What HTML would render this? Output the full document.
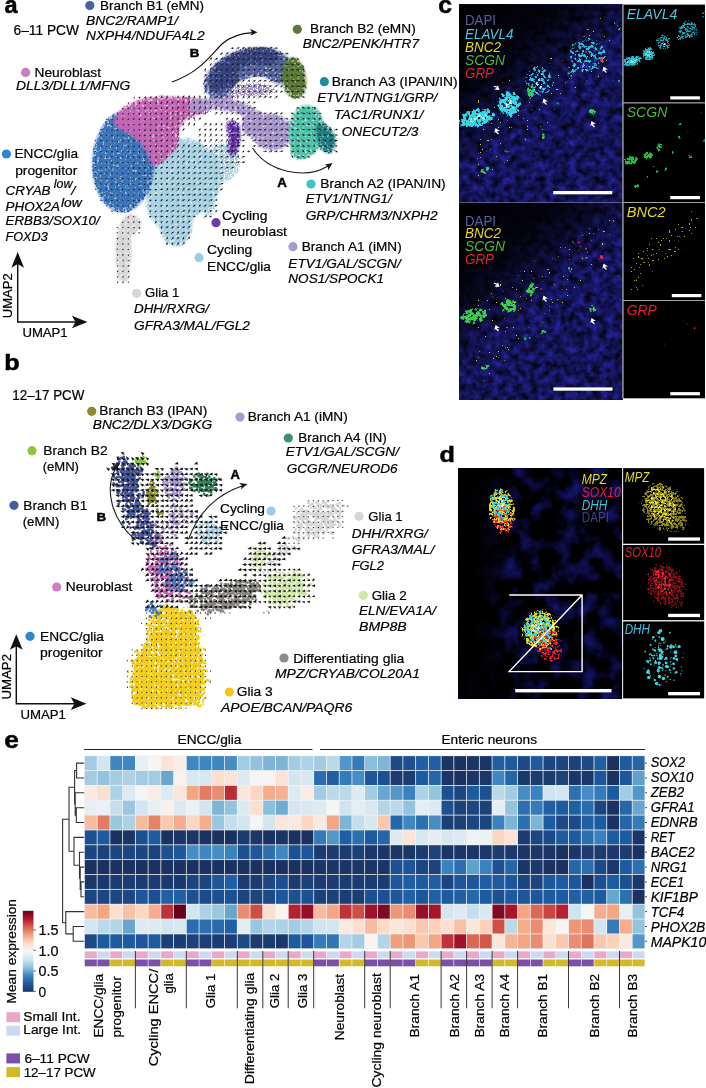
<!DOCTYPE html>
<html><head><meta charset="utf-8"><title>Figure</title>
<style>html,body{margin:0;padding:0;background:#fff}svg{display:block}text{font-family:"Liberation Sans",sans-serif;fill:#000;stroke:#000;stroke-width:.22px}text[style]{stroke:none}text.bd{stroke-width:.5px}text.bs{stroke-width:.45px}</style>
</head><body>
<svg width="706" height="1088" viewBox="0 0 706 1088">
<rect width="706" height="1088" fill="#fff"/>
<defs>
<filter id="pc" filterUnits="userSpaceOnUse" x="80" y="25" width="275" height="275" color-interpolation-filters="sRGB">
<feGaussianBlur stdDeviation="3.6" result="b"/>
<feTurbulence type="fractalNoise" baseFrequency="0.4" numOctaves="2" seed="4" result="n"/>
<feComposite in="b" in2="n" operator="in"/>
<feComponentTransfer result="t"><feFuncA type="linear" slope="12" intercept="-3.5"/></feComponentTransfer>
<feComponentTransfer in="b" result="h"><feFuncA type="table" tableValues="0 0 .05 .42 .5 .5"/></feComponentTransfer>
<feMerge><feMergeNode in="h"/><feMergeNode in="t"/></feMerge>
</filter>
<filter id="pc2" filterUnits="userSpaceOnUse" x="80" y="25" width="275" height="275" color-interpolation-filters="sRGB">
<feGaussianBlur stdDeviation="3.5" result="b"/>
<feTurbulence type="fractalNoise" baseFrequency="0.75" numOctaves="1" seed="9" result="n"/>
<feComposite in="b" in2="n" operator="in"/>
<feComponentTransfer><feFuncA type="linear" slope="14" intercept="-5.4"/></feComponentTransfer>
</filter>
</defs>
<g filter="url(#pc)" fill="#a9d3e4" stroke="#a9d3e4"><ellipse cx="182" cy="178" rx="40" ry="40"/><ellipse cx="176" cy="222" rx="17" ry="25"/><ellipse cx="164" cy="200" rx="18" ry="28"/></g>
<g filter="url(#pc2)" fill="#a9d3e4" stroke="#a9d3e4"><ellipse cx="223" cy="162" rx="19" ry="22"/><ellipse cx="208" cy="205" rx="10" ry="14"/></g>
<g filter="url(#pc)" fill="#d6d6d6" stroke="#d6d6d6"><ellipse cx="123.5" cy="250" rx="8" ry="28"/><ellipse cx="123.5" cy="276" rx="7" ry="7"/><ellipse cx="131" cy="224" rx="11" ry="10"/></g>
<g filter="url(#pc)" fill="#3b74b9" stroke="#3b74b9"><ellipse cx="123.7" cy="161.7" rx="31.5" ry="51" transform="rotate(3 123.7 161.7)"/></g>
<g filter="url(#pc)" fill="#c465b4" stroke="#c465b4"><path d="M111 124L121 108L140 99L165 96L200 98L210 104L200 114L186 119L179 129L178 147L166 160L153 169L146 152L135 137L120 130Z"/></g>
<g filter="url(#pc2)" fill="#c465b4" stroke="#c465b4"><ellipse cx="204" cy="110" rx="10" ry="7" transform="rotate(-5 204 110)"/></g>
<g filter="url(#pc)" fill="#a896cf" stroke="#a896cf"><ellipse cx="272" cy="132" rx="21" ry="18.5" transform="rotate(8 272 132)"/><ellipse cx="253" cy="126" rx="12" ry="11"/><path d="M194 106L215 103L240 107L262 120" fill="none" stroke-width="13" stroke-linecap="round"/></g>
<g filter="url(#pc2)" fill="#a896cf" stroke="#a896cf"><ellipse cx="252" cy="90" rx="26" ry="9"/><ellipse cx="222" cy="98" rx="14" ry="7"/></g>
<g filter="url(#pc)" fill="#5563a3" stroke="#5563a3"><path d="M218 84C223 72 238 63 255 62C267 61 276 64 280 70" fill="none" stroke-width="30" stroke-linecap="round"/></g>
<g filter="url(#pc)" fill="#36437f" stroke="#36437f"><path d="M216 84C220 68 236 58 252 56C260 55 266 55 272 57" fill="none" stroke-width="17" stroke-linecap="round"/><ellipse cx="228" cy="78" rx="11" ry="11"/></g>
<g filter="url(#pc)" fill="#5a7a35" stroke="#5a7a35"><ellipse cx="294" cy="78" rx="12.5" ry="21.5" transform="rotate(-8 294 78)"/></g>
<g filter="url(#pc)" fill="#6232a2" stroke="#6232a2"><ellipse cx="234.5" cy="140" rx="6" ry="18.5" transform="rotate(8 234.5 140)"/><ellipse cx="230" cy="126" rx="5" ry="7"/></g>
<g filter="url(#pc)" fill="#4cc3aa" stroke="#4cc3aa"><ellipse cx="306" cy="131" rx="18" ry="26.5" transform="rotate(5 306 131)"/><ellipse cx="300" cy="152" rx="10" ry="8"/></g>
<g filter="url(#pc)" fill="#1e7f82" stroke="#1e7f82"><ellipse cx="326.5" cy="139.5" rx="9.5" ry="14.5" transform="rotate(-10 326.5 139.5)"/><ellipse cx="321" cy="128" rx="6" ry="6"/></g>
<path d="M234.3 47.9l-2.2 1.3l-.3 -1.9zM239.8 47.2l-1.7 1.9l-.9 -1.7zM245 47.1l-1.4 2.1l-1.1 -1.6zM249.9 46.8l-.8 2.5l-1.5 -1.2zM255.7 47.2l-1.5 2.1l-1.1 -1.6zM261.7 47.6l-2 1.6l-.6 -1.8zM267.1 47.4l-1.9 1.8l-.7 -1.8zM272.7 47l-1.7 2l-.9 -1.7zM278.2 47.9l-2.3 1.2l-.2 -1.9zM223.1 52.6l-1.5 2.1l-1 -1.6zM228.8 52l-1.2 2.3l-1.3 -1.4zM234.1 52.6l-1.5 2.1l-1 -1.6zM239.6 52.3l-1.3 2.2l-1.2 -1.5zM245.6 53.3l-2.2 1.3l-.3 -1.9zM250.7 52.4l-1.5 2.1l-1 -1.6zM256 52.3l-1.3 2.2l-1.2 -1.5zM261.5 53.2l-2.1 1.4l-.4 -1.9zM266.9 53l-1.9 1.7l-.6 -1.8zM271.9 51.8l-.6 2.5l-1.5 -1.1zM278.1 52.5l-1.7 2l-.9 -1.7zM283.7 53.2l-2.2 1.4l-.4 -1.9zM288.9 54.1l-2.6 .3l.5 -1.8zM212.1 57.2l-.7 2.5l-1.5 -1.2zM218.1 57.8l-1.5 2.1l-1 -1.6zM223 57.6l-1 2.4l-1.3 -1.3zM228.5 57.4l-.9 2.4l-1.4 -1.3zM234.4 57.7l-1.5 2.1l-1.1 -1.6zM239.5 57.7l-1.2 2.3l-1.2 -1.4zM245.2 57.9l-1.5 2.1l-1 -1.6zM250.5 58.3l-1.8 1.8l-.8 -1.7zM255.7 57.3l-.8 2.4l-1.5 -1.2zM261.6 57.6l-1.3 2.2l-1.2 -1.5zM266.7 57.3l-.8 2.4l-1.4 -1.2zM273 58.5l-2.1 1.4l-.4 -1.9zM277.6 57.4l-1 2.4l-1.4 -1.3zM283.1 58.6l-2.1 1.5l-.5 -1.8zM288.3 60.1l-2.5 -.7l1.2 -1.5zM294.1 59.7l-2.6 -.1l.8 -1.7zM299.3 60l-2.5 -.7l1.1 -1.5zM211.7 62.7l-.4 2.6l-1.6 -.9zM218.2 63.2l-1.5 2.1l-1 -1.6zM222.9 63.3l-1.2 2.3l-1.2 -1.4zM228.6 63l-1.1 2.3l-1.3 -1.4zM233.7 62.7l-.6 2.5l-1.5 -1.1zM239.8 63.6l-1.8 1.8l-.8 -1.7zM244.9 62.9l-1 2.4l-1.4 -1.3zM250.6 63.4l-1.5 2.1l-1 -1.6zM255.6 63l-.9 2.4l-1.4 -1.3zM261.5 63.5l-1.6 2l-.9 -1.7zM267.3 63.8l-2 1.6l-.6 -1.8zM272.1 63.7l-1.7 2l-.9 -1.7zM277.7 63.7l-1.8 1.9l-.8 -1.7zM283.2 63.5l-1.6 2l-1 -1.6zM289.3 65l-2.6 .3l.5 -1.8zM294.2 65.1l-2.6 .1l.6 -1.8zM299.5 65.6l-2.5 -.6l1.1 -1.6zM205.4 67.8l.8 2.5l-1.9 -.1zM211.5 68l-.1 2.6l-1.7 -.8zM216.4 67.5l.7 2.5l-1.9 -.2zM223.3 68.5l-1.2 2.3l-1.2 -1.5zM228.1 67.9l-.3 2.6l-1.7 -.9zM233.9 68.4l-1 2.4l-1.4 -1.3zM239.7 69.3l-2 1.6l-.6 -1.8zM245 68.9l-1.6 2.1l-1 -1.6zM250.8 69.3l-2.1 1.6l-.5 -1.8zM256.2 69.3l-2 1.6l-.6 -1.8zM261.5 68.7l-1.4 2.1l-1.1 -1.6zM266.9 69.6l-2.2 1.4l-.3 -1.9zM272.3 68.9l-1.6 2l-1 -1.6zM277.9 69.3l-2 1.7l-.6 -1.8zM283.5 68.5l-1.4 2.2l-1.1 -1.6zM288.2 71.1l-2.4 -1l1.3 -1.4zM294.3 70.1l-2.5 .7l.2 -1.9zM299.9 69.8l-2.3 1.1l-.1 -1.9zM304.9 70.6l-2.6 -.1l.8 -1.7zM206.4 73.5l-.4 2.5l-1.6 -1zM211.9 73.3l-.4 2.5l-1.6 -1zM217.1 73.5l-.3 2.6l-1.7 -.9zM222.6 74l-.6 2.5l-1.5 -1.1zM228 73.8l-.5 2.5l-1.6 -1zM233.9 73.4l-.7 2.5l-1.5 -1.1zM239 74.1l-.8 2.5l-1.5 -1.2zM245 74.3l-1.5 2.1l-1 -1.6zM250.5 74.7l-2 1.7l-.6 -1.8zM256 74.5l-1.7 1.9l-.8 -1.7zM261.6 74.2l-1.5 2.1l-1 -1.6zM267 74.7l-2 1.6l-.6 -1.8zM272.4 74.4l-1.7 1.9l-.9 -1.7zM277.8 74.3l-1.6 2l-1 -1.6zM283.4 74.8l-2.1 1.6l-.5 -1.8zM288.6 76.6l-2.5 -.7l1.2 -1.5zM293.7 76.3l-2.5 -.8l1.2 -1.5zM300.1 75.6l-2.5 .7l.2 -1.9zM305.3 76l-2.6 .1l.7 -1.8zM206.4 78.8l-.4 2.6l-1.6 -1zM212.2 79.4l-1.2 2.3l-1.3 -1.4zM217.6 79.2l-1 2.4l-1.4 -1.3zM222.4 78.7l0 2.6l-1.8 -.7zM227.8 78.7l0 2.6l-1.8 -.7zM233.8 79.7l-1.3 2.2l-1.2 -1.5zM239.7 79.3l-1.2 2.3l-1.2 -1.5zM245 79.3l-1.2 2.3l-1.3 -1.4zM250.2 79.4l-1 2.4l-1.3 -1.3zM255.8 79.9l-1.6 2l-.9 -1.7zM261.8 79.7l-1.7 2l-.9 -1.7zM266.8 80.2l-2 1.7l-.6 -1.8zM272.4 79.2l-1.2 2.3l-1.3 -1.4zM277.6 79.7l-1.4 2.2l-1.1 -1.5zM283.4 79.8l-1.7 1.9l-.9 -1.7zM289 81l-2.5 .7l.2 -1.9zM294.6 81l-2.5 .7l.2 -1.9zM300.1 81l-2.5 .6l.2 -1.9zM305.1 81.5l-2.6 -.1l.8 -1.7zM205.2 84.3l1 2.4l-1.9 0zM211.4 84.6l-.1 2.6l-1.7 -.8zM217.2 84.8l-.6 2.5l-1.5 -1.1zM222 83.9l.6 2.5l-1.9 -.3zM228 84.7l-.5 2.5l-1.6 -1zM233.2 84.4l0 2.6l-1.8 -.7zM239.6 84.8l-1.2 2.3l-1.2 -1.5zM244.6 84.5l-.6 2.5l-1.5 -1.1zM250.1 84.7l-.8 2.5l-1.5 -1.2zM255.9 84.9l-1.3 2.2l-1.2 -1.5zM261.1 84.7l-.9 2.4l-1.4 -1.3zM267.1 86l-2.3 1.2l-.2 -1.9zM272.2 85.3l-1.6 2l-1 -1.6zM278.1 85l-1.6 2.1l-1 -1.6zM283 85.1l-1.4 2.2l-1.1 -1.5zM288.7 86.5l-2.5 .6l.3 -1.9zM294.4 85.9l-2.3 1.2l-.2 -1.9zM300.2 86.4l-2.5 .7l.2 -1.9zM305.6 86l-2.3 1.1l-.1 -1.9zM206.4 89.6l-.4 2.6l-1.6 -1zM211.9 89.9l-.6 2.5l-1.6 -1.1zM217.4 90l-.7 2.5l-1.5 -1.1zM223.1 89.9l-.9 2.4l-1.4 -1.3zM228.2 89.8l-.5 2.5l-1.6 -1zM233.9 90.6l-1.3 2.2l-1.1 -1.5zM239.2 89.8l-.6 2.5l-1.5 -1.1zM245.3 90.8l-1.8 1.8l-.7 -1.7zM250.3 90.2l-1 2.4l-1.3 -1.3zM256.3 90.7l-1.8 1.9l-.8 -1.7zM261.2 90.6l-1.5 2.1l-1 -1.6zM266.6 90.2l-1 2.4l-1.4 -1.3zM272.6 90.6l-1.7 1.9l-.8 -1.7zM278 90.5l-1.6 2l-.9 -1.7zM283 90.5l-1.3 2.2l-1.1 -1.5zM289.4 91.4l-2.3 1.2l-.2 -1.9zM294.6 91.8l-2.5 .7l.2 -1.9zM299.7 91.8l-2.5 .6l.3 -1.9zM305.3 91.6l-2.4 1l0 -1.9zM134.6 96.4l.2 2.1l-1.5 -.5zM140.4 96.2l-.5 2.5l-1.6 -1zM145.4 95.8l.7 2.5l-1.9 -.2zM151.5 95.9l-.6 2.5l-1.6 -1.1zM157 95.8l-.5 2.5l-1.6 -1.1zM162.2 95.6l0 2.6l-1.8 -.7zM167.2 95.2l.8 2.4l-1.9 -.1zM178.8 95.5l-.3 2.6l-1.7 -.9zM184.3 95.1l-.2 2.6l-1.7 -.8zM189.8 94.9l0 2.6l-1.8 -.7zM194.8 95.3l.3 2.6l-1.8 -.5zM199.9 94.9l.9 2.4l-1.9 0zM205.5 95.3l.6 2.5l-1.9 -.3zM211.7 95.5l-.5 2.5l-1.6 -1.1zM218 96.1l-1.8 1.9l-.8 -1.7zM222.4 95l0 2.6l-1.8 -.7zM228.2 95.6l-.7 2.5l-1.5 -1.2zM233.9 95.9l-1.2 2.3l-1.2 -1.5zM238 94.8l.9 2.4l-1.9 0zM244.5 95.5l-.6 2.5l-1.6 -1.1zM250.3 95.2l-.7 2.5l-1.5 -1.2zM255.8 96.4l-1.9 1.8l-.7 -1.8zM261.4 95.9l-1.4 2.2l-1.1 -1.5zM266.9 95.8l-1.4 2.1l-1.1 -1.6zM272 96.1l-1.5 2.1l-1 -1.6zM277.9 95.5l-1.2 2.3l-1.3 -1.4zM294.4 97.5l-2.6 .3l.5 -1.8zM300 97.1l-2.4 .8l.1 -1.9zM305.3 97.6l-2.6 .2l.5 -1.8zM129.3 102.1l-.6 1.9l-1.2 -.9zM134.8 102.1l-.9 1.9l-1 -1.1zM140.2 101.8l-.2 2.2l-1.4 -.8zM145.6 101.4l.3 2.6l-1.8 -.5zM151 101.5l.3 2.6l-1.8 -.5zM156.4 100.9l.7 2.5l-1.9 -.2zM162.1 101.3l-.1 2.6l-1.8 -.7zM168 100.7l-.3 2.6l-1.7 -.9zM173.3 101l-.3 2.6l-1.7 -.9zM179.4 100.8l-.8 2.4l-1.5 -1.2zM184 100.5l.2 2.6l-1.8 -.6zM189.6 100.2l.3 2.6l-1.8 -.5zM194.8 100.9l.2 2.6l-1.8 -.5zM200.8 100.6l-.3 2.6l-1.7 -.9zM206.4 100.7l-.5 2.5l-1.6 -1zM210.7 100.6l.9 2.4l-1.9 0zM217.3 101l-.7 2.5l-1.5 -1.2zM223 100.7l-.7 2.5l-1.5 -1.2zM227.9 100.9l-.3 2.6l-1.7 -.9zM234 101.3l-1.4 2.2l-1.1 -1.5zM239.3 100.5l-.5 2.5l-1.6 -1.1zM244.6 101.1l-.9 2.4l-1.4 -1.2zM250.4 101.2l-1.3 2.2l-1.2 -1.5zM256 101.7l-1.8 1.8l-.7 -1.7zM123.9 107.6l-1 1.8l-.9 -1.2zM129.3 107.6l-.9 1.7l-.9 -1.1zM134.7 107.5l-.4 2l-1.2 -.8zM140.3 107.4l-.7 2.1l-1.2 -1zM146.1 107.1l-1.1 2.3l-1.3 -1.4zM151.7 107.1l-1.2 2.3l-1.2 -1.5zM156.8 106.9l-.5 2.5l-1.6 -1zM162 106.6l.2 2.6l-1.8 -.6zM167.9 106.5l-.4 2.6l-1.7 -.9zM172.9 106.2l.4 2.5l-1.9 -.4zM179.1 106.1l-.5 2.5l-1.6 -1zM184.1 106l.1 2.6l-1.8 -.7zM189.7 106l0 2.6l-1.8 -.7zM194.6 105.8l.6 2.5l-1.9 -.2zM200.8 105.7l-.1 2.6l-1.7 -.8zM205.8 106.1l.2 2.6l-1.8 -.5zM211.7 106.3l-.5 2.5l-1.6 -1zM216.9 105.9l0 2.6l-1.8 -.7zM222.7 106.6l-.9 2.4l-1.4 -1.3zM228.4 106.3l-.9 2.4l-1.4 -1.3zM233.3 105.8l0 2.6l-1.8 -.7zM239 106.5l-.6 2.5l-1.5 -1.1zM244.4 106.6l-.7 2.5l-1.5 -1.2zM250.3 106.5l-1.1 2.3l-1.3 -1.4zM256.1 107l-1.7 1.9l-.9 -1.7zM299.7 108l-2.4 .9l.1 -1.9zM305.1 108.6l-2.6 0l.7 -1.8zM310.3 108.5l-2.6 -.1l.8 -1.7zM316.6 108.1l-2.5 .8l.1 -1.9zM118.4 112.9l-.6 1.9l-1.2 -.9zM123.9 113l-.9 1.8l-1 -1.1zM129.3 112.9l-.5 2l-1.2 -.9zM134.9 113l-1.2 1.8l-.9 -1.3zM140.3 112.5l-.4 2.5l-1.6 -.9zM145.3 112.2l1 2.4l-1.9 0zM151.3 112.1l-.2 2.6l-1.7 -.8zM156.9 112.2l-.6 2.5l-1.6 -1.1zM162.1 112.1l.1 2.6l-1.8 -.6zM167.3 111.4l.7 2.5l-1.9 -.2zM173.7 111.7l-.6 2.5l-1.6 -1.1zM178.1 111.2l.8 2.4l-1.9 -.1zM184.3 111.1l.1 2.6l-1.8 -.7zM189.5 111.5l.2 2.6l-1.8 -.6zM195.1 111.3l.1 2.6l-1.8 -.7zM200.6 111.8l-.3 2.6l-1.7 -.9zM206.4 112.1l-.9 2.4l-1.4 -1.3zM217.7 111.7l-1 2.4l-1.4 -1.3zM223.2 111.5l-.9 2.4l-1.4 -1.3zM228.4 112l-1.1 2.3l-1.3 -1.4zM234.2 112.3l-1.6 2l-1 -1.6zM239.6 111.8l-1.2 2.3l-1.3 -1.4zM245 112.6l-1.8 1.8l-.8 -1.7zM250.1 112.1l-1 2.4l-1.4 -1.3zM255.7 111.9l-1 2.4l-1.3 -1.4zM261.6 112l-1.4 2.2l-1.1 -1.5zM266.9 113l-2.2 1.3l-.3 -1.9zM272.2 112.4l-1.6 2l-1 -1.6zM278.3 112.5l-1.9 1.7l-.7 -1.8zM282.9 112.3l-1.4 2.2l-1.1 -1.5zM294 113.8l-2.6 .3l.5 -1.8zM299.6 113.4l-2.4 .8l.1 -1.9zM305.6 114l-2.6 .3l.5 -1.8zM311.1 113.8l-2.5 .4l.4 -1.9zM316.4 113.8l-2.6 .4l.4 -1.9zM321.8 113.4l-2.4 .9l.1 -1.9zM107.5 118.5l-1 1.6l-.8 -1.1zM112.8 118.4l-.4 1.9l-1.2 -.8zM118.5 118.5l-1.4 1.4l-.6 -1.3zM123.9 118.4l-.9 1.8l-1 -1.1zM129.3 118.4l-.9 1.8l-1 -1.1zM135 118.3l-1.3 1.9l-.9 -1.4zM140.5 118.2l-1.1 2.1l-1.2 -1.3zM145.8 117.8l-.2 2.6l-1.7 -.8zM151.5 117.8l-.8 2.5l-1.5 -1.2zM156.7 117.6l0 2.6l-1.8 -.7zM161.7 117.4l.8 2.4l-1.9 -.1zM168.1 117l-.4 2.6l-1.6 -1zM173.8 117.1l-.7 2.5l-1.5 -1.1zM178.2 117.1l.7 2.5l-1.9 -.2zM184.2 116.9l0 2.6l-1.8 -.7zM189.9 117.4l-.6 2.5l-1.6 -1.1zM193.6 116.5l1.6 2l-1.8 .6zM201.1 117.2l-.8 2.5l-1.5 -1.2zM228.1 117.3l-.6 2.5l-1.6 -1.1zM233.4 117.2l-.3 2.6l-1.7 -.9zM239.3 117.7l-1.4 2.2l-1.1 -1.5zM244.7 117.7l-1.3 2.2l-1.2 -1.5zM250.4 117.7l-1.5 2.1l-1.1 -1.6zM256.3 118l-1.9 1.7l-.7 -1.8zM261 117.5l-1.1 2.3l-1.3 -1.4zM266.9 117.5l-1.3 2.2l-1.1 -1.5zM272.5 118.2l-2 1.6l-.5 -1.8zM277.9 117.4l-1.3 2.2l-1.2 -1.5zM283.4 118.4l-2.2 1.4l-.3 -1.9zM288.6 119.4l-2.6 -.1l.8 -1.7zM294 119.3l-2.6 0l.7 -1.8zM299.5 119.4l-2.6 0l.7 -1.8zM305.1 118.7l-2.4 1l-.1 -1.9zM310.7 119.1l-2.5 .5l.3 -1.9zM316.1 119.6l-2.6 -.1l.8 -1.7zM321.4 118.7l-2.4 1l0 -1.9zM107.6 123.8l-.9 1.8l-1 -1.1zM112.9 123.8l-.6 1.9l-1.2 -1zM118.4 123.9l-.9 1.6l-.9 -1.1zM123.7 123.8l-.2 1.9l-1.3 -.7zM129.3 123.9l-.9 1.8l-1 -1.1zM134.8 123.9l-1.1 1.7l-.9 -1.2zM140.3 123.6l-.7 2.1l-1.3 -1zM146.3 123.7l-1.7 1.9l-.9 -1.7zM151.2 122.9l.1 2.6l-1.8 -.6zM156.7 123.2l-.2 2.6l-1.7 -.8zM161.6 122.5l1.1 2.3l-1.9 .1zM167.6 122.5l.2 2.6l-1.8 -.6zM173.3 122.3l-.1 2.6l-1.7 -.7zM178.8 122.1l0 2.6l-1.8 -.7zM184.3 122.7l-.4 2.5l-1.6 -1zM189.7 122.1l0 2.6l-1.8 -.7zM195.2 122.7l-.3 2.6l-1.7 -.9zM207 122.7l-1.2 2.3l-1.3 -1.4zM211.8 123l-1 2.4l-1.4 -1.3zM217.4 122.7l-.8 2.5l-1.5 -1.2zM222.4 122.6l-.2 2.6l-1.7 -.8zM234.1 122.6l-1 2.4l-1.3 -1.3zM239.5 122.4l-.8 2.4l-1.4 -1.2zM244.5 122.3l-.4 2.5l-1.6 -1zM250.7 122.7l-1.2 2.3l-1.2 -1.5zM255.6 122.9l-1.1 2.3l-1.3 -1.4zM261.4 123.1l-1.5 2.1l-1.1 -1.6zM267 123.9l-2.2 1.3l-.3 -1.9zM272.6 123.8l-2.2 1.4l-.4 -1.9zM278.1 123l-1.5 2.1l-1 -1.6zM283.7 123.1l-1.7 2l-.9 -1.7zM288.8 124.3l-2.5 .7l.2 -1.9zM294.3 125.4l-2.5 -.5l1 -1.6zM300 124.3l-2.4 .8l.1 -1.9zM305.3 124.3l-2.4 .8l.1 -1.9zM310.4 124.5l-2.5 .5l.4 -1.9zM315.9 125.8l-2.4 -1l1.3 -1.4zM321 125.3l-2.5 -.8l1.2 -1.5zM327.1 124.3l-2.5 .8l.1 -1.9zM102.2 129.5l-1.7 1l-.2 -1.5zM107.6 129.3l-1.2 1.7l-.8 -1.3zM113 129.3l-1 1.8l-.9 -1.1zM118.4 129.3l-.9 1.7l-.9 -1zM123.8 129.1l-.3 2l-1.3 -.7zM129.3 129.3l-1 1.7l-.9 -1.2zM134.9 129.1l-.8 2l-1.2 -1.1zM140.5 129.2l-1.4 1.8l-.8 -1.5zM145.9 128.7l-.5 2.5l-1.6 -1zM150.8 128.6l.7 2.5l-1.9 -.2zM156.8 128.6l-.3 2.6l-1.7 -.9zM162.7 128.6l-1.1 2.3l-1.3 -1.4zM167.2 128l.7 2.5l-1.9 -.2zM173.6 127.9l-.4 2.6l-1.6 -.9zM178.4 127.5l.5 2.5l-1.9 -.4zM184.6 127.9l-.6 2.5l-1.6 -1.1zM200.7 128l-.4 2.6l-1.6 -.9zM206.8 128.5l-1.4 2.2l-1.1 -1.5zM211.5 128.1l-.4 2.6l-1.7 -.9zM217.2 128l-.6 2.5l-1.6 -1.1zM222.3 128.1l-.1 2.6l-1.7 -.8zM233.6 127.7l-.3 2.6l-1.7 -.9zM239.5 128.3l-1.2 2.3l-1.2 -1.5zM244.9 128.8l-1.7 1.9l-.9 -1.7zM250.5 128l-1.1 2.3l-1.3 -1.4zM255.8 128.5l-1.3 2.2l-1.2 -1.5zM261.9 128.9l-2 1.6l-.6 -1.8zM266.6 128.7l-1.5 2.1l-1.1 -1.6zM272.7 128.5l-1.6 2l-.9 -1.7zM278.1 128.7l-1.8 1.9l-.8 -1.7zM283.7 128.7l-1.9 1.8l-.7 -1.8zM289.1 130.6l-2.6 -.2l.8 -1.7zM294.2 130.1l-2.6 .3l.5 -1.8zM299.5 129.7l-2.4 .9l.1 -1.9zM305.3 129.5l-2.3 1.1l-.1 -1.9zM311 129.5l-2.3 1.1l-.1 -1.9zM316.5 129.9l-2.5 .6l.2 -1.9zM321.2 130.5l-2.5 -.5l1 -1.6zM326.9 130.2l-2.6 .1l.6 -1.8zM332.3 129.8l-2.5 .7l.2 -1.9zM338.2 129l-2 1.6l-.5 -1.8zM102.2 135l-1.7 1l-.2 -1.4zM107.6 134.7l-1 1.7l-.9 -1.2zM113 134.7l-1 1.8l-1 -1.2zM118.3 134.7l-.5 1.9l-1.2 -.9zM123.9 134.7l-.9 1.9l-1 -1.1zM129.2 134.7l-.7 1.8l-1 -1zM134.7 134.6l-.5 2l-1.2 -.9zM140.1 134.3l.1 2.3l-1.6 -.6zM146 134.3l-1.1 2.3l-1.3 -1.4zM151.5 134.2l-.9 2.4l-1.4 -1.3zM156.4 133.9l.4 2.5l-1.9 -.4zM162.9 133.9l-1.1 2.4l-1.3 -1.4zM168.2 133.4l-.5 2.5l-1.6 -1zM173.7 133.5l-.7 2.5l-1.5 -1.1zM178.8 133.1l-.1 2.6l-1.7 -.8zM200.9 133.4l-.6 2.5l-1.6 -1.1zM205.6 133.2l.5 2.5l-1.9 -.4zM211.6 133.3l-.2 2.6l-1.7 -.9zM217.3 133.8l-.9 2.4l-1.4 -1.3zM222.8 133.9l-1 2.4l-1.3 -1.4zM228.5 133.7l-1.1 2.4l-1.3 -1.4zM233.8 133.4l-.8 2.5l-1.5 -1.2zM239.4 134.2l-1.6 2l-.9 -1.6zM245.5 134.4l-2 1.6l-.6 -1.8zM251 134.2l-1.9 1.7l-.7 -1.8zM255.9 133.7l-1.3 2.3l-1.2 -1.5zM262 134.2l-1.9 1.8l-.7 -1.8zM266.8 134.4l-1.8 1.8l-.8 -1.7zM272.4 134.8l-2.2 1.3l-.3 -1.9zM278.4 134.3l-2 1.6l-.6 -1.8zM283.5 134.7l-2.2 1.4l-.4 -1.9zM288.9 135.7l-2.6 .1l.6 -1.8zM293.9 136.1l-2.5 -.7l1.1 -1.5zM299.7 135.2l-2.5 .7l.2 -1.9zM305.3 135l-2.4 1l-.1 -1.9zM311.1 135.2l-2.5 .8l.1 -1.9zM316.1 135.9l-2.6 -.2l.8 -1.7zM322 134.9l-2.3 1.1l-.1 -1.9zM327 134.7l-2.2 1.4l-.4 -1.9zM332.9 135.5l-2.5 .5l.4 -1.9zM337.9 135.1l-2.4 .9l.1 -1.9zM96.7 140.4l-1.8 .9l-.1 -1.4zM102.2 140.2l-1.4 1.5l-.6 -1.4zM107.5 140.2l-1 1.6l-.8 -1.1zM113 140.1l-.9 1.9l-1 -1.1zM118.4 140l-.7 2l-1.2 -1zM123.9 140.1l-1 1.8l-.9 -1.2zM129.2 140.1l-.3 2l-1.2 -.8zM134.9 140l-1 2l-1.1 -1.2zM140.3 139.7l-.5 2.4l-1.5 -1zM145.8 139.8l-.7 2.4l-1.4 -1.1zM151.5 139.8l-1 2.3l-1.3 -1.4zM156.4 139.4l.6 2.5l-1.9 -.3zM162.7 139.6l-1.2 2.3l-1.2 -1.5zM168.2 139.3l-1 2.4l-1.3 -1.3zM173 138.7l.3 2.6l-1.8 -.5zM179 139l-.6 2.5l-1.6 -1.1zM200.4 138.7l.1 2.6l-1.8 -.6zM206.2 138.9l-.4 2.6l-1.6 -.9zM211.9 138.6l-.5 2.5l-1.6 -1zM217.4 138.7l-.6 2.5l-1.6 -1.1zM222.9 139.2l-1 2.4l-1.3 -1.4zM228.2 138.8l-.6 2.5l-1.6 -1.1zM234.6 139.7l-1.9 1.7l-.7 -1.8zM239.4 139l-1 2.4l-1.4 -1.3zM245 139.9l-2 1.6l-.6 -1.8zM256.5 139.8l-2 1.6l-.5 -1.8zM261.8 140.1l-2.2 1.4l-.4 -1.9zM267.3 140.5l-2.4 1l0 -1.9zM272.3 140.5l-2.4 .9l0 -1.9zM277.8 140.3l-2.3 1.1l-.2 -1.9zM283.4 139.2l-1.5 2.1l-1.1 -1.6zM289.3 140.9l-2.5 .5l.4 -1.9zM294.4 140.8l-2.5 .6l.3 -1.9zM300.1 141.4l-2.6 0l.7 -1.8zM305.5 141.5l-2.6 -.1l.8 -1.7zM310.4 140.8l-2.5 .4l.4 -1.9zM315.6 141.9l-2.3 -1.1l1.4 -1.3zM321.2 141l-2.6 .1l.6 -1.8zM327.1 141.3l-2.6 -.1l.8 -1.7zM332.6 139.6l-1.8 1.8l-.8 -1.7zM337.9 140.4l-2.4 1l0 -1.9zM96.7 145.8l-1.5 1.2l-.4 -1.4zM102.1 145.6l-1.1 1.7l-.9 -1.2zM107.5 145.6l-1.1 1.6l-.8 -1.2zM113.1 145.6l-1.3 1.6l-.7 -1.3zM118.5 145.6l-1.3 1.6l-.7 -1.3zM124 145.8l-1.5 1.2l-.4 -1.4zM129.2 145.5l-.4 2l-1.3 -.8zM134.9 145.5l-1.1 1.9l-1 -1.2zM140.3 145.3l-.7 2.2l-1.3 -1zM146 145.3l-1.1 2.3l-1.3 -1.4zM151.8 145.1l-1.4 2.2l-1.1 -1.5zM156.9 144.6l-.3 2.6l-1.7 -.9zM162.8 144.9l-1.2 2.3l-1.3 -1.4zM167.9 144.7l-.5 2.5l-1.6 -1.1zM173.6 144.5l-.6 2.5l-1.6 -1.1zM178.8 143.7l0 2.6l-1.8 -.7zM184.7 143.9l-.5 2.5l-1.6 -1zM189.7 144.3l-.3 2.6l-1.7 -.9zM196.3 144.8l-1.6 2l-.9 -1.7zM201.1 144.7l-1.1 2.3l-1.3 -1.4zM207.2 144.9l-1.7 1.9l-.8 -1.7zM211.8 144.2l-.5 2.5l-1.6 -1zM217.7 144.6l-1.3 2.2l-1.2 -1.5zM223.4 144.6l-1.4 2.2l-1.1 -1.5zM228.6 144.4l-1 2.4l-1.3 -1.4zM234 144.8l-1.4 2.2l-1.1 -1.5zM239.9 145.7l-2.3 1.2l-.2 -1.9zM245 144.8l-1.4 2.2l-1.1 -1.5zM256.2 145.4l-2.1 1.5l-.5 -1.8zM262 145.2l-2 1.6l-.5 -1.8zM267.1 144.5l-1.4 2.2l-1.1 -1.5zM272.2 145.3l-1.9 1.7l-.7 -1.8zM278.3 145.6l-2.3 1.2l-.2 -1.9zM283.3 146.8l-2.6 -.3l.9 -1.7zM289 147l-2.6 -.3l.9 -1.7zM294.3 147.2l-2.5 -.6l1.1 -1.5zM300 145.5l-2.2 1.4l-.4 -1.9zM304.9 147l-2.5 -.6l1.1 -1.6zM310.6 146.3l-2.5 .5l.4 -1.9zM315.6 147l-2.5 -.8l1.2 -1.5zM321.8 146.3l-2.5 .5l.4 -1.9zM327.4 146.7l-2.6 .1l.6 -1.8zM332.8 146.5l-2.6 .3l.5 -1.8zM337.8 146.6l-2.6 0l.7 -1.8zM96.6 151.2l-1.5 1.1l-.4 -1.3zM102.1 151.2l-1.5 1.1l-.3 -1.4zM107.6 151l-1.1 1.8l-.9 -1.2zM113 151.1l-1.2 1.5l-.7 -1.3zM118.6 151.1l-1.6 1.4l-.5 -1.4zM123.9 151.2l-1.4 1.4l-.6 -1.3zM129.4 151.2l-1.5 1.3l-.5 -1.4zM135 150.9l-1.3 1.8l-.9 -1.4zM140.1 150.7l0 2.2l-1.5 -.6zM145.8 150.7l-.6 2.3l-1.4 -1zM151.7 150.5l-1.2 2.3l-1.3 -1.4zM157.2 150.3l-1 2.4l-1.4 -1.3zM163.1 150.4l-1.5 2.1l-1.1 -1.6zM168.5 150l-1.1 2.4l-1.3 -1.4zM173.8 149.8l-.7 2.5l-1.5 -1.2zM179 150.1l-.7 2.5l-1.5 -1.2zM184.3 149.5l-.2 2.6l-1.7 -.8zM189.5 149.6l.1 2.6l-1.8 -.6zM196.2 150.2l-1.5 2.1l-1 -1.6zM200.8 149.5l-.4 2.6l-1.6 -.9zM206.7 150.3l-1.4 2.2l-1.1 -1.5zM211.7 149.6l-.3 2.6l-1.7 -.9zM218 149.8l-1.3 2.2l-1.2 -1.5zM223.2 150.3l-1.5 2.1l-1.1 -1.6zM229.1 150.1l-1.6 2.1l-1 -1.6zM234.4 150l-1.4 2.2l-1.1 -1.6zM239.8 150.7l-2 1.7l-.6 -1.8zM244.6 150.2l-1 2.4l-1.4 -1.3zM250.6 151.1l-2.2 1.3l-.3 -1.9zM267.3 151.3l-2.4 1l0 -1.9zM272.7 150.6l-1.9 1.8l-.7 -1.8zM278 151l-2.2 1.4l-.4 -1.9zM283.6 151l-2.2 1.3l-.3 -1.9zM294.5 151.9l-2.6 .3l.5 -1.8zM299.2 152.6l-2.4 -1l1.3 -1.4zM304.6 152.4l-2.4 -.9l1.3 -1.4zM310.8 152.6l-2.5 -.5l1 -1.6zM316.2 152.1l-2.6 0l.7 -1.8zM326.9 151.9l-2.6 .2l.6 -1.8zM332.3 152.3l-2.6 -.4l.9 -1.7zM338.2 152.3l-2.6 -.1l.8 -1.7zM96.7 156.7l-1.6 1.1l-.3 -1.4zM102.2 156.7l-1.8 .9l-.1 -1.5zM107.6 156.4l-1 1.7l-.9 -1.2zM113.1 156.7l-1.7 .9l-.1 -1.4zM118.4 156.3l-.6 2l-1.2 -1zM123.9 156.5l-1.3 1.5l-.7 -1.3zM129.4 156.5l-1.4 1.5l-.6 -1.3zM135 156.4l-1.4 1.7l-.8 -1.4zM140.7 156.3l-1.6 2l-.9 -1.6zM146 155.9l-.8 2.4l-1.4 -1.2zM151.6 156.3l-1.6 2l-.9 -1.6zM157.1 155.9l-1 2.4l-1.3 -1.4zM162.5 155.5l-.5 2.5l-1.6 -1.1zM168.4 155.9l-1.5 2.1l-1.1 -1.6zM173.9 155.8l-1.4 2.2l-1.1 -1.6zM179.2 155.1l-.7 2.5l-1.5 -1.1zM185.1 155.1l-1 2.4l-1.3 -1.3zM190.1 155.6l-1 2.4l-1.4 -1.3zM195.4 155.4l-.7 2.5l-1.5 -1.2zM201.1 155.6l-1.1 2.3l-1.3 -1.4zM206.7 155.3l-1 2.4l-1.3 -1.4zM212 155.7l-1.3 2.2l-1.2 -1.5zM217.4 155.2l-.7 2.5l-1.5 -1.2zM223.3 156l-1.8 1.8l-.8 -1.7zM229 156.3l-2.1 1.5l-.5 -1.8zM234.5 155.9l-1.9 1.8l-.7 -1.8zM239.4 155.4l-1.1 2.3l-1.3 -1.4zM245.3 156.2l-2 1.6l-.5 -1.8zM293.4 158.1l-2.1 -1.4l1.6 -1.1zM299.8 157.7l-2.6 -.2l.8 -1.7zM305.2 157.6l-2.6 -.1l.8 -1.7zM310.6 157.2l-2.6 .4l.4 -1.8zM96.7 162.3l-1.9 .4l.2 -1.4zM102.2 162.1l-1.7 .9l-.2 -1.4zM107.6 162.2l-1.7 .8l-.1 -1.4zM113.1 161.9l-1.3 1.6l-.8 -1.3zM118.5 162l-1.5 1.3l-.5 -1.4zM124 161.9l-1.4 1.5l-.7 -1.4zM129.4 162.2l-1.8 .8l-.1 -1.4zM134.9 161.7l-.8 2.1l-1.2 -1.1zM140.5 161.9l-1.4 1.7l-.8 -1.4zM146.2 161.6l-1.5 2.1l-1 -1.6zM151.8 161.5l-1.5 2.1l-1 -1.6zM157.2 161.6l-1.6 2l-1 -1.6zM162.5 161.1l-.7 2.5l-1.5 -1.2zM168.3 160.8l-.8 2.4l-1.4 -1.2zM174.1 160.7l-1 2.4l-1.3 -1.3zM179.2 161.1l-1.1 2.3l-1.3 -1.4zM184.5 160l-.2 2.6l-1.7 -.8zM189.9 160.8l-.6 2.5l-1.5 -1.1zM195.6 161.1l-1.2 2.3l-1.3 -1.4zM201.8 160.8l-1.4 2.1l-1.1 -1.6zM206.8 161.5l-1.8 1.8l-.8 -1.7zM212.6 161.6l-2 1.6l-.5 -1.8zM217.9 160.7l-1.2 2.3l-1.2 -1.4zM223.4 161.6l-2 1.7l-.6 -1.8zM228.8 161.7l-2 1.6l-.5 -1.8zM234.4 161.6l-2 1.6l-.6 -1.8zM240.1 161.5l-2 1.7l-.6 -1.8zM245.4 161.8l-2.2 1.4l-.4 -1.9zM96.7 167.6l-1.8 .8l-.1 -1.4zM102.1 167.6l-1.7 .8l-.1 -1.4zM107.7 167.6l-1.8 1l-.2 -1.5zM113 167.4l-1.3 1.4l-.6 -1.2zM118.6 167.4l-1.5 1.4l-.6 -1.4zM123.9 167.4l-1.1 1.6l-.8 -1.2zM129.4 167.2l-.8 1.9l-1.1 -1.1zM135 167.3l-1.4 1.7l-.8 -1.4zM140.6 167l-1.2 2.2l-1.2 -1.4zM146.3 167.1l-1.7 2l-.9 -1.7zM151.5 166.8l-.8 2.4l-1.4 -1.2zM157.2 166.6l-1 2.4l-1.4 -1.3zM163.2 166.7l-1.6 2.1l-1 -1.6zM168.5 167.3l-2.2 1.4l-.4 -1.9zM173.7 166.4l-1 2.4l-1.4 -1.3zM179.6 166.3l-1.2 2.3l-1.2 -1.4zM185.3 166.7l-1.7 2l-.9 -1.7zM190.2 166.3l-1 2.4l-1.4 -1.3zM195.9 166.1l-1 2.4l-1.3 -1.4zM200.9 166.4l-.9 2.4l-1.4 -1.3zM206.6 166.6l-1.3 2.2l-1.2 -1.5zM212.7 166.8l-1.8 1.8l-.7 -1.8zM217.5 166.3l-1.1 2.4l-1.3 -1.4zM223.2 166.7l-1.6 2l-.9 -1.7zM228.8 166.9l-1.9 1.8l-.7 -1.8zM234.4 166.7l-1.8 1.9l-.8 -1.7zM96.7 172.8l-1.3 1.6l-.7 -1.3zM102.3 172.9l-1.6 1.4l-.5 -1.5zM107.7 173.1l-2 .5l.2 -1.5zM113 172.9l-1.4 1.3l-.5 -1.3zM118.5 172.9l-1.5 1.2l-.4 -1.4zM124 172.9l-1.7 1.2l-.3 -1.5zM129.5 172.8l-1.5 1.4l-.6 -1.4zM135.1 172.8l-1.8 1.4l-.5 -1.6zM140.8 172.9l-2.2 1.3l-.3 -1.9zM146.2 172.7l-1.9 1.7l-.7 -1.8zM151.4 172.2l-.7 2.5l-1.5 -1.2zM157.1 172.2l-1 2.4l-1.3 -1.3zM162.9 172.5l-1.8 1.8l-.8 -1.7zM168.4 171.5l-.8 2.4l-1.5 -1.2zM174.1 172.4l-1.8 1.8l-.8 -1.7zM179.2 171l-.4 2.5l-1.6 -1zM184.7 171.9l-1.2 2.3l-1.3 -1.4zM190.4 172.3l-1.7 2l-.9 -1.7zM196.4 172.2l-1.8 1.8l-.7 -1.8zM201.7 171.9l-1.6 2l-1 -1.6zM206.5 171.7l-.9 2.4l-1.4 -1.3zM212.5 172.2l-1.8 1.9l-.8 -1.7zM218 172.4l-1.9 1.7l-.6 -1.8zM223.9 172.5l-2.1 1.5l-.5 -1.8zM96.7 178.5l-1.8 .8l-.1 -1.4zM102.3 178.5l-2 .6l.1 -1.5zM107.6 178.4l-1.8 .9l-.2 -1.4zM113.2 178.3l-1.7 1.2l-.3 -1.5zM118.5 178.6l-1.9 .1l.4 -1.3zM124.1 178.3l-1.6 1.4l-.5 -1.5zM129.4 178.2l-1.3 1.6l-.7 -1.3zM135 178.2l-1.4 1.6l-.7 -1.4zM140.4 178l-1.1 1.9l-1 -1.3zM146.3 178.1l-1.9 1.7l-.7 -1.8zM151.8 178l-1.8 1.8l-.7 -1.7zM157.2 177.9l-1.6 2l-.9 -1.7zM162.8 177.8l-1.7 2l-.9 -1.7zM168.6 177.3l-1.3 2.3l-1.2 -1.5zM173.9 176.7l-.6 2.5l-1.5 -1.1zM179.5 177.6l-1.5 2.1l-1 -1.6zM185.2 177.1l-1.3 2.2l-1.2 -1.5zM190.5 177.3l-1.4 2.2l-1.1 -1.5zM195.9 177.2l-1.3 2.3l-1.2 -1.5zM201.2 177.6l-1.5 2.1l-1 -1.6zM207.1 177l-1.3 2.2l-1.2 -1.5zM212.9 177.6l-1.9 1.8l-.7 -1.8zM218 177.6l-1.7 1.9l-.8 -1.7zM223.3 177.6l-1.7 1.9l-.9 -1.7zM96.8 184l-2 .4l.3 -1.5zM102.2 184l-1.9 .5l.1 -1.4zM107.6 183.8l-1.5 1.3l-.4 -1.4zM113.2 183.8l-1.7 1.2l-.4 -1.5zM118.6 183.7l-1.5 1.5l-.6 -1.4zM123.9 183.8l-1.5 1.2l-.4 -1.4zM129.4 183.6l-1.2 1.6l-.8 -1.2zM134.9 183.7l-1.6 1.3l-.5 -1.4zM140.5 183.6l-1.5 1.7l-.7 -1.5zM146 183.5l-1.5 1.9l-.9 -1.5zM151.8 183.4l-1.8 1.8l-.8 -1.7zM157.6 183.2l-1.7 2l-.9 -1.7zM162.8 183l-1.3 2.2l-1.2 -1.5zM168.5 183.8l-2.3 1.2l-.2 -1.9zM173.9 183l-1.5 2.1l-1.1 -1.6zM179.8 182.5l-1.3 2.2l-1.2 -1.5zM185.1 182.9l-1.5 2.1l-1 -1.6zM191.1 183.1l-2 1.7l-.6 -1.8zM195.6 182.4l-.9 2.4l-1.4 -1.2zM201.8 182.6l-1.5 2.1l-1.1 -1.6zM206.7 183.1l-1.6 2l-.9 -1.7zM212.1 182.8l-1.3 2.2l-1.2 -1.5zM217.6 182.8l-1.3 2.2l-1.2 -1.5zM223.7 183l-1.8 1.8l-.8 -1.7zM96.7 189.4l-1.9 .4l.2 -1.4zM102.1 189.2l-1.6 1.1l-.3 -1.4zM107.6 189.4l-1.9 .3l.3 -1.4zM113.2 189.3l-1.8 1l-.2 -1.5zM118.5 189.3l-1.6 1l-.3 -1.4zM124 189.2l-1.6 1.3l-.4 -1.4zM129.3 189.1l-1.2 1.5l-.7 -1.2zM135 189.2l-1.6 1.3l-.5 -1.5zM140.6 189.1l-1.9 1.4l-.4 -1.7zM146.2 188.6l-1.3 2.2l-1.2 -1.5zM151.7 188.9l-1.8 1.8l-.7 -1.7zM157.3 188.9l-1.9 1.8l-.7 -1.8zM163.4 188.9l-2.1 1.5l-.4 -1.8zM168.4 187.8l-.7 2.5l-1.5 -1.2zM173.5 187.7l-.4 2.5l-1.6 -1zM179.5 187.5l-.8 2.5l-1.5 -1.2zM184.6 187.4l-.4 2.6l-1.7 -.9zM190.4 188.7l-1.8 1.8l-.8 -1.7zM196.2 188.3l-1.6 2l-.9 -1.7zM201.4 188.9l-2.1 1.5l-.5 -1.8zM207.2 188.7l-2 1.7l-.6 -1.8zM212.6 188.5l-1.8 1.9l-.8 -1.7zM218.1 188.5l-1.9 1.8l-.7 -1.8zM222.9 188.3l-1.3 2.2l-1.2 -1.5zM102.3 194.9l-2 .4l.3 -1.5zM107.6 194.8l-1.8 .7l0 -1.5zM113.1 194.6l-1.6 1.3l-.5 -1.4zM118.5 194.7l-1.6 1.1l-.3 -1.4zM124 194.7l-1.7 1.1l-.3 -1.4zM129.4 194.5l-1.2 1.7l-.8 -1.3zM135 194.5l-1.5 1.6l-.7 -1.4zM140.4 194.2l-.8 2.1l-1.2 -1.1zM146 194.2l-1.2 2.2l-1.2 -1.4zM151.8 194.2l-1.6 2l-.9 -1.7zM157.2 194l-1.3 2.2l-1.2 -1.5zM162.8 193.6l-1 2.4l-1.4 -1.3zM168.9 193.7l-1.6 2l-.9 -1.7zM174.2 193.9l-1.6 2l-.9 -1.7zM179.5 193.9l-1.6 2l-.9 -1.7zM184.9 194.1l-1.8 1.8l-.8 -1.7zM191.2 194.3l-2.2 1.4l-.3 -1.9zM196.2 193.7l-1.7 2l-.9 -1.7zM201.7 193.6l-1.6 2.1l-1 -1.6zM207.1 193.8l-1.6 2l-.9 -1.7zM212.4 193.6l-1.4 2.2l-1.1 -1.5zM217.7 194.4l-2.1 1.4l-.4 -1.9zM102.2 200.1l-1.6 1.1l-.3 -1.4zM107.6 200.2l-1.9 .6l.1 -1.5zM113.1 200.1l-1.6 1.2l-.4 -1.4zM118.6 200.2l-1.8 .8l-.1 -1.5zM124 200.2l-1.9 .6l.1 -1.5zM129.3 200l-1.4 1.3l-.5 -1.3zM135.1 199.9l-1.6 1.6l-.6 -1.5zM140.7 200l-2 1.4l-.4 -1.8zM151.9 199.9l-2.1 1.5l-.4 -1.9zM157.2 199.5l-1.4 2.1l-1.1 -1.6zM163.1 199.2l-1.5 2.1l-1 -1.6zM168.2 199.3l-1.2 2.3l-1.2 -1.4zM174.2 198.9l-1.3 2.2l-1.1 -1.5zM179.4 199l-1.2 2.3l-1.2 -1.5zM185.2 199.3l-1.7 1.9l-.9 -1.7zM190.3 199.2l-1.5 2.1l-1.1 -1.6zM196.5 199.3l-1.8 1.8l-.7 -1.8zM201 198.6l-.7 2.5l-1.5 -1.2zM207 199.8l-2.1 1.5l-.5 -1.8zM212.8 199.3l-1.8 1.9l-.8 -1.7zM217.5 198.9l-1.1 2.3l-1.3 -1.4zM107.6 205.4l-1.3 1.4l-.6 -1.3zM113 205.5l-1.4 1.3l-.5 -1.3zM118.6 205.7l-2 .4l.3 -1.5zM124 205.4l-1.5 1.4l-.5 -1.4zM129.4 205.3l-1.2 1.7l-.8 -1.3zM135 205.4l-1.6 1.4l-.5 -1.5zM151.6 205l-1.3 2.2l-1.2 -1.5zM157.2 205l-1.5 2.1l-1 -1.6zM162.8 204.8l-1.4 2.2l-1.1 -1.5zM168.3 204.7l-1.4 2.2l-1.1 -1.5zM174.4 204.7l-1.7 1.9l-.8 -1.7zM180 204.8l-1.9 1.8l-.7 -1.8zM185.3 205.1l-2 1.6l-.5 -1.8zM190.1 204.6l-1.2 2.3l-1.3 -1.4zM195.7 204.3l-1 2.4l-1.3 -1.3zM200.8 204.2l-.6 2.5l-1.6 -1.1zM206.7 204.3l-1.2 2.3l-1.3 -1.4zM213 205.2l-2.2 1.4l-.4 -1.9zM217.8 205.1l-2 1.6l-.6 -1.8zM113.1 210.9l-1.6 1.2l-.4 -1.4zM118.5 210.7l-1.1 1.8l-.9 -1.2zM124 210.9l-1.6 1.3l-.5 -1.4zM129.4 210.8l-1.3 1.5l-.7 -1.3zM151.8 210.4l-1.5 2.1l-1.1 -1.6zM157.2 210.5l-1.6 2.1l-1 -1.6zM162.9 210.2l-1.5 2.1l-1 -1.6zM169 210.3l-1.9 1.8l-.7 -1.8zM174.4 209.7l-1.4 2.2l-1.1 -1.5zM178.8 209.7l-.3 2.6l-1.7 -.9zM185.5 210.3l-1.9 1.7l-.7 -1.8zM189.6 209l.1 2.6l-1.8 -.7zM195.6 210l-1.2 2.3l-1.2 -1.4zM201.2 210.1l-1.5 2.1l-1 -1.6zM206.6 210l-1.2 2.3l-1.2 -1.5zM211.7 209.8l-.8 2.5l-1.5 -1.2zM217.5 209.9l-1.2 2.3l-1.2 -1.5zM129.2 216.2l-.8 1.7l-1 -1zM134.9 216.3l-1.6 1.3l-.4 -1.4zM151.7 216.1l-1.8 1.8l-.8 -1.7zM157.2 215.9l-1.6 2l-1 -1.6zM163.4 216.2l-2.2 1.3l-.3 -1.9zM168.4 216l-1.9 1.7l-.7 -1.8zM174.1 215.2l-1.3 2.2l-1.2 -1.5zM179.4 215.6l-1.5 2.1l-1 -1.6zM185.1 215.5l-1.6 2.1l-1 -1.6zM190.9 216.2l-2.2 1.3l-.3 -1.9zM196 216l-2.1 1.5l-.5 -1.8zM207.3 215.4l-1.6 2l-.9 -1.7zM212.2 215.8l-1.8 1.8l-.8 -1.7zM123.9 221.7l-1.2 1.6l-.8 -1.3zM129.4 221.7l-1.4 1.3l-.5 -1.3zM135 221.7l-1.6 1.4l-.5 -1.5zM140.6 221.3l-1.2 2.2l-1.2 -1.4zM157.2 221.3l-1.5 2.1l-1 -1.6zM162.8 221.1l-1.4 2.2l-1.1 -1.5zM168.1 221l-1.1 2.3l-1.3 -1.4zM173.2 220l.1 2.6l-1.8 -.6zM179.2 220.8l-1.1 2.3l-1.3 -1.4zM184.8 220.9l-1.3 2.2l-1.1 -1.5zM190.4 220.2l-.9 2.4l-1.4 -1.3zM118.5 227.3l-1.6 1.1l-.3 -1.4zM123.9 227.2l-1.5 1.1l-.4 -1.3zM129.4 227.1l-1.4 1.5l-.6 -1.3zM134.9 227l-1.2 1.7l-.8 -1.3zM140.5 226.9l-1.2 2l-1 -1.4zM162.2 225.6l.2 2.6l-1.8 -.5zM168.9 226.5l-1.8 1.8l-.8 -1.7zM173.7 226l-.8 2.4l-1.5 -1.2zM179.3 226.4l-1.3 2.2l-1.1 -1.5zM185.4 226.5l-1.9 1.8l-.7 -1.8zM190.2 225.6l-.7 2.5l-1.5 -1.1zM118.5 232.7l-1.7 .9l-.1 -1.4zM124 232.7l-1.8 1l-.2 -1.5zM129.4 232.5l-1.4 1.5l-.7 -1.3zM134.9 232.5l-1.3 1.7l-.8 -1.3zM140.6 232.7l-2 1.1l-.2 -1.6zM162.5 231.7l-.8 2.5l-1.5 -1.2zM168.8 231.8l-1.6 2l-.9 -1.7zM174.1 231.5l-1.2 2.3l-1.2 -1.5zM179.1 230.9l-.4 2.5l-1.6 -1zM185.3 231.8l-1.7 1.9l-.9 -1.7zM190 231.6l-1 2.4l-1.4 -1.3zM118.4 237.8l-.8 1.9l-1.1 -1.1zM123.8 237.9l-.5 1.9l-1.1 -.9zM129.3 237.8l-.6 2l-1.2 -.9zM168.1 236.7l-.6 2.5l-1.6 -1.1zM173.8 236.5l-.7 2.5l-1.5 -1.1zM179.6 237.2l-1.6 2l-1 -1.6zM184.2 236.6l-.2 2.6l-1.7 -.8zM190.3 236.7l-1 2.4l-1.4 -1.3zM118.5 243.3l-1.1 1.7l-.9 -1.2zM124 243.4l-1.4 1.6l-.7 -1.4zM129.3 243.4l-1.1 1.5l-.7 -1.2zM168.1 242.2l-.6 2.5l-1.6 -1.1zM173.5 242.3l-.7 2.5l-1.5 -1.1zM179.3 242l-.8 2.5l-1.5 -1.2zM184.8 241.7l-.6 2.5l-1.5 -1.1zM118.5 249l-1.8 .9l-.1 -1.4zM123.9 248.8l-1.2 1.6l-.8 -1.2zM129.4 248.9l-1.4 1.4l-.6 -1.3zM118.4 254.1l-.7 1.9l-1.1 -1zM124 254.2l-1.2 1.7l-.9 -1.3zM129.1 254.1l-.2 1.9l-1.3 -.6zM118.4 259.7l-1.1 1.5l-.7 -1.2zM123.7 259.6l-.3 1.9l-1.2 -.7zM129.3 259.7l-1 1.6l-.8 -1.1zM118.4 265l-.7 1.8l-1.1 -.9zM123.7 264.9l-.2 2l-1.3 -.7zM129.3 265l-.8 1.9l-1.1 -1.1zM118.5 270.4l-.9 1.9l-1.1 -1.1zM123.8 270.5l-.7 1.8l-1 -1zM129.3 270.3l-.4 2.1l-1.3 -.8zM118.4 275.7l-.4 2.1l-1.3 -.8zM123.8 275.8l-.5 2l-1.3 -.9zM129.2 275.7l-.1 2.1l-1.4 -.7zM118.4 281.2l-.5 2l-1.2 -.9zM123.8 281.2l-.5 2l-1.3 -.9zM129.3 281.4l-.8 1.7l-1 -1z" fill="#141414"/><path d="M231.9 48.3l-1.2 .2M237.7 48.3l-1.5 .8M243 48.4l-1.2 .9M248.4 48.7l-.7 .8M253.7 48.6l-.8 .5M259.4 48.3l-1.6 .5M264.9 48.3l-1.6 .6M270.6 48.2l-2 1.1M275.8 48.2l-1.8 .2M221.1 53.9l-1.1 .7M227 53.6l-1.8 1.6M232 53.9l-1.1 .7M237.7 53.8l-1.4 1.1M243.2 53.6l-2 .3M248.7 53.7l-1.6 1M254.1 53.8l-1.5 1.1M259.1 53.7l-1.1 .2M264.7 53.8l-1.2 .4M270.5 53.8l-1.1 1.6M276 53.7l-1.9 1M281.3 53.6l-1.9 .4M286.6 53.5l-1.4 -.4M210.6 59.1l-1.3 1.7M216 59.1l-1.8 1.2M221.3 59.3l-1.1 1.1M226.9 59.2l-1.3 1.4M232.4 59.1l-1.8 1.2M237.7 59.3l-1.3 1.1M243.1 59.2l-1.5 1M248.2 59.3l-1 .4M254.2 59.2l-1.3 1.5M259.7 59.1l-1.8 1.4M265.1 59.1l-1.4 1.6M270.6 59l-2.3 .5M276 59.1l-1.4 1.5M280.8 59.2l-.9 .2M286.4 58.6l-.7 -.6M291.9 58.8l-1 -.5M297.3 58.6l-.8 -.6M210.5 64.8l-.8 1.4M216.1 64.5l-2 1.2M221.1 64.9l-.9 .7M226.9 64.6l-1.4 1.3M232.4 64.7l-1.1 1.5M237.7 64.6l-1.6 .7M243.2 64.6l-1.3 1.3M248.5 64.6l-1.4 .9M254 64.7l-1.1 1.2M259.4 64.7l-1.4 .8M265 64.5l-1.9 .6M270 64.8l-.7 .4M275.5 64.7l-1 .5M281.1 64.7l-1.2 .7M286.9 64.4l-2.2 -.5M292 64.3l-1.3 -.4M297.6 64.2l-1.3 -.9M205.2 70.2l-.1 1.7M210.6 70.2l-.7 1.6M216.1 69.9l-.2 2.3M221.4 70l-1.5 1.3M227 70l-1 1.9M232.2 70.2l-1.1 1.1M237.4 70.1l-1.2 .4M242.9 70.2l-1.1 .7M248.5 70l-1.7 .5M253.9 70l-1.4 .5M259.6 70l-1.6 1.1M264.5 70l-1.1 .2M270.2 70.1l-1.2 .7M275.6 70.1l-1.3 .4M281.5 69.9l-1.9 1.3M286.5 69.4l-.7 -.7M291.9 69.8l-1.3 -.1M297.5 69.9l-1.7 .1M302.7 69.6l-.9 -.4M205.1 75.5l-1 1.6M210.7 75.3l-1.2 2.1M216 75.6l-.8 1.5M221.2 75.9l-.5 .7M226.7 75.9l-.6 .9M232.5 75.4l-1.4 1.8M237.5 75.9l-.5 .6M243 75.6l-1.2 .8M248.3 75.5l-1.1 .4M253.9 75.5l-1.3 .6M259.5 75.4l-1.6 1M264.7 75.5l-1.3 .4M270.3 75.5l-1.4 .7M275.8 75.5l-1.4 .8M281.1 75.4l-1.5 .4M286.7 75.1l-1.3 -1M291.8 74.8l-.6 -.5M297.7 75.3l-2 -.2M303 75.2l-1.6 -.6M205.2 80.8l-1.1 1.9M210.4 81l-1.2 1.1M216 80.9l-1.3 1.4M221.5 81l-.7 1.7M227 80.9l-.7 1.9M231.9 81.2l-.7 .5M237.9 80.8l-1.7 1.4M243.2 80.9l-1.4 1.2M248.5 81.1l-1 1M253.7 81.1l-.8 .5M259.7 80.8l-1.9 1M264.5 81l-1 .3M270.6 80.8l-1.7 1.5M275.6 81.1l-1 .7M281.3 80.9l-1.7 .8M286.6 80.7l-1.6 -.2M292.2 80.7l-1.9 -.2M297.8 80.7l-2.1 -.3M302.9 80.6l-1.4 -.6M205.3 86.7l0 1.2M210.4 86.7l-.5 1M215.8 86.7l-.6 .9M221.6 86.2l-.4 2.2M226.7 86.8l-.5 .9M232.3 86.6l-.5 1.4M237.8 86.3l-1.5 1.3M243.2 86.4l-1.1 1.5M248.5 86.6l-.9 1M254 86.4l-1.4 1M259.5 86.5l-1.1 1.2M264.7 86.2l-1.5 .2M270.1 86.5l-.9 .6M276 86.2l-1.9 1.1M281.1 86.5l-1 .7M286.4 86.1l-1.1 -.2M292 86.2l-1.6 .2M297.8 86.2l-2.2 -.3M303.2 86.2l-2.1 .1M205.2 91.7l-1.1 1.9M210.5 91.9l-1 1.4M215.9 91.9l-1 1.3M221.6 91.7l-1.5 1.7M226.9 91.8l-1 1.6M231.9 92l-.8 .6M237.9 91.7l-1.2 1.7M243 91.8l-1.5 .6M248.6 91.9l-1.1 1.1M254.1 91.7l-1.8 .9M259.2 91.9l-1 .6M264.9 91.9l-1.1 1.1M270.5 91.7l-1.8 .9M275.9 91.7l-1.7 1M281.1 92l-.9 .7M287 91.6l-2.4 .2M292.2 91.6l-1.9 -.2M297.3 91.5l-1.2 -.2M302.9 91.6l-1.4 0M150.2 97.9l-.2 .3M155.7 97.8l-.3 .5M161.3 97.9l-.2 .6M167.1 97.6l-.1 1.3M177.7 97.6l-.5 .9M183.3 97.3l-.8 1.6M188.8 97.2l-.8 2M194.2 97.6l-.3 1.1M199.8 97.3l0 1.8M205.2 97.6l-.2 1.2M210.4 97.5l-.7 1M215.9 97.2l-1.6 .8M221.5 97.3l-.7 1.8M226.7 97.5l-.8 1M232 97.4l-.9 .8M237.9 97.2l0 2M243.1 97.5l-.8 1.1M248.8 97.1l-1.4 1.8M253.6 97.3l-.8 .3M259.4 97.3l-1.3 .9M265 97.2l-1.5 1M270 97.4l-.8 .5M276.1 97.1l-1.7 1.6M292 96.9l-1.5 -.4M297.6 97l-1.7 -.1M303 96.9l-1.6 -.5M156.1 103.3l-.1 .7M166.9 102.9l-.7 1.3M172.2 103.1l-.5 .9M177.9 102.6l-1.3 1.6M183.3 102.8l-.5 1.6M188.9 102.5l-.6 2.3M194.1 103.2l-.3 .9M199.6 102.7l-.8 1.5M205.1 102.7l-1 1.5M210.7 103l0 1.3M215.8 102.9l-.8 1M221.5 102.6l-1.3 1.7M226.7 103l-.5 1M232.1 102.7l-1.2 .8M237.9 102.5l-1.3 2M243 102.9l-.8 .9M248.5 102.7l-1.2 1M253.8 102.7l-1.2 .5M166.7 108.6l-.4 .7M172.4 108.5l-.2 1M177.9 108.1l-1 1.6M183.3 108.3l-.6 1.5M188.8 108.2l-.7 1.6M194.3 108.2l-.2 1.7M199.8 107.9l-.9 2.1M205.1 108.4l-.4 1.3M210.4 108.3l-.7 1.2M216.1 108.1l-.7 1.8M221.1 108.4l-.6 .7M226.8 108.1l-1.2 1.3M232.4 108l-.7 1.9M237.6 108.4l-.6 .9M242.9 108.5l-.5 .7M248.6 108.2l-1.2 1.1M254 108l-1.6 .8M297.3 107.9l-1.2 0M302.9 107.7l-1.3 -.5M308.1 107.6l-.7 -.3M314.2 107.9l-2.3 -.2M167 113.8l-.1 1.4M172.3 113.7l-.9 1.3M178 113.6l-.1 1.9M183.4 113.4l-.8 2.2M188.8 113.8l-.4 1.4M194.3 113.5l-.7 1.8M199.5 113.9l-.5 .9M204.7 113.9l-.6 .7M216 113.5l-1.4 1.4M221.6 113.3l-1.6 1.8M226.7 113.6l-1 1M232.2 113.5l-1.4 .8M237.8 113.4l-1.5 1.4M242.8 113.6l-.9 .4M248.4 113.8l-.7 .7M254 113.6l-1.2 1.2M259.6 113.4l-1.7 1.2M264.6 113.4l-1.1 .2M270.1 113.6l-1 .6M276.1 113.3l-2.2 .9M281 113.7l-.8 .6M291.7 113.1l-.8 -.2M297.2 113.3l-.9 0M303.3 113.3l-2.3 -.6M308.7 113.3l-2.2 -.5M314 113.3l-1.9 -.4M319.4 113.3l-1.8 -.1M166.9 119.1l-.8 1.4M172.4 119l-1.1 1.4M177.9 119.5l-.1 .9M183.3 119.1l-.6 1.5M188.5 119.3l-.6 .8M194.4 118.8l.7 2.2M199.6 119l-1 1.3M226.7 119.3l-.7 1M232.2 119.3l-.6 1.1M237.4 119.1l-.9 .6M242.8 119.2l-.7 .6M248.4 119l-1.1 .7M254.1 118.8l-1.8 .7M259.3 119.2l-.8 .8M265 118.9l-1.5 1.1M270.2 118.9l-1.5 .4M276 118.8l-1.7 1.3M281 118.8l-1.3 .2M286.4 118.5l-1 -.4M291.7 118.5l-.8 -.3M297.3 118.5l-1 -.4M302.7 118.8l-1.1 0M308.3 118.7l-1.5 -.3M313.9 118.6l-1.5 -.7M319 118.8l-.9 0M161.7 124.9l.1 .9M166.9 124.8l-.3 1M172.4 124.6l-.6 1.5M177.9 124.3l-.7 2M183.1 124.8l-.5 .8M188.9 124.3l-.8 2M194 124.7l-.5 1M205.2 124.3l-1.6 1.4M210.2 124.7l-.6 .6M215.9 124.5l-1 1.2M221.3 124.8l-.5 1M232.4 124.2l-1.6 1.6M237.9 124.2l-1.5 1.7M243.3 124.4l-1 1.7M248.8 124.2l-1.8 1.5M253.9 124.6l-.9 .8M259.4 124.4l-1.3 .9M264.7 124.3l-1.3 .2M270.3 124.3l-1.6 .3M276 124.2l-1.9 1.2M281.5 124.2l-2.1 1.1M286.5 124.1l-1.3 -.1M292.3 124.1l-1.8 -1.2M297.6 124.2l-1.8 -.1M302.9 124.2l-1.6 -.1M308.1 124l-.9 -.2M314.2 124.1l-1.6 -1.6M319.2 123.7l-.8 -.6M324.7 124.2l-1.6 -.1M160.9 130.3l-.3 .3M167 130.4l-.1 .7M172.4 129.9l-.8 1.4M178 129.8l-.4 1.9M183.3 129.9l-1 1.4M199.5 130.1l-.7 1.1M204.8 129.9l-1.1 .8M210.4 130.2l-.5 .9M215.9 130l-.8 1.2M221.3 130.3l-.4 .8M232.4 129.8l-1 1.8M237.6 129.9l-1.2 1M242.8 129.9l-.8 .4M248.8 129.7l-1.6 1.5M253.9 129.9l-1 .8M259.6 129.7l-2 .6M264.6 130l-.7 .5M270.6 129.6l-2 1.1M275.9 129.7l-1.8 .9M281.5 129.6l-2 .8M287 129.6l-2.1 -1M291.9 129.4l-1.1 -.3M297.1 129.6l-.8 0M302.9 129.6l-1.5 .1M308.6 129.6l-2.1 .1M314.2 129.6l-2.2 -.3M319.1 129.2l-.9 -.6M324.6 129.4l-1.1 -.4M330 129.5l-1.1 -.1M335.9 129.7l-1.9 .6M161.1 135.5l-.7 .7M166.8 135.4l-.8 1.2M172.3 135.4l-.9 1.2M177.9 135.3l-.7 1.7M199.6 135.4l-.9 1.3M205.1 135.6l-.3 1.3M210.5 135.4l-.7 1.4M215.6 135.6l-.6 .7M221.1 135.6l-.6 .6M226.7 135.4l-1.1 1M232.3 135.3l-1.1 1.3M237.3 135.4l-.7 .4M243.2 135.1l-1.9 .6M248.7 135.1l-2 .7M254 135.3l-1.3 1.1M259.7 135l-2.2 .9M264.6 135.3l-.9 .4M270 135.1l-1.1 .2M276.1 135l-2.3 .7M281.1 135.1l-1.5 .3M286.6 134.9l-1.5 -.5M292 134.7l-1 -.8M297.3 135l-1.3 -.1M302.9 135.1l-1.5 0M308.7 135l-2.2 -.2M313.9 134.9l-1.5 -.7M319.6 135l-2.2 .1M324.7 135.1l-1.4 .3M330.5 135l-2.2 -.4M335.5 135l-1.3 0M166.5 141l-.6 .6M172.4 141.1l-.3 1.1M177.6 141l-.6 .9M199.6 140.9l-.5 1.4M205 140.9l-.7 1.2M210.6 140.6l-1.2 1.8M216 140.6l-1.1 1.6M221.2 140.9l-.8 .8M226.8 140.8l-1 1.4M232.4 140.5l-2 .8M237.7 140.7l-1.2 1.2M242.8 140.7l-1 .3M254.2 140.5l-2.1 .6M259.5 140.5l-1.8 .4M264.9 140.5l-1.8 0M269.9 140.5l-.9 0M275.4 140.5l-1 .1M281.4 140.6l-1.6 1.1M286.9 140.5l-2.2 -.4M292 140.4l-1.5 -.2M297.9 140.5l-2.2 -.9M303.3 140.5l-2.2 -1M308.1 140.3l-.9 -.2M314 140.2l-1.1 -1.1M319 140.2l-.8 -.3M324.9 140.3l-1.6 -.7M330.4 140.6l-1.7 .8M335.5 140.5l-1.3 0M155.8 146.7l-.3 .6M161 146.5l-.5 .4M166.6 146.6l-.3 .5M172.2 146.4l-.7 .9M178 145.9l-.8 2.2M183.4 146l-1.2 1.9M188.6 146.5l-.5 1M194.2 146l-1.8 1M199.3 146.4l-.8 .7M205.1 146l-1.8 .9M210.5 146.2l-1 1.5M215.9 146.1l-1.3 1M221.5 146l-1.7 1.3M226.9 146.1l-1.4 1.3M232.1 146.2l-1.1 .8M237.5 146l-1.4 .2M243 146.2l-1.2 .9M253.9 146l-1.5 .4M259.7 145.9l-2.2 .7M265.1 146l-1.8 1.3M270 146.1l-.9 .4M275.9 145.9l-2 .2M281.1 145.7l-1.3 -.7M286.9 145.8l-1.9 -1M292.3 145.8l-1.7 -1.2M297.7 145.9l-1.9 .4M303 145.6l-1.2 -.9M308.2 145.8l-1.2 -.2M313.7 145.4l-.7 -.6M319.4 145.8l-1.8 -.3M325.1 145.9l-2.2 -.8M330.4 145.9l-2 -.5M335.5 145.7l-1.2 -.5M155.5 152l-.3 .3M161.1 151.7l-.9 .6M166.8 151.7l-1 1M172.3 151.7l-.9 1.2M177.5 152l-.5 .7M183.3 151.6l-.7 1.6M188.7 151.9l-.4 1.2M194.1 151.5l-1.6 1M199.6 151.6l-.9 1.6M204.7 151.7l-.9 .6M210.5 151.7l-.7 1.3M216.1 151.4l-1.8 1.5M221.2 151.6l-1.1 .8M227 151.4l-2 1.2M232.4 151.4l-1.8 1.3M237.6 151.5l-1.5 .5M242.9 151.9l-.6 .6M248.2 151.4l-1.1 .2M264.9 151.3l-1.8 0M270.4 151.4l-1.8 .7M275.6 151.4l-1.4 .3M281.2 151.4l-1.6 .3M292.2 151.2l-1.7 -.5M297.5 150.9l-.9 -.8M302.8 150.8l-.7 -.6M308.7 151.3l-1.9 -1.2M313.9 151.2l-1.6 -.6M324.6 151.2l-1.3 -.4M330.2 151.1l-1.3 -.8M336 151.3l-2.1 -.9M161.2 157.5l-.4 .5M166.4 157.3l-.5 .4M171.9 157.2l-.6 .5M177.8 157l-1.1 1.4M183.4 156.8l-1.6 1.6M188.4 157.3l-.7 .7M193.9 157.3l-.6 .8M199.3 157.2l-.8 .8M205 157l-1.2 1.2M210.1 157.2l-.7 .6M215.9 157.1l-1 1.2M221.1 157l-1.3 .5M226.7 156.9l-1.6 .4M232.3 156.8l-1.9 .8M237.7 157l-1.2 1.1M243 156.9l-1.6 .5M292 156.1l-.5 -.8M297.6 156.6l-1.5 -.8M303 156.6l-1.5 -.7M308.3 156.6l-1.3 -.3M166.8 162.6l-.9 1M172.4 162.4l-1.3 1.3M177.5 162.7l-.7 .6M183.4 162.2l-1 2.1M188.5 162.7l-.6 .9M193.8 162.7l-.7 .6M199.8 162.2l-2 1.4M204.6 162.5l-.9 .4M210.3 162.3l-1.5 .4M216 162.3l-1.6 1.4M221.2 162.3l-1.4 .5M226.5 162.3l-1.2 .4M232.1 162.3l-1.6 .5M237.8 162.2l-1.9 .6M243.1 162.3l-1.7 .3M155.5 168.3l-.3 .4M161.2 167.9l-1.1 .7M166.2 167.8l-.5 .1M172.1 168.1l-.7 .7M177.8 167.8l-1.4 1.2M183.2 167.8l-1.5 .8M188.5 168l-.9 1M194.2 167.8l-1.4 1.3M199.3 168.2l-.6 .7M204.7 168l-.8 .6M210.5 167.7l-1.8 .8M215.8 168l-1 .9M221.1 167.9l-1 .6M226.5 167.8l-1.2 .5M232.2 167.8l-1.5 .7M166.9 173.3l-1 1.2M171.9 173.3l-.9 .4M178 173.1l-1.2 1.9M182.9 173.5l-.7 .7M188.2 173.4l-.8 .4M194.2 173.1l-2 .8M199.7 173.1l-1.8 1.1M204.9 173.4l-1 1M210.3 173.2l-1.3 .6M215.7 173.2l-1.5 .5M221.6 173.1l-2.3 .6M166.7 178.8l-1.1 .9M172.4 178.6l-1.2 1.7M177.5 178.8l-1 .6M183.3 178.6l-1.6 1.3M188.5 178.7l-1.2 .9M194.1 178.7l-1.3 1M199.2 178.9l-.8 .5M205.2 178.5l-1.9 1.4M210.6 178.5l-2.1 .8M215.9 178.6l-1.6 .8M221.2 178.7l-1.3 .7M155.4 184.3l-.6 .3M160.9 184.5l-.4 .4M166.1 184l-.4 0M171.9 184.3l-.7 .5M177.9 184l-1.7 1.4M183.1 184.1l-1.3 .8M188.9 183.9l-2.2 .7M194.1 184.2l-1 1.2M199.8 183.9l-1.9 1.3M204.6 184.3l-.8 .5M210.2 184.3l-.9 .7M215.7 184.3l-1 .8M221.5 183.9l-2.1 .9M161 189.5l-1.1 .3M166.9 189.6l-1 1.3M172.3 189.8l-.7 1.1M178 189.4l-1.5 1.8M183.4 189.5l-1 1.8M188.2 189.6l-.8 .4M194.1 189.5l-1.7 .9M199.1 189.5l-.8 .2M204.9 189.5l-1.6 .5M210.4 189.5l-1.6 .7M215.9 189.4l-1.8 .7M221 189.8l-.6 .5M161.1 195.3l-.5 .6M166.8 194.9l-1.5 .9M172.1 195l-1.1 .6M177.4 195.1l-.9 .5M182.7 195.1l-.7 .3M188.8 194.8l-2.2 .4M194.1 194.9l-1.7 .9M199.6 194.9l-1.7 1M205 194.9l-1.5 .8M210.4 195l-1.4 1M215.4 194.9l-.8 .2M161.1 200.5l-1 .6M166.3 200.8l-.3 .3M172.3 200.4l-1.5 1.1M177.5 200.6l-.9 .8M183.1 200.4l-1.4 .7M188.4 200.6l-.9 .6M194.3 200.2l-2.1 .9M199.5 200.5l-.9 1.2M204.7 200.3l-1.2 .3M210.6 200.3l-2 .9M215.7 200.6l-.9 .9M160.9 206.2l-.4 .3M166.4 206.1l-.6 .4M172.3 205.8l-1.6 .8M177.8 205.7l-1.8 .7M183 205.8l-1.3 .4M188.3 206.2l-.6 .6M194 206l-1 1M199.4 206.2l-.6 .9M205 205.9l-1.2 1.1M210.7 205.6l-2.3 .5M215.5 205.8l-1 .3M160.9 211.5l-.5 .3M166.8 211.2l-1.6 .6M172.4 211.1l-1.7 1.2M177.6 211.8l-.4 .7M183.2 211.1l-1.8 .7M188.8 211.3l-.7 1.8M193.8 211.6l-.7 .6M199.2 211.4l-.8 .5M204.7 211.5l-.8 .6M210.2 211.6l-.6 .7M215.7 211.5l-.9 .7M161 216.6l-1.1 .2M172.2 216.7l-1.3 1M177.4 216.9l-.8 .5M183 216.8l-1.2 .7M188.5 216.6l-1.5 .3M193.7 216.7l-1 .3M205.2 216.5l-1.9 1.1M210 216.8l-.8 .4M166.4 222.6l-.3 .3M172.4 222.3l-.6 1.6M177.5 222.4l-.7 .6M182.9 222.4l-.7 .5M188.8 222l-1.4 1.6M161.5 227.9l-.4 1.3M166.7 227.5l-1.4 .6M172.1 227.9l-.7 .8M177.4 227.8l-.7 .5M183.2 227.4l-1.8 .7M188.8 227.5l-1.2 1.6M166.7 233l-1.3 .7M172.3 233l-1.3 1.1M177.9 232.9l-1 1.8M183.2 232.9l-1.7 .9M188.4 233.3l-.6 .6M166.7 238.7l-.6 .9M172.4 238.4l-1.1 1.5M177.6 238.5l-1.2 .7M183.2 238.7l-.5 1.1M188.7 238.4l-1.2 1.3M166.8 244.1l-.7 1M172.1 244.3l-.5 .7M177.8 243.9l-1.2 1.4M183.4 243.7l-1.4 1.9" fill="none" stroke="#141414" stroke-width="0.6"/>
<path d="M172 82C200 72 210 56 222 44C232 35 244 33 253 32.6" fill="none" stroke="#111" stroke-width="1.15"/>
<path d="M257.5 32.2L250.2 29L252 32.5L250.6 35.6Z" fill="#111"/>
<path d="M252.5 148C268 172 305 180 328 166" fill="none" stroke="#1a1a1a" stroke-width="1.1"/>
<path d="M332.5 163L324.8 164.6L327.6 166.3L328.2 170.2Z" fill="#1a1a1a"/>
<defs><filter id="bl2" filterUnits="userSpaceOnUse" x="120" y="595" width="100" height="120" color-interpolation-filters="sRGB"><feGaussianBlur stdDeviation="3" result="b"/><feTurbulence type="fractalNoise" baseFrequency="0.33" numOctaves="2" seed="14" result="n"/><feComposite in="b" in2="n" operator="in"/><feComponentTransfer><feFuncA type="linear" slope="10" intercept="-3.6"/></feComponentTransfer></filter></defs>
<path d="M150 610C160 604 190 604 198 612C204 622 200 640 204 652C208 672 208 700 204 709H132C128 690 130 664 140 650C148 640 144 622 150 610Z" fill="#f2cd1e" filter="url(#bl2)"/>
<path d="M161.5 645.5h0M179.2 708.2h0M164 640.6h0M164.8 688.7h0M146.9 675.9h0M192.1 644.3h0M165.4 672.8h0M159.7 704.5h0M156.9 700.9h0M190.3 683.1h0M172.1 691.9h0M165.3 691.3h0M177.4 689h0M191.9 681.5h0M140 677.8h0M174.8 700.5h0M165.3 635.7h0M194.7 658.6h0M164 698h0M137.9 658.1h0M149.3 671.3h0M181.2 678.4h0M190.7 693.4h0M174 667h0M160.7 673.1h0M177.7 646.3h0M191.6 681.9h0M138.3 653h0M188.1 650.5h0M186.5 652.7h0M194 672.9h0M149.3 669.6h0M165.2 674.9h0M169 657.2h0M196.8 685.5h0M166.5 687.5h0M176.9 651.6h0M165.7 672.4h0M135 681.5h0M183 669.2h0M160.2 687.7h0M205.3 681.5h0M147.6 687.6h0M188.9 700.5h0M194.8 686.3h0M143.5 661.5h0M178.8 668.9h0M143.1 659.2h0M150.2 649.7h0M151.8 702.7h0M147.1 662.5h0M168.4 646.6h0M159.9 667.2h0M176.4 648.9h0M147.5 665.6h0M172.7 685.1h0M141.7 657.7h0M143.6 673.3h0M145.7 652.3h0M181 644.4h0M188.8 694.3h0M139.9 664.3h0M166.4 657.5h0M148.7 684.8h0M165.7 689.3h0M151 688.7h0M156.3 669h0M153 638.3h0M151.3 665.8h0M191.1 689.5h0M176.1 655.1h0M199.7 656.4h0M191.7 688.6h0M168 684.6h0M182.6 698.6h0M188.7 644.7h0M194.2 656.3h0M193.3 678.9h0M161.2 683.3h0M173.9 686.9h0M130.9 678.8h0M195.9 657.8h0M181.9 678.2h0M184.1 700.3h0M135.9 674.5h0M140 668h0M167.4 650.3h0M143.5 681.6h0M179.6 685.5h0M163.6 677.5h0M199.9 668.6h0M168.1 646.9h0M189.3 690.1h0M175.2 654.1h0M156.5 699h0M169.2 666.4h0M191.8 673.8h0M172.5 667.5h0M175.1 682.9h0M130.4 682.2h0M153.7 650h0M143.6 670.9h0M182.3 695h0M189.8 696.7h0M163.7 690.6h0M195.1 680.8h0M174.9 702.6h0M184.7 688.8h0M144.7 677h0M143.6 701.2h0M139.7 655.7h0M165.1 686.1h0M207.3 680.1h0M166.7 674.3h0M169.1 640.5h0M166.9 701.7h0M156.2 679.7h0M168.7 649.6h0M144.6 686.7h0M171.5 669.1h0M195.4 657.3h0M153.8 705.6h0M165.7 647.7h0M167.3 705.7h0M180.3 686h0M151.5 678.4h0M149.7 659h0M182.2 666.2h0M181.5 688.7h0M160.8 643.8h0M142.5 675.8h0M183.1 687.5h0M186.7 668.9h0M155.8 639.3h0M185.4 689.3h0M204 649.1h0M191.4 688.8h0M190.9 686.3h0M148.7 704.4h0M196.7 660.8h0M195.8 677.5h0M190.6 659.9h0M143.3 652.3h0M189.9 681.3h0M138.2 659h0M158.3 674.4h0M143.1 662h0M165.9 647.3h0M151.6 639.8h0M186.4 671.7h0M185.3 696.7h0M179 646.9h0M138 689.7h0M175.2 639.9h0M198.2 648.8h0M189.2 671h0M165.5 695.4h0M151.8 676.7h0M176.1 669.1h0M184.7 666.4h0M142.1 697.2h0M201.8 659.4h0M157.6 678.6h0M147.7 691.3h0M169 649.5h0M140 676.9h0M141.5 680.5h0M152.2 685h0M136.6 685.4h0M184.6 691h0M196.7 683h0M168.7 645.9h0M153.4 666.1h0M163.6 664.3h0M176.2 649.3h0M172.6 706.9h0M171.7 706.3h0M162.5 701.6h0M163.6 683.9h0M170.2 641.6h0M141.5 697.4h0M153 700.7h0M152.9 655.5h0M174.6 677h0M165.9 666.2h0M168.2 666.9h0M162.6 689.2h0M155.5 658.4h0M183.3 675.1h0M145.4 686.7h0M161.3 668.6h0M167.4 700h0M158.7 684.4h0M143.7 653.1h0M163.2 669.1h0M179.6 688h0M157.9 637.7h0M189.7 683.3h0M198.6 666.4h0M177.9 702.3h0M167.4 698.5h0M173.2 687.3h0M196.7 670.5h0M166.3 678.9h0M141.8 652.7h0M203.7 670h0M200.2 662.1h0M176.4 674.2h0M145.4 669.1h0M151.2 660.2h0M164.3 660.7h0M152.3 696.9h0M152.2 700.2h0M190.3 672.6h0M209.2 680.8h0M133.8 661.5h0M180.1 677.9h0M177.7 701.8h0M151.3 699.4h0M182.8 678.6h0M194.5 676.9h0M194.5 659.6h0M141.5 682.8h0M171.4 682.9h0M160.2 644.5h0M197.8 673.7h0M169 701.8h0M204.9 663.2h0M185.8 659.4h0M144.2 646.1h0M199.2 691.6h0M151.4 706.4h0M182.9 674.5h0M169.2 677.8h0M203.5 677.4h0M179.8 683.3h0M147.5 650.5h0M201.8 695.4h0M181.3 690.8h0M184.1 661.3h0M154 694.3h0M153.3 696.2h0M178.4 678h0M174.4 651.6h0M161.9 660.5h0M139.6 663.8h0M142.7 650.1h0M187 685.1h0M166.5 694.4h0M145.9 659.9h0M186.1 666.7h0M176.1 654.9h0M153.7 655.5h0M143 669.2h0M178.8 673h0M194.5 651.4h0M195.1 683.5h0M181.2 685.2h0M164.2 662.5h0M183.3 636.8h0M171 660h0M154.4 676h0M174.1 683.8h0M178.5 674.3h0M191.8 641.5h0M186.5 669.5h0M168.8 692.1h0M193.6 644.8h0M143.8 688.1h0M161.9 686.2h0M142.8 671.2h0M202.5 673.7h0M144.5 680.4h0M177.4 699h0M165.2 660.9h0M138.4 671.5h0M191.8 647.6h0M195.3 652.4h0M157.5 694.3h0M163.6 693.5h0M176.7 668.7h0M141.4 671.4h0M198.2 691.8h0M183.3 676.3h0M186.7 670.9h0M141.4 658.3h0M199.2 682.5h0M154.4 671.7h0M153.5 677.9h0M200.2 662.3h0M199.3 662.1h0M192.3 695h0M190 701.3h0M137.1 691.2h0M185.4 643.7h0M145.1 650.7h0M164.7 647.3h0M141 658.7h0M171.9 686.4h0M181.2 644.4h0M202.7 674.9h0M157.3 641.7h0M176.6 694.4h0M145.8 675.9h0M192.4 668.4h0M161.4 670.4h0M197.5 682.4h0M141.5 684h0M155.7 653.5h0M195 681.5h0M167.4 705.2h0M192.1 674.6h0M134.4 663.8h0M136.7 699.3h0M143.5 671.5h0M164 684.7h0M148.7 644.5h0M186.2 704.8h0M179.8 664.5h0M199.2 664.4h0M133.9 673.4h0M137.9 678.3h0M176.4 662.3h0M165.2 682.5h0M179.9 639.4h0M165.1 683.4h0M165 657.3h0M153.5 695.5h0M147.6 657.5h0M195 659.1h0M184 677.4h0M179.6 642.9h0M151 667.7h0M141.6 695.8h0M162.3 679.5h0M191 682.2h0M167.6 678.6h0M153 658.2h0M185.1 683.4h0M152.1 644.9h0M194.4 666h0M176.6 671h0M195.1 650.5h0M179.5 642.7h0M182.6 700.3h0M185.9 668.8h0M174.7 692.7h0M180.5 659.3h0M177.4 663.4h0M163 667.5h0M140.7 668.5h0M172 683.8h0M152.1 670.1h0M158 708.3h0M186.9 690.1h0M179 682.9h0M177.8 644.2h0M184.6 663.6h0M185.6 692.7h0M188.9 673.7h0M165.8 696.5h0M187.7 693.1h0M179.2 698.1h0M147.8 661h0M137.7 687.2h0M138.4 685.3h0M172.3 686.2h0M160.9 660.8h0M164.7 684.4h0M138.7 692.4h0M133.6 679.6h0M182.7 662.4h0M168.8 707h0M164.5 655.5h0M158 696.1h0M191.6 654.6h0M138.9 693.6h0M160.2 671.8h0M183.5 657.7h0M153.8 646.4h0M175.9 677h0M180 685.2h0M193.8 670.6h0M202.4 678h0M159.1 697.3h0M203.6 663.1h0M200.1 674.9h0M184.4 697h0M175.8 703.7h0M194.5 687.1h0M135 677.6h0M151.5 661.8h0M161.7 685h0M194.2 692.2h0M173.8 658.3h0M179.9 640.4h0M141.8 661.8h0M181.6 687.1h0M132.7 663h0M157.3 661.3h0M145 682.6h0M175.8 663.5h0M137.3 696h0M140 670.2h0M195.1 694.4h0M150.6 665h0M171.1 643.9h0M164.6 644.6h0M166.7 700.1h0M204.1 670.3h0M163.4 649.4h0M146.2 682.7h0M144.7 685.1h0M174.6 638.5h0M177.3 689.4h0M149 650.3h0M164.7 656.1h0M141.9 669.4h0M189.1 651.6h0M158.7 673.8h0M136.4 678.7h0M167 676.4h0M202 654.1h0M158.1 693.3h0M160.1 651.2h0M142.5 687.4h0M193.9 661.5h0M194.5 663.5h0M179.2 674h0M195.7 671.1h0M146.6 656.3h0M201.7 688h0M160.3 672.1h0M192.8 679.5h0M137.3 662.8h0M179.2 696.7h0M160.8 679.4h0M157.4 700.1h0M153.7 661.9h0M175.8 657h0M201.2 658.7h0M159.9 686.1h0M146 662.2h0M200.2 673.1h0M144.6 694.9h0M193.3 666h0M194.2 695h0M186.1 653.7h0M150.5 648.4h0M160.1 698.3h0M173.5 643h0M160.3 701.1h0M186.4 658.5h0M192.8 685.4h0M183.4 685.6h0M168 639.5h0M146.5 678.7h0M184.3 692.6h0M139.3 669.7h0M159.8 697.4h0M147.2 665.7h0M166.6 637.4h0M181.9 655.4h0M199.1 683.4h0M135.4 651.7h0M192.2 669.6h0M138.4 679.2h0M168.9 665.4h0M186.4 684.2h0M194.9 646.1h0M140.2 657.1h0M188.8 655.4h0M174.4 646.7h0M190.9 648.6h0M197 682.3h0M162.5 648.2h0M173.5 687.2h0M166 690.7h0M158.8 689.2h0M148.6 660.1h0M144.6 649h0M189.5 662.7h0M192.4 673.9h0M177 694.9h0M149.2 693h0M182.6 641.7h0M131.9 660.9h0M142.7 670.2h0M169.3 653.1h0M149.8 646.6h0M161.2 697h0M197.3 688.9h0M158.1 674.3h0M192.3 650.4h0M149.9 659.8h0M193.4 680.4h0M152.9 677.7h0M149.9 687.2h0M139.6 656.7h0M137.8 654.6h0M193.1 664.5h0M149.1 701h0M145.6 685.8h0M151.8 658.7h0M189.7 654.2h0M163.2 656h0M146.5 675.8h0M181.5 642.3h0M136.1 674.8h0M176.7 670.1h0M161 704.1h0M190.1 693.6h0M178.9 653.4h0M165.2 680.8h0M185.2 648.8h0M153.6 660.8h0M140.3 670.5h0M186.6 682.7h0M174.4 646.1h0M185.4 679.3h0M194.1 666.5h0M185.1 656.2h0M157.7 700.3h0M179.4 683.2h0M193.7 650.7h0M147.1 674.5h0M182.8 686h0M150 672.2h0M168.2 681.7h0M148.2 684.2h0M146.4 647.2h0M196 656.4h0M173.6 656.1h0M175.4 683.1h0M145.7 675h0M136.5 673.5h0M196.2 670.2h0M197.4 688.9h0M138 670.1h0M196.8 655.7h0M140.6 691.1h0M165.6 703.3h0M144.9 664h0M159.7 688.8h0M189.6 661.9h0M191.8 685.3h0M171.7 684.6h0M191.1 684.7h0M160.2 641.9h0M164.3 684.6h0M179.2 664.3h0M180.5 662.6h0M186.6 664.5h0M166.7 704.6h0M174.1 672h0M156.5 681.3h0M182.8 668.6h0M170.2 647.8h0M172.3 673.6h0M160.3 648.3h0M180.8 665.1h0M187.8 668.1h0M160.9 641.1h0M178.4 660.5h0M182.9 650.3h0M153.7 688.8h0M188.3 685.8h0M163.5 642h0M178 683h0M138.5 696.9h0M206.7 671h0M136.2 660.1h0M159.7 670.9h0M195.2 663.2h0M161.4 701h0M202.1 671.9h0M183.6 662.9h0M143.6 698.5h0M149.8 704.7h0M177.2 680.9h0M187 661.5h0M170.7 678h0M203.6 673.9h0M196.5 649.7h0M136.6 650.9h0M153.1 645.6h0M164.8 643.8h0M201.6 680.8h0M191.9 686.7h0M128.1 672h0M196 680.7h0M146.2 671.4h0M165.4 643.3h0M165.2 667.9h0M146.1 653.3h0M196.9 680.2h0M170 694.9h0M200.5 648.9h0M192 694.2h0M145.5 667.5h0M177.8 675h0M181 667.1h0M175.9 685.9h0M148.9 683.5h0M144.6 665.3h0M160.5 636.4h0M186.8 664.6h0M165.2 640.6h0M150 696.3h0M198.6 686.9h0M162.4 652.6h0M170.1 671.6h0M202.8 675.5h0M170.9 654.7h0M174.2 683.7h0M131.6 680.9h0M136.3 667.7h0M154.3 660.7h0M188.8 670.7h0M154.5 641.1h0M152.1 684.1h0M161.2 643h0M154.6 674.7h0M138.9 688.8h0M159.3 681.2h0M139 673.1h0M166.6 678.6h0M169.4 698.4h0M188.4 698.1h0M157.6 675.9h0M162.9 689.5h0M184.7 646h0M185 649.1h0M156.5 688.3h0M146.1 652.7h0M188.3 658.5h0M142.3 701.7h0M147.5 665.1h0M136 683.2h0M150.3 648.8h0M204.4 663.1h0M183.3 689.2h0M199.4 665.4h0M151.6 645.5h0M174.8 650.2h0M163.8 667.5h0M193.5 646.3h0M159.3 623.7h0M169.3 644.2h0M172.5 640.5h0M184.7 639.1h0M166.6 640.6h0M173.5 620.3h0M185.2 631.8h0M166.1 630.6h0M159.3 620.4h0M189.8 635.7h0M167.2 646.9h0M193.2 615.9h0M194.1 629.2h0M183.6 614.1h0M182.5 649.1h0M173.5 613.7h0M152.9 636.1h0M178.1 641.2h0M154 632.2h0M193.1 618.9h0M184.8 617.5h0M159.8 639.9h0M191.9 638.4h0M183.1 622h0M193.3 628.2h0M168.8 629.8h0M173.9 641.9h0M161.3 627h0M168 618.7h0M148 632.7h0M169.8 633h0M172.2 641.3h0M166.7 647.6h0M190 635.8h0M171.2 653.7h0M186 625.8h0M182.8 630.6h0M168.9 608.5h0M174 621.8h0M167 633.4h0M162.5 623.5h0M174.8 645h0M160.8 610.2h0M166.3 608.9h0M170 609.4h0M153.8 630.9h0M192.1 626.2h0M185.9 614.5h0M158.8 623.5h0M168.8 623h0M170.3 641.1h0M191.7 622.7h0M160.1 614.6h0M189.2 616.6h0M170.8 634.9h0M195.1 627.4h0M183.1 638.7h0M153.9 626.5h0M185.5 641.2h0M177.6 644h0M173.9 608.2h0M189.4 637.7h0M159.4 641.4h0M175.5 639.1h0M183.7 613.9h0M184.5 637.1h0M168.4 635.9h0M177.8 622.7h0M166.1 615.9h0M168.3 617.6h0M193.8 628.8h0M180.4 631.2h0M170.5 627.5h0M171.3 607.8h0M171.9 617h0M168.4 614.3h0M181.5 634.7h0M181.4 635.5h0M174 616.3h0M157.2 617.5h0M171.6 634.8h0M193.8 631.3h0M147.8 624.8h0M185 638.3h0M171.9 616.3h0M165.9 639.5h0M175.6 620.4h0M182.9 637.5h0M148 630.9h0M173.1 630.8h0M176 609.1h0M153.7 622.8h0M172.3 633.3h0M178.1 628.6h0M162.7 609.5h0M161.5 647.5h0M180.3 619.3h0M155.7 645.3h0M182.5 626h0M167.1 646h0M180.4 629.2h0M190.4 637.6h0M171.3 622.8h0M169.4 639.9h0M151.3 640.7h0M160.9 617.2h0M187.6 634.6h0M175.8 652.6h0M187 641.5h0M171.3 619.9h0M175.5 649.4h0M164.1 630.1h0M165.5 642.2h0M173.4 646.5h0M179.1 627h0M164.1 629.6h0M161 614.8h0M165.2 606.9h0M177.9 617.7h0M170.9 642.8h0M181.7 635.2h0M155.5 633.5h0M180.5 645.5h0M190.2 632.4h0M176.3 627.6h0M153.4 611.1h0M155.4 639.9h0M181.9 641.4h0M173.4 610.6h0M146.1 624.6h0M181.2 647.8h0M184.7 628.6h0M191.6 623.7h0M193.2 619.6h0M175.6 623.2h0M154.9 626.6h0M170.9 633.4h0M161.3 615h0M186.5 650.3h0M168.2 626.6h0M190 637.9h0M192.4 631.7h0M170.3 622.1h0M163.4 643.1h0M165.8 611.9h0M174.5 616.8h0M180.7 615.3h0M152.3 612.5h0M182.5 614.9h0M162.5 615.2h0M177.6 627.2h0M178.4 625.1h0M193.8 636.1h0M169.9 648.9h0M153.6 645.5h0M171.7 648.9h0M180.1 646.3h0M183 618.7h0M192.5 633.3h0M177.5 642h0M173.1 612.3h0M174.7 646.1h0M171 648.2h0M183.4 627.6h0M172.3 626.2h0M165.3 632.2h0M179 638h0M169.4 651.5h0M191.6 627.7h0M177.4 609.7h0M185.8 636.5h0M170 622.7h0M160.5 641.4h0M167.2 605h0M166.7 648.2h0M184.8 643.6h0M188 632h0M169.4 638.9h0M184.5 614.9h0M185.8 618.8h0M166.1 616.9h0M171.8 616.3h0M179 649.2h0M164.3 640h0M188.1 618.2h0M183.9 629h0M153 637.1h0M174 618.2h0M188.2 622.8h0M196.9 629.5h0M165.8 650.8h0M159.3 611.6h0M160.2 639.8h0M150.6 634.8h0M156.7 633.7h0M168.1 651.7h0M193.8 632.6h0M174.2 609h0M164.5 608.6h0M180.6 616.6h0M184.1 647.4h0M172.7 638.4h0M154 617.6h0M192.6 621.4h0M163.2 631.6h0M175.3 640.4h0M158.2 620.7h0M195.3 623.6h0M177.9 623.6h0M191.4 615.7h0M159.6 637.8h0M170 655.4h0M184.8 616.5h0M175.9 614.1h0M180.7 618.3h0M166.1 634.8h0M170.4 636.8h0M173.1 647.3h0M187.8 613.3h0M194.1 617.7h0M162 641h0M187.4 614.5h0M162.2 639.1h0M149.7 637.6h0M149.3 619.9h0M173.6 638.8h0M169.5 652.4h0M169.9 649.8h0M170.8 648.2h0M149.7 627.8h0M186.2 640.4h0M175.1 613.7h0M178.8 643.3h0M153.8 636.7h0M157.8 612.4h0M178.3 637.5h0M153.8 641.7h0M159.7 624.9h0M162.7 627h0M179.8 623.8h0M155.9 678.9h0M154.8 687.6h0M156.6 688.8h0M151.3 683.9h0M160.8 690.2h0M156.7 698.4h0M135.3 681.9h0M155.2 688.7h0M156.1 693.1h0M133.5 688.6h0M136.9 698.9h0M134.2 699.4h0M147.9 706.5h0M147.9 704.4h0M151.1 703.9h0M162.5 698.5h0M144.7 688.3h0M142.2 692.5h0M145.6 673.3h0M144.9 684.4h0M164.6 686h0M144.8 697.4h0M159.1 682.6h0M136.6 700.7h0M141.2 677.3h0M154.7 678.2h0M140.9 696.2h0M132.5 695.5h0M138.2 678.5h0M159.8 697.4h0M130.5 686.5h0M163.9 698.5h0M153 706.8h0M138.4 679.8h0M168.6 687h0M165 689.9h0M148.8 705.6h0M160.6 702.5h0M144.2 689.4h0M136.5 694.7h0M140.2 698.4h0M150.5 685.8h0M144.9 672.4h0M137.9 685.6h0M137 678.8h0M138.9 684.4h0M144.6 680.2h0M171.4 680.6h0M160.1 686.8h0M170.5 687.6h0M159.1 680.1h0M159.7 696.7h0M140.1 692.8h0M151.9 681.7h0M146.6 700.7h0M143.5 685.4h0M165.4 695h0M155.5 706.6h0M144.8 693.4h0M154.1 691.8h0M148.9 690.5h0M152.4 707.5h0M153.4 686.4h0M142.4 704.8h0M141.8 696.9h0M152.7 682.9h0M140.8 686.7h0M164.8 694.3h0M150.5 692.3h0M135.6 679.2h0M154.5 702.2h0M150.1 699.1h0M143.7 684.5h0M132.5 690.5h0M148.1 704.1h0M139 686.1h0M142.5 682.5h0M162.7 692.9h0M147.5 705.1h0M144.6 702.9h0M164.4 677.6h0M167.8 695.3h0M140.6 702.1h0M154.9 702h0M144.5 676.3h0M155.4 678h0M165.9 695.4h0M155.9 683.8h0M146 679.8h0M153.5 705.2h0M160.4 684.5h0M144.5 707.9h0M154.8 672.6h0M163.3 696.1h0M143.6 691.6h0M133.2 689.5h0M162.7 681.3h0M155.4 681.9h0M135.4 686.1h0M164 694.2h0M145.8 691.8h0M146.4 693.3h0M159.2 689.8h0M143 676.5h0M135.2 699.1h0M145.8 694.3h0M150.3 687.4h0M162.9 698h0M154.7 680.5h0M143.5 679.3h0" stroke="#f2cd1e" stroke-width="2.8" stroke-linecap="round" fill="none"/>
<path d="M320.6 514.1h0M334.8 524.4h0M323.9 515.4h0M338.8 515h0M323 512.5h0M318 515.2h0M306.6 531.8h0M318 511.3h0M332.6 509.2h0M321.9 520.2h0M296 508.2h0M320.9 517h0M305.6 510.9h0M338.3 516.6h0M309.2 512.6h0M320.1 517.5h0M315 521.1h0M320.6 513.8h0M316 532.7h0M333.3 509.9h0M295.6 529.6h0M330.6 527.6h0M331.4 508h0M324.7 521.3h0M306 516.9h0M339.5 503h0M337.1 504.4h0M302.1 519.5h0M327.1 529.3h0M301.3 524h0M317.9 527h0M316.4 525.9h0M314.8 532.3h0M327.5 527.9h0M340 514.1h0M314.4 507.9h0M323.8 516.3h0M305.1 518.2h0M315.4 522.2h0M300.7 510.2h0M305.6 517.7h0M301.5 525.8h0M317.2 510.6h0M294.3 518.4h0M327.4 507.7h0M296.2 516.9h0M326.8 505.4h0M327.9 501.5h0M314.9 514.5h0M316.4 523h0M305 523.6h0M338.2 518.3h0M308.4 502.9h0M303.4 511.9h0M321 504.8h0M323.1 518.2h0M340.3 524.6h0M301.7 511.2h0M310.7 504.8h0M340.2 517.8h0M329.9 515.4h0M313.6 533.6h0M311.8 533.5h0M338.4 515.7h0M324.8 518.8h0M331.4 532.5h0M339.9 511.6h0M332 524.1h0M327.3 515.8h0M307.3 534.5h0M316.1 512.9h0M310.6 513.9h0M303.6 515.8h0M301.4 526.9h0M325 523.8h0M339.6 515.2h0M329.6 527.4h0M325.1 513.3h0M319.9 508.3h0M296.4 518.6h0M300.6 514.5h0M316.3 513.9h0M321 506.1h0M323.9 531.2h0M318.8 509.7h0M313.4 516h0M319.1 529.1h0M318.4 536.5h0M330.9 526.3h0M307.2 519.5h0M335.3 508.8h0M318 504.5h0M325.5 522.5h0M328.7 520.6h0M318.6 526h0M328.7 524.1h0M329.6 522.5h0M313.9 510.6h0M314 538.1h0M300 518.9h0M315.2 531.6h0M339.8 508.3h0M302 516.6h0M339.2 525.9h0M316.3 502.4h0M318.1 532.2h0M300.4 528.9h0M318.4 533.3h0M299.7 525.6h0M315.5 535.8h0M315.5 528.1h0M328.4 523.4h0M327.6 512.4h0M326.7 528h0M318.9 532.9h0M307.9 527.8h0M331 521h0M321.4 523.7h0M306.4 529.6h0M299.3 517.2h0M302.6 520.9h0M310.3 530h0M307.7 510.8h0M314.1 508.4h0M320.5 529.6h0M324.8 532.5h0M306.1 514.7h0M306.7 528.8h0M323 502.6h0M338 511.7h0M297.6 521.3h0M312.5 529.7h0M330.3 533.3h0M320.9 513.4h0M318.4 518.5h0M317.9 512.5h0M324.1 506.2h0M331.4 510.8h0M338.9 522.6h0M332.7 525.4h0M326.7 518.4h0M313.9 534.8h0M327.9 508h0M302.8 511.9h0M329.6 523.7h0M335.9 520.8h0M317.6 516.9h0M303.3 514.1h0M331.2 513.4h0M308.1 517.4h0M325.9 524.8h0M317.6 530.4h0M334.6 520.2h0M336.9 510.3h0M299.9 528.9h0M297.2 513.4h0M332.5 533.7h0M308.7 531.5h0M307.5 513.5h0M312.3 503.6h0M329.1 506.8h0M321.4 526.7h0M322.5 527.5h0M311.2 525.1h0M315.8 532.7h0M319.1 513.3h0M309.2 531.3h0M310.4 529.2h0M316.1 518.7h0M305.4 518.7h0M310 533.6h0M336.4 512.1h0M315.9 514h0M332.5 521.1h0M325.2 504h0M320.2 523.7h0M321 527.7h0M307 520.1h0M330.8 505.2h0M303.7 537.3h0M306.5 523.4h0M311.5 524h0M326.3 519.6h0M318.3 533.8h0M322.3 514.1h0M332.7 507.4h0M322.8 533.2h0M332.6 505.2h0M335.8 512.9h0M316.9 516.5h0M332.8 514.5h0M310.1 524.5h0M305.7 529.6h0M310.8 523.4h0M325 513h0M308.9 536.1h0M341.9 511.4h0M324.4 519.2h0M312.7 503.7h0M322.8 519.4h0M328.9 517.1h0M327.2 526.7h0M343.5 505.7h0M307.3 525.3h0M334.1 525h0M305.9 511.7h0M307.5 532.7h0M303.2 519.6h0M329.5 513.6h0M312.9 513h0M294.3 522.6h0M336 511.3h0M298.6 524.5h0M310.2 522.9h0M325.3 503h0M334 508.5h0M310.8 507.8h0M314 524.6h0M312.3 524h0M324.8 515.8h0M322 526.4h0M316.3 502.8h0M309.7 521.5h0M324.1 506.7h0M314.8 516h0M302.4 518.7h0M318.7 512.6h0M297.2 525.8h0M302.2 508.5h0M307.7 522.3h0M308.9 536.2h0M315.7 507.7h0M334.4 517.6h0M331.7 511.4h0M328.7 511.8h0M321 508.8h0M300.2 527.6h0M295.5 532.6h0M303.4 533.4h0M300.7 528.2h0M282.1 546h0M296.2 538.7h0M293 548.6h0M283.1 546.2h0M272.8 554.4h0M274.7 554.5h0M273.4 562h0M276.9 554.2h0M298.8 534.5h0M298.1 543.6h0M292.8 537h0M292.5 547h0M294.4 546.8h0M279.3 549.4h0M285.8 538.1h0M297.3 539.7h0M275.3 564.6h0M263.4 572.6h0M274 553.3h0M284.8 548.6h0M286.1 552.1h0M269.4 563h0M279.9 545.6h0M280 559.9h0M274.4 556.3h0M268 571.8h0M279.1 555.1h0M294.3 532.4h0M280 550.5h0M267.7 563.9h0M298.6 540.8h0M299.5 539.3h0M299.2 536.6h0M299.6 530.4h0M299.5 534.9h0M277 558.8h0M283.7 553.3h0M271.2 561.8h0M281.4 552.3h0M288.1 549.8h0M276.4 560.2h0M288 538.7h0M288 553.1h0M287.2 547.2h0M281.4 555.4h0M273.9 559.1h0M274.3 555.9h0M280.7 552.3h0M285.8 544.5h0M285.1 550.4h0" stroke="#d6d6d6" stroke-width="2.8" stroke-linecap="round" fill="none"/>
<path d="M279.7 598.2h0M278.8 596.6h0M287.5 592.1h0M284.7 590.4h0M279.9 600.6h0M293.5 580.6h0M268.7 592.1h0M291.6 578.1h0M305.7 592.7h0M289.2 595.3h0M300.1 584.7h0M299.3 591.3h0M300.8 593.2h0M280.9 587.7h0M280.9 599.3h0M291.2 599.9h0M271.9 580.4h0M277.7 583.7h0M290.8 598h0M263.3 584.1h0M266.4 591.9h0M291.8 581h0M300.3 593h0M286.4 597h0M270.9 583.7h0M297.7 589.9h0M298 574.6h0M287.8 587.6h0M267.4 611.2h0M285.7 584.9h0M285 592.8h0M294.6 585.7h0M288.3 597.6h0M301.9 588.4h0M302.7 593.7h0M261.6 592.4h0M297.8 590.2h0M288.1 587.7h0M270.5 576.9h0M266.1 581.8h0M279.6 584.1h0M269.5 594.2h0M285.8 587.5h0M280 573.1h0M268.8 593.4h0M279.9 604.5h0M299.3 600.9h0M283 591.3h0M274.4 597.9h0M294.2 591.6h0M299.1 582.9h0M284.7 592.6h0M269.4 585.2h0M298.3 592.2h0M283.6 587.7h0M273.6 577.4h0M309.8 597.6h0M290.5 587.4h0M296.3 601.1h0M283.6 600.1h0M284 579.6h0M274.4 600.4h0M297.5 579.3h0M286.1 598.8h0M278 599.7h0M276.6 572.3h0M290.5 583.3h0M293 582.9h0M281.7 597.5h0M279 587.2h0M269.2 595h0M277.3 577.2h0M287.2 598.9h0M295.6 576h0M281.7 578h0M290.1 595.1h0M278.7 598.5h0M277.2 597.2h0M297.3 583.9h0M273.3 590.4h0M274.6 581.4h0M300.9 582.8h0M276.9 592.4h0M300.6 584.1h0M282.4 594.8h0M298.2 588.7h0M291.9 591.7h0M279.2 577.2h0M274.5 594.9h0M293.3 577.8h0M264.5 585h0M280.1 579.9h0M273.5 598.9h0M274.3 583.4h0M280.8 579.2h0M279.3 592h0M259.8 589h0M293.4 579h0M300.4 582.8h0M282.8 590.2h0M301.9 593.4h0M291.5 581h0M271.6 591.3h0M303.8 585.4h0M285.7 582h0M274.9 595.8h0M298.6 574.8h0M275.3 585.9h0M281.7 578.1h0M292.3 583.4h0M276.7 584.8h0M300.2 584.3h0M272.8 594.4h0M270.3 598h0M270.6 575.6h0M266.1 597.1h0M281.1 577.9h0M269.7 585.8h0M284.1 574.3h0M294.9 574.4h0M270.1 583.2h0M298 582.5h0M286.8 581.6h0M295.7 578.4h0M298.6 589.2h0M300.6 589.1h0M270.4 576.3h0M279.4 594.9h0M302 575.6h0M275.3 593.5h0M284.7 583.1h0M285.4 599.8h0M270.9 577.4h0M299.5 580.6h0M301 574.6h0M275.8 595.2h0M264.6 589.7h0M277.4 586.8h0M277.9 595.5h0M276.6 588.6h0M311 583.8h0M294.7 581.6h0M276.4 602.2h0M280.1 580.2h0M302.6 583.8h0M270 600.5h0M288.8 584.2h0M289 578.8h0M304.2 576.2h0M300 594.2h0M308.4 579.3h0M296 587.1h0M286.1 602.8h0M280.2 584.2h0M299.9 594.7h0M269.5 579.8h0M281.6 579h0M284.6 576.9h0M293.3 580.6h0M283.1 592.9h0M289.8 591h0M296 570.5h0M286.3 588.1h0M287.4 604.2h0M287.1 606.4h0M288 574.5h0M265.8 593.2h0M285.6 587.3h0M280.7 582.6h0M291.9 580.6h0M287.5 580.3h0M289.5 585h0M280.8 605.8h0M270.2 601.4h0M270.1 577h0M275.2 584h0M288.6 573.7h0M293.6 572.3h0M280.3 597.2h0M291.8 592.6h0M284.5 581.9h0M280.5 580.3h0M281.5 602.5h0M291.3 589.7h0M301.1 589.7h0M285.2 598.2h0M282.1 602h0M287.7 595h0M301.9 591.9h0M291.9 597h0M274.1 598.6h0M300.2 595h0M292 605.7h0M271.7 591.9h0M292 581h0M294 581.3h0M278.2 591.3h0M294 594.4h0M284 593.8h0M275.9 575.4h0M280.3 590.2h0M275.7 584.9h0M283.3 573.3h0M275.3 577.3h0M298.3 576.5h0M298.5 593.7h0M283.5 591.5h0M306 591.2h0M273 586.9h0M267.8 577.3h0M284.9 590.3h0M289.2 589.1h0M267.5 590.9h0M293.8 598.9h0M291.2 600.2h0M273.1 595.8h0M300.8 584h0M278.9 593.2h0M283.4 583.7h0M274.1 596h0M270.2 595.1h0M293.2 595h0M289.3 594.9h0M287.3 575.4h0M268 593.7h0M282.3 596.4h0M308.9 586.6h0M301.6 576.7h0M284.6 591.2h0M272 592h0M274.3 584.6h0M292.4 597h0M281.4 589.2h0M283.5 592.9h0M286.7 585h0M291.9 591.3h0M307.6 587.1h0M285.7 593.1h0M273.3 602.9h0M301.6 594h0M296.8 582.9h0M294.2 575.8h0M305.1 594.5h0M276.9 587h0M272 595.6h0M270.7 580h0M277.7 596.7h0M298.6 585.3h0M286.4 593h0M292.5 576.8h0M283.8 595.4h0M275 578.3h0M265.4 594.8h0M267.4 586h0M271.9 586.7h0M270.1 577.3h0M303.9 594.1h0M303.3 593.1h0M296.1 586.5h0M284.6 601.2h0M275.5 596.5h0M286.2 601.7h0M275.1 578.9h0M291.7 587.5h0M265.5 597.7h0M275.4 602.1h0M269.7 603h0M294.7 589.2h0M295 592.5h0M293.1 589.8h0M256.5 558.3h0M264 561.6h0M257.2 557.2h0M269.4 552.4h0M260 568.7h0M260.4 554.1h0M257.3 564.9h0M261.1 555h0M263.8 560.3h0M258.7 559.3h0M259.6 554.5h0M255 557.2h0M251.8 547.6h0M266.5 555.2h0M257.8 556h0M258.2 557.2h0M258.4 551h0M264.1 551.8h0M251.1 564.4h0M257 552h0M260.4 549.2h0M255.1 552.1h0M261.5 563.6h0M252.4 569.1h0M257.4 552.1h0M253.1 548.8h0M266.8 556.4h0M269.6 555.5h0M255.6 555.2h0M268.2 555h0M265.6 557h0M253.1 560.8h0M254.1 566.2h0M264.2 557.5h0M262 561.2h0M256.2 563.7h0M256.5 561.6h0M251.8 557.8h0M260.7 551.1h0M255.3 553h0M262.7 551.6h0M260.9 568.5h0M260.3 544.9h0M258.9 564.8h0M256.2 565.4h0" stroke="#cde7a2" stroke-width="2.8" stroke-linecap="round" fill="none"/>
<path d="M237.8 590.5h0M245.9 582.4h0M214.2 600.5h0M209.7 586.4h0M233.4 603.1h0M244.6 599.4h0M216.4 587.4h0M243.1 587.8h0M222.2 588.9h0M205.1 599.5h0M201.1 591.2h0M220.7 590.3h0M211.8 596.8h0M210.8 606.7h0M228.8 592.9h0M209.3 607.1h0M241.9 588.2h0M231.2 583h0M226 592.3h0M233.4 587.2h0M249.8 591.5h0M244.3 592.8h0M189.7 602.9h0M203.6 610h0M222.8 594.3h0M244.6 591.5h0M210.5 593.5h0M249.7 594.3h0M249.5 595.2h0M192.6 605.7h0M228.2 585.3h0M238.5 588.7h0M205.9 608.8h0M201.3 599.9h0M220.6 597.5h0M238 598.5h0M246.5 593.1h0M185.6 601.3h0M201.3 600.7h0M236.1 588.2h0M239.8 607.2h0M234.2 588.6h0M223 604.4h0M195.6 598.9h0M218.4 591h0M231.8 599.7h0M248.3 588.9h0M254.3 588h0M253.3 589.4h0M235 595.1h0M201.4 589.6h0M206.3 587.6h0M236.8 589.1h0M233.9 606.3h0M245.3 601.8h0M229.3 588.8h0M224 601.5h0M251 597.3h0M235 598.1h0M209.2 592h0M208.1 598.2h0M221.2 583.6h0M230.8 585.9h0M250.5 592.5h0M255.5 585.1h0M236.5 589.3h0M250.2 587.1h0M224.6 590.7h0M205.9 607.8h0M225.8 606h0M252.8 583.8h0M203.8 605.6h0M210.1 599.9h0M214 588.1h0M208.3 585.5h0M216.1 590.7h0M220.4 596.2h0M210.8 599h0M224.9 584.4h0M222.1 598h0M224 600.4h0M231.8 593.3h0M237.1 585.4h0M217.9 588.5h0M237.3 603.8h0M254.4 595.5h0M242.6 589.2h0M252.2 587.3h0M222.3 608.6h0M204.9 592.2h0M243.2 594.6h0M222.9 597.6h0M215.8 588.8h0M213.7 604.7h0M229.4 588.2h0M253.7 583.5h0M240.7 601.9h0M219.3 593.6h0M206.6 608.2h0M237.9 604.9h0M219.9 600.5h0M205.2 601.3h0M240.7 588.1h0M224.4 588.9h0M251.2 592.6h0M253.9 596.4h0M243.5 593.2h0M189.3 597.6h0M219.2 596.2h0M215.2 604.3h0M234.2 586.1h0M202.7 597.4h0M211.4 595.8h0M225.7 606.4h0M226.6 584.5h0M231.1 605.9h0M228.6 598.3h0M218.6 596.4h0M233.3 587.2h0M223.2 598.8h0M221.6 601.4h0M239.3 602.6h0M207.7 594.8h0M224.5 592.8h0M244.8 601.9h0M200.3 598.9h0M200.5 598.6h0M246.9 600.5h0M195.5 599.7h0M222.9 604.6h0M232.1 604.3h0M240.5 593.4h0M238 598.3h0M208.3 611.4h0M211.6 594.5h0M208.7 604.5h0M248.2 593.9h0M232.7 590.8h0M226.9 605.2h0M202.2 607h0M236 591.3h0M239.7 592.9h0M244.2 587.9h0M208.4 604.3h0M221.7 588.5h0M241.7 581.7h0M230.6 602.7h0M253.5 589.3h0M247.1 600h0M206.8 589.7h0M226 602.8h0M228.5 602.9h0M244.5 603h0M252.2 587.2h0M235.1 599.7h0M237.1 591h0M233.3 601.5h0M219.8 601.7h0M230.2 604.3h0M246.7 592.2h0M249.1 599.5h0M228.4 593.7h0M220.6 603.4h0M234 593.8h0M222.7 589.5h0M223.8 603h0M195.2 601.3h0M235 601.9h0M214.1 601.8h0M248.8 594.4h0M212.3 589.5h0M196.6 594.2h0M222.5 607.6h0M244.7 594.1h0M243.2 590.1h0M238.9 600.4h0M210.6 612.2h0M250.9 594.1h0M208.5 606.3h0M204.9 606.6h0M192.6 599.6h0M213.2 610h0M225.4 604.9h0M226.3 589.9h0M222.6 602.9h0M207.8 614.3h0M194.7 602.9h0M221.6 611h0M217.4 585.3h0M252.6 598.9h0M215.5 607.4h0M205 605h0M224.3 603.1h0M235.6 585.9h0M220.4 599.9h0M190.2 611.3h0M190.7 605.8h0M229.4 591.1h0M229.8 605.2h0M236.3 583.2h0M230.3 595h0M223.4 607.7h0M234.2 602.3h0M227.9 586.5h0M216.1 608.6h0M230.1 608.2h0M238.5 597.7h0M202.3 593.1h0M244 589.7h0M226.4 595.5h0M213.2 596.1h0M207.3 603h0M237.3 593.8h0M213.1 592.2h0M249.8 589.2h0M207.9 585.3h0M215.6 589.8h0M214.2 587.8h0M240.7 600.9h0M225.5 608.4h0M252.5 597.3h0M225 596.6h0M259.3 590.2h0M212.6 595.4h0M232.6 600.5h0M240.6 600.8h0M201.6 604.5h0M201.8 609.4h0M230.7 602.6h0M255.8 599.7h0M209 591.7h0M228.3 586.7h0M243.1 597h0M221.6 600.7h0M223.2 598.6h0M194.9 598.7h0M206.6 594.5h0M206.2 605.3h0M236.4 588.1h0M213.2 603h0M218.5 606.7h0M224.6 589h0M239.7 582.4h0M233.1 591.2h0M242.8 606.7h0M233.6 605.3h0M206.2 602h0M251.2 589.7h0M203.4 592.7h0M207.6 593.4h0M212.6 610.2h0M257.3 590.2h0M231.7 602h0M191.1 597.3h0M220.9 595.2h0M224.7 595.9h0M231 586.9h0M211 604.5h0M222.8 606.1h0M244.9 592.1h0M198.8 597.7h0M220.2 610.6h0M242.8 602.6h0M229.1 587.9h0M234.4 588h0M199.1 596.5h0M213.1 603.5h0M212.2 591.8h0M249.4 591.1h0M221.8 596.9h0M228.4 584.3h0M247.6 582.7h0M223.4 589.2h0M206 600.8h0M234.7 603.5h0M217.1 591.1h0M237.9 582h0M249.6 589.8h0M235.7 601.5h0M242.3 600.3h0M205.2 591.6h0M228.5 591.9h0M248 598h0M206.1 593.8h0M223.1 611.3h0M240.6 594h0M211.8 606.1h0M247.6 598.4h0M227 586.5h0M217.1 610.1h0M215.3 600.7h0M238.1 600.6h0M218.3 603.2h0M250.2 604.1h0M224.6 606.3h0M211.8 596.4h0M221.7 601.6h0M213.5 591.7h0M231.6 593.1h0M201.2 596h0M248.8 594.6h0M242.5 591.6h0M229 601.4h0M212.8 607h0M209.7 598.5h0M202.1 592.6h0M219.2 601.5h0M201.4 605h0M209.6 593.6h0M194 606h0M220.9 607.4h0M213.9 601.7h0M207.6 606.7h0M218.8 609.6h0M207.4 594.9h0M191.2 601.7h0M209 603.9h0M219.5 592h0M232 585.2h0M202 589h0M217.9 602.7h0M233.8 593.4h0M243.4 599.7h0M230.7 585.7h0M207.4 604h0M197.6 610.9h0M236.6 585.4h0M204.6 589.1h0M251.3 590.2h0M243.4 584.8h0M250.6 602.1h0M217.9 598h0M224.9 585.7h0M236.8 597.8h0M189.9 599h0M240.4 593.8h0M227.9 608.1h0M235.7 599.3h0M219.1 610h0M209.5 610.2h0M242 590.7h0M242.5 585.2h0M251.5 591.9h0M249.9 586.6h0M246.2 593.5h0M257.5 586.6h0M240.2 583.8h0M254.1 584.1h0M256.2 588.4h0M252 589.6h0M253.5 583.6h0M241.5 585.1h0M257.5 586.4h0M244.3 581.7h0M253.8 591.1h0M259.8 587.2h0M257.3 582.9h0M251.2 584.3h0M251.2 590h0M257.5 583h0M258.9 585.1h0M242.8 586.3h0M239.8 587h0M252 586.2h0M253.8 585.7h0M250 581.2h0M250.3 583.6h0M246.9 586.6h0M251.3 580.4h0M239.1 585.8h0" stroke="#8a8782" stroke-width="2.8" stroke-linecap="round" fill="none"/>
<path d="M154.9 571.2h0M161.1 559h0M162.8 560.6h0M168.9 564.2h0M159.6 561.6h0M171.9 577.2h0M174.6 574.3h0M162.4 568.9h0M168.6 559.8h0M167.2 562.8h0M158 572.2h0M161.1 551.1h0M159.3 565.4h0M154.8 580.5h0M174.6 556.3h0M166.9 579.7h0M163.7 553.6h0M150.7 572.8h0M165.7 565.4h0M161.8 563.2h0M176 573.3h0M155.7 583.9h0M152.7 574h0M167.5 579.9h0M169.3 578.4h0M165.5 577.5h0M158.8 579.9h0M170.4 568.7h0M160.1 571.7h0M151 551.7h0M172.8 549.7h0M180.1 563.8h0M168.2 567.6h0M169.9 563.7h0M162.1 565.4h0M176.2 579.3h0M178.5 570.8h0M163.7 548.4h0M172.2 576.1h0M161.7 575.7h0M178.7 567.9h0M176.3 570.2h0M148.4 561.6h0M161.7 572.7h0M157.1 562h0M156.1 566.4h0M166.5 577.6h0M173.7 568.7h0M168.2 568h0M166.9 583.9h0M168.9 579.3h0M154.8 570.7h0M174.4 561.9h0M146.7 562.9h0M153.8 574h0M167.2 558h0M160.7 554.8h0M169.7 583.3h0M163.6 577h0M156.3 570.2h0M178.1 579.8h0M156 577.5h0M161.5 565h0M172.8 568.1h0M168 563.3h0M177 558.3h0M182.5 563.1h0M157.8 573.9h0M170.3 545h0M168 552h0M157.5 575.5h0M157.1 570.7h0M164.8 553.9h0M154.7 556.8h0M167 566.7h0M175.4 568.6h0M167 570.3h0M164.4 570h0M173.5 575.4h0M160.2 547.3h0M157.6 569.8h0M170.1 560.5h0M179.5 563.8h0M178.8 581h0M156.2 563.8h0M154.6 567.5h0M152.4 566.6h0M176.4 569h0M162.9 583.6h0M156.6 577.2h0M162.5 569h0M165.8 568h0M165 558h0M159.8 571.4h0M164.4 553.7h0M158.4 558.9h0M164.9 568.5h0M166.4 559.3h0M165.6 551.4h0M148.9 556h0M153.3 573.3h0M153.3 569.4h0M160.5 552.8h0M149.6 571.4h0M169.2 574.8h0M183.6 569.3h0M168.1 564.9h0M166.3 562.4h0M146.6 569h0M169.6 567.8h0M155.5 564.1h0M160.5 554.3h0M164.6 561.6h0M159.6 573.6h0M154.5 570.9h0M158.9 570.7h0M165.7 568.7h0M155.2 557.5h0M156.4 567.9h0M172.4 577.8h0M160 566.9h0M156.3 558.6h0M170.2 557.1h0M166.6 562.4h0M171.6 557.5h0M151.8 564.3h0M157.2 581.2h0M148.8 557.7h0M167.1 571.9h0M174.7 569.5h0M166.5 575.1h0M161.5 562.4h0M160 558.6h0M153.4 559.5h0M149.2 569.8h0M181.5 577.7h0M162.5 559.1h0M176.8 567.5h0M170.1 557.6h0M175.2 556.7h0M165.6 546.5h0M158 571h0M160 560.6h0M172.4 564.7h0M170.2 571h0M173.2 553.7h0M158.1 572h0M161.2 570.7h0M155.8 568.7h0M175.3 569h0M165.1 555.5h0M183.1 558.5h0M180.1 564.9h0M151.2 566.5h0M167.8 571.3h0M175 555.6h0M169.4 573.5h0M161.8 555.1h0M154.9 573.6h0M172.4 556.3h0M151.1 579h0M149 567.1h0M156.4 546.2h0M165.7 563.3h0M162.6 576.6h0M174.8 559.7h0M155.8 583h0M160.8 565.1h0M161.5 563.9h0M158.4 573.6h0M176.9 561.3h0M150.7 565.9h0M149.6 558.4h0M168.2 553.7h0M157.5 582.1h0M171.9 550.3h0M147.9 574.7h0M164 558.9h0M168.5 559.1h0M158 554.4h0M151.2 568.1h0M156.4 572.2h0M161.8 577.2h0M160.6 558.2h0M152 554h0M167.8 570.6h0M157.7 566.3h0M148.4 562.1h0M173.4 583.3h0M162.8 562.6h0M169 577.5h0M169.3 557.2h0M168 576h0M157.4 550.8h0M169.5 569.4h0M174.1 566.4h0M158.1 560.6h0M154.2 555.1h0M158.9 560.1h0M175.6 552h0M164 559h0M179.3 568.3h0M160.8 574.4h0M165.2 560.2h0M179.8 573.2h0M172.2 566.9h0M153.7 573.2h0M165.3 572.9h0M164.5 558h0M154.5 573.2h0M177.4 562.4h0M169.1 580.6h0M156.3 561.8h0M153.4 578.4h0M167.2 560.5h0M148.1 563.6h0M174.5 562.3h0M160.4 572.6h0M152.3 566.1h0M170.5 557h0M156.4 568.3h0M163.6 563h0M166.7 568h0M155.4 558.3h0M169.1 577.8h0M178.1 556.3h0M175.5 573.9h0M164.3 570.9h0M172.9 585.1h0M154.2 572.2h0M167.9 581.8h0M159.8 592.6h0M164.4 584.6h0M169.1 581.6h0M185.6 583.6h0M173.6 576.8h0M167 585h0M168.7 582.8h0M173.1 600.7h0M170.4 586.6h0M187.5 592.4h0M178.6 581.8h0M170.2 589.5h0M172.9 580.6h0M164 592h0M172.6 598.3h0M165.4 589.7h0M157.4 594.7h0M160.8 577.3h0M165.7 577.2h0M176.2 589.6h0M156.1 585.1h0M175.4 590.7h0M182.3 575.3h0M163.6 586.6h0M179.9 591.7h0M167.6 579.2h0M180.4 595.7h0M187.6 577.7h0M166.4 582.1h0M167.2 580.4h0M166.4 587.3h0M167.3 593.2h0M170.9 587.7h0M186.1 590.4h0M173.2 587.6h0M172.3 592.5h0M163.8 597.3h0M187.1 597.4h0M166.9 574.5h0M167.4 589h0M179.8 586.2h0M168.7 600.4h0M165.1 596.6h0M180.6 576.7h0M174.4 583.1h0M156.4 591.2h0M167.9 590h0M161.3 585.1h0M169 574.9h0M155.4 591.4h0M173.2 580h0M170.7 593.3h0M189.6 580.4h0M172.4 600h0M171.6 572.1h0M179.3 596.5h0M183.6 597.7h0M171.4 581.5h0M167.2 587.5h0M175.7 583.7h0M172.2 595.1h0M166.1 576.8h0M160.3 592.3h0M162 579h0M169.1 594.4h0M168.2 584.8h0M180.7 591.7h0M176.2 595.7h0M161.8 589.5h0M165.5 596.3h0M179.7 579h0M184.8 578h0M183.2 589.5h0M163.1 578.4h0M168.7 587.5h0M164.7 592.5h0M157.9 587.7h0M171.7 572.1h0M174.7 577.2h0M169.5 595.3h0M166.9 600.1h0M185.9 596.9h0M184.7 590.7h0M166.2 593.2h0M181.2 589.7h0M169.3 574.6h0M178.4 590.7h0M158.9 588.6h0M178.8 586.8h0M179.4 594.1h0M157.1 585.2h0M176.5 595.4h0M171 593.7h0M162.5 584.6h0M161.3 594.6h0M158.6 597.7h0M180.9 591.8h0M179.1 575.8h0M169.3 586.9h0M180.5 590.1h0M174.4 584h0M171.7 586.6h0M178.9 586.2h0M181.9 573.5h0M183.5 586.3h0M182.8 588.4h0M180.1 600.3h0M166.2 588.4h0M170 589.5h0M155.7 586.3h0M169.2 581.1h0M169.8 574.8h0M185.5 591.5h0M160.1 590.1h0M155.2 589.6h0M164.7 584.9h0M174.2 588.1h0M190.1 593h0M158.9 595.9h0M162 542.4h0M157.2 537.1h0M150.3 538.8h0M154.7 536.7h0M155.2 542.3h0M156.9 535.6h0M152.1 541.3h0M155.7 543.9h0M160.9 539.8h0M155.7 542.9h0M154.5 537.7h0M151.8 539.7h0M152.3 542.7h0M153.4 545.3h0M159.3 534.9h0M158.8 538.1h0M159.9 541.6h0M154.5 542.3h0M152.6 540.9h0M156.2 539.1h0" stroke="#c76bb9" stroke-width="2.8" stroke-linecap="round" fill="none"/>
<path d="M176 580.1h0M180.3 576.9h0M183.6 589.8h0M186.6 581.2h0M186.9 578.7h0M175.2 583.9h0M172.8 584.8h0M170.7 574.3h0M179 571h0M178.9 583.2h0M169 585.6h0M174.7 583.3h0M180.5 577.1h0M175 569.5h0M173.7 575.2h0M191.3 586.2h0M168.6 584.8h0M180.6 577.6h0M182.4 584.8h0M174.7 578.3h0M180.2 574h0M180.3 579.5h0M173.9 574.8h0M181.2 585.3h0M181.4 574.8h0M184.6 581h0M183.4 587.1h0M172.2 579.1h0M174.5 574.7h0M165.8 582.6h0M174.8 587h0M179.6 578.9h0M180 582.3h0M179.2 578.7h0M178 583.1h0M170.5 580h0M178.1 577h0M184.5 572.2h0M176.3 574.8h0M183.1 577.2h0M179.4 582.3h0M167.1 582.7h0M173.4 578.4h0M178.2 584.9h0M184.5 590.7h0M180.3 577.1h0M175.2 584h0M191 582.1h0M174.7 581.7h0M180.9 580.2h0M175 586.4h0M179 568.8h0M193.9 581.2h0M170 584.8h0M173.2 583.4h0M179.2 572.8h0M184 571.9h0M189 580.4h0M171.3 569h0M169.6 590h0M180.2 578.7h0M178.4 578.4h0M189.7 580.9h0M185.6 573.4h0M176.3 574.5h0M179.3 582.4h0M180.8 576.4h0M173 585.1h0M173 584.8h0M179.4 575.4h0M189.2 580.7h0M172.3 578.1h0M186.6 572.6h0M189.3 584.2h0M176.9 588.2h0M192.1 583.6h0M180.3 591.2h0M190.2 574.4h0M177.5 578.7h0M175.9 570.9h0M185.8 580.5h0M179.7 588.6h0M174.8 579.7h0M181.1 577.4h0M178.2 584.7h0M178.9 588.1h0M173.4 581.2h0M168.3 579.3h0M173.7 588.3h0M184.6 583.1h0M164.9 572.4h0M163.3 571.6h0M171.9 552.8h0M161.1 559.7h0M168.7 569.9h0M166.7 569.4h0M165.6 566.2h0M165.5 555.9h0M171 576.5h0M167.3 557.9h0M167.7 567.3h0M176.5 570.5h0M161.5 569.7h0M173.9 566.4h0M175.1 559.1h0M167.5 559.3h0M173.3 558.4h0M170.8 555.3h0M167.1 560.5h0M167.2 563.9h0M166.7 561.5h0M163.6 561.3h0M162.2 570h0M161.7 566.5h0M176.3 567.3h0M159.6 572h0M176.3 568.9h0M173.6 563.6h0M164.4 570.6h0M176.9 555.8h0M174.4 564.8h0M174.2 565h0M175.8 570.2h0M174.3 553.5h0M173.8 563.4h0M160.2 568h0M158.6 569.3h0M179.9 559.6h0M174.5 566.3h0M172.7 553.7h0M155.2 608.5h0M146.6 607.9h0M149.9 616.5h0M147.5 607.4h0M149 607h0M156.5 611h0M147.9 607.5h0M152.7 606.2h0M152 604.6h0M147.9 608.4h0M146.2 610.2h0M151.1 603.7h0M148.6 605.8h0M151.3 608.7h0M151 603.9h0M160.6 612.6h0M152.8 612.8h0M154.1 606.9h0M158 613.2h0M149.9 611.1h0M158.4 614.3h0M155.9 615.8h0M153.5 610.6h0M153.9 608.7h0M160.3 605.8h0" stroke="#4a7cc2" stroke-width="2.8" stroke-linecap="round" fill="none"/>
<path d="M139.8 503.9h0M115 485.1h0M130.2 527.6h0M122.8 466.1h0M142.1 522.6h0M149.8 513.6h0M137.8 486.8h0M126.1 490.4h0M138 494.8h0M132.9 499.6h0M130.8 515.3h0M118.1 457.6h0M124.2 489.8h0M149 518.9h0M125.9 476.3h0M152.6 531.6h0M126.7 492.4h0M131.3 481.3h0M137.7 512h0M132 484.7h0M150.6 548.3h0M147.5 527.1h0M133.6 532.3h0M138.5 534.3h0M116.9 469.4h0M115.1 465.7h0M127.7 500.8h0M139.3 497.4h0M125.3 509.8h0M138 515.6h0M145.9 534.4h0M148.5 529.9h0M152.1 530.5h0M134.5 517h0M146 532.2h0M126.9 473.2h0M121.5 457.8h0M137 504.6h0M140.2 535.5h0M132.5 496.4h0M113.9 467.1h0M121.8 485.8h0M121.5 481.7h0M138.1 528h0M130.8 480h0M132.6 534.9h0M148 533h0M147.8 530.7h0M134.9 534.3h0M134.1 481.8h0M124.5 487.1h0M125.4 477.5h0M119.8 459h0M150.8 525.2h0M132.8 471.9h0M136.9 505.3h0M125.6 494.6h0M141.2 515.7h0M130.8 500.4h0M141.3 524.7h0M124 488.5h0M129.6 495.7h0M128.6 481h0M123.9 488.8h0M135.9 527.1h0M147.4 543.4h0M116.2 479.6h0M143.5 537.6h0M146.8 509.6h0M123.3 481.2h0M113.7 483.3h0M139.3 528.3h0M127.8 469.6h0M147.8 530.3h0M129.6 511.9h0M161.8 541.8h0M136.7 504.6h0M121.1 477.8h0M145.4 513.7h0M137.2 499h0M137.3 461.2h0M147 531.2h0M147.9 526.7h0M141.5 536.8h0M137.7 507.8h0M128.7 514.3h0M132.8 477.7h0M144.2 533.7h0M152.9 524.9h0M137.5 523.3h0M151.5 526.2h0M135.3 528.9h0M126.3 490.6h0M117.7 472.2h0M142.7 542.2h0M124.5 459.5h0M116.7 484.2h0M136.9 507h0M123.9 456.8h0M124.8 485.6h0M143 523.9h0M133.8 509.8h0M148 515.2h0M122.8 466.9h0M130.3 500.2h0M122.8 475.3h0M136.4 501.2h0M132 504.4h0M132.4 492.7h0M117.2 486.3h0M141.5 527.6h0M138.8 498.1h0M141.5 539h0M136.2 489.8h0M127.7 485.6h0M131.1 493.2h0M133 539.8h0M133.2 494.6h0M140.4 520.2h0M138.2 518.1h0M134 478.6h0M135.2 481.1h0M132.6 468.6h0M133.8 508.3h0M139.5 509.8h0M125.6 492.3h0M139.4 528.5h0M125.4 461h0M146.3 518.1h0M114.6 474.3h0M159 535.2h0M125 475h0M141 541.9h0M131.5 499.8h0M117.1 477.5h0M112.1 467.8h0M125.2 487.6h0M139.1 494.1h0M145.8 539h0M158.1 533.3h0M128.7 470.5h0M132.7 514.2h0M119.3 461.7h0M129.3 473.8h0M134.6 512.4h0M136.9 504.2h0M151 536.2h0M155.5 541.7h0M131.2 477.1h0M137.4 510.9h0M155.5 525.6h0M145.1 532.9h0M126.5 504.5h0M131 499.3h0M127.1 506.7h0M138.8 502.5h0M135.1 509.6h0M135.6 537.4h0M131.6 486.4h0M132.8 498.9h0M128.2 493.7h0M140.8 525.4h0M129.9 487.4h0M133.5 498.8h0M138.4 535.6h0M118.6 503.9h0M146.8 530.9h0M131 506h0M117.8 465h0M128.8 484.2h0M130.9 484.3h0M119.3 490.4h0M131.1 495.6h0M129.5 495.1h0M148.3 534h0M157.3 533.6h0M146.4 513.3h0M140.7 516.5h0M154.6 545.7h0M150.2 526.9h0M125.4 479.8h0M147.4 540.3h0M131.9 466.3h0M135.9 484.2h0M138.9 534.7h0M124.1 468.6h0M140.4 538.7h0M153 545.3h0M122.8 463h0M146.9 512h0M156.2 537h0M135.7 506.2h0M136 504.5h0M131.3 510.3h0M130.6 510.5h0M135.9 509.1h0M137.2 516.6h0M159.1 537.7h0M121.3 470.5h0M131 483.1h0M123 464.7h0M125.8 473.5h0M129.3 471.6h0M139.7 521.6h0M133.1 497.5h0M144 513.1h0M135.2 490.3h0M148.7 530.4h0M121.5 477.4h0M136 506.9h0M126.7 497.1h0M128.4 477.9h0M114.2 467h0M121.3 494.4h0M125.6 480.6h0M123.1 470.7h0M140 538.2h0M118.5 493.2h0M126.4 461.8h0M126.4 517.3h0M128.4 507.8h0M143.5 518.6h0M129.3 500.1h0M128 471.1h0M138 518.5h0M131.6 498.1h0M144.5 531.3h0M122.7 482.7h0M133.7 479.4h0M127.6 471.2h0M128.2 480.9h0M139.5 478.4h0M127.8 512h0M136.7 482.7h0M150.3 544.1h0M119 486.1h0M144.4 530.4h0M126.5 489.4h0M124.1 515.9h0M145.6 533.3h0M147.2 524.7h0M156.1 535.4h0M136.3 508h0M129.2 489.6h0M137.6 527.9h0M134.4 514.9h0M122.3 472.6h0M127.7 480h0M139.7 538.6h0M138.8 519.1h0M144.5 516h0M128 481.5h0M140.1 538.4h0M137.3 487.2h0M129.3 475.5h0M124.3 488.3h0M126.7 501.4h0M129.6 466.1h0M150.5 529.1h0M140.9 534.2h0M120.8 471.8h0M142.5 497.2h0M148.5 522.2h0M129.6 494.2h0M130.7 493h0M126.4 484.8h0M126.8 501.7h0M134.1 486h0M145.1 521.2h0M128.3 482.3h0M136.8 474h0M148.9 542.4h0M120 486h0M131.1 504.5h0M146.1 521.5h0M136.6 482.7h0M149 532.6h0M127.1 480.7h0M132.2 482.7h0M118.7 462.8h0M141 542.2h0M126.1 480.9h0M149.2 533.6h0M133.4 505.9h0M149.5 541.5h0M117.8 473.1h0M142.6 531.2h0M148.9 535.6h0M137.5 526h0M122.3 468.9h0M153.5 546.7h0M141.2 527.5h0M121.6 481.3h0M155.6 543.7h0M126 471.1h0M115.8 478.1h0M127 473.6h0M148 513.9h0M136.5 490.7h0M132.4 478h0M141.4 508.3h0M148.5 541.5h0M121.2 477.2h0M143.7 510.4h0M119.2 482h0M134.4 509.3h0M133 488.3h0M129.7 494.6h0M122.1 465.3h0M128.7 515.6h0M143.6 492.3h0M143.6 524.5h0M123.1 478.4h0M143.2 535.2h0M125.3 471.6h0M127.4 486.7h0M138.5 508.4h0M134.6 483.8h0M123.2 497.4h0M136.3 505.8h0M153 511.2h0M135.6 535.7h0M127 485.3h0M147 519.6h0M116.7 464h0M151.3 544.1h0M126.3 519.2h0M144.4 523.6h0M125.9 473.1h0M130.1 514.4h0M144.1 527.6h0M128.1 470.3h0M150.4 522.8h0M137.6 525.4h0M138.2 523.4h0M133.6 488.3h0M138.6 520.3h0M138.9 511.6h0M122.1 481.7h0M129.3 477.1h0M157.3 539.3h0M135.7 503.5h0M140 494.3h0M125.6 497h0M139.4 515.3h0M127.6 478.5h0M126 476.1h0M142.7 506.5h0M151.5 533.8h0M140.2 505.1h0M158.5 526.8h0M122.7 492.5h0M125.9 491.5h0M117.5 492.8h0M131 498.5h0M126.1 488.8h0M145.5 522.4h0M123.4 500.5h0M126.1 506.2h0M133.3 511.9h0M146.3 544.1h0M131 490.8h0M141.1 514.5h0M128.4 489.6h0M147.8 526.5h0M122.1 494.3h0M124 462.5h0M142.3 509.2h0M134.3 488.1h0M125.3 493.3h0M119.4 491.6h0M124.8 463.4h0M141.2 515.5h0M136.2 501.2h0M129.5 523.8h0M131.2 497.6h0M136.3 491.4h0M119.8 501.6h0M138.6 505.4h0M157.8 534.6h0M133.1 487.5h0M127.3 487.6h0M128.5 473.9h0M117.1 490.5h0M127.7 515.2h0M131.3 513.4h0M134.4 533.3h0M131 517.8h0M137.5 474.2h0M125.3 500.5h0M136.1 500.6h0M113.8 476.5h0M123.3 523.3h0M142.7 522.4h0M129 472.7h0M127.2 517.2h0M124.4 465h0M150.9 534.7h0M142.9 512.8h0M119.7 477.2h0M145.4 511.2h0M137.3 480.6h0M133.3 488.4h0M129.3 507.5h0M126.6 498.4h0M150.5 534.8h0M146.9 534.7h0M145.6 534.4h0M134.2 498h0M148.5 531.7h0M130.2 468.9h0M152.4 525.1h0M131.5 489.8h0M143.4 532.7h0M124.8 464.8h0M128.5 511h0M126.2 475.2h0M135.9 487.6h0M123.1 509h0M114.8 469.4h0M145.7 523h0M130 502.1h0M126.7 473.2h0M137.6 505.8h0M143.5 494.5h0M131 464.8h0M146.2 514.5h0M144.7 518.2h0M142 534h0M151.2 539.7h0M139.9 474.5h0M120.4 469.7h0M134.7 465.9h0M124.8 471.8h0M129.7 477.5h0M133.1 473.3h0M140.9 469.2h0M131.3 467.3h0M132.7 475.4h0M138.8 471.1h0M127.4 468.2h0M123.7 471.7h0M122.5 472.6h0M124.4 474.4h0M135.6 471.9h0M135.9 471.4h0M134.4 478.5h0M137.4 468.6h0M126.9 470.3h0M130.1 471.5h0M128 473.9h0M131.6 472.7h0M131.4 473.7h0M124.8 477.6h0M133.3 473.1h0M134.7 475.6h0M135.4 472.2h0M130.4 464.7h0M132.6 470h0M121.2 471.5h0M138.1 475.1h0M138.2 466.2h0M126.1 473.8h0M129.8 478.2h0M132.7 472.1h0M133.9 470.2h0M132.1 468.6h0M131.2 469.4h0M132.9 465.7h0M123.2 473.2h0M132.7 467.5h0M130.2 467.1h0M140.9 468h0M133.8 470.3h0M129.4 475.1h0M136 470.2h0M139.2 471.9h0M129.8 472.5h0M131.9 476.1h0M126.2 471.4h0M127.2 476.6h0M141.4 471h0M134.5 477h0M129.8 467.6h0M137.2 473.4h0M130.4 477.2h0M132.8 464.2h0M133.4 471.1h0M141.8 471.3h0M130.4 473.1h0" stroke="#47589a" stroke-width="2.8" stroke-linecap="round" fill="none"/>
<path d="M138.6 464.1h0M143.2 456.9h0M140.4 459.9h0M140.1 463.1h0M138.8 460.4h0M139.5 462.4h0M136.4 459.6h0M136.2 461.6h0M138.6 463.2h0M144.4 461.3h0M139.5 461.9h0M141 458.2h0M144.6 461.8h0M143.6 457.8h0M143 457.6h0M140.9 461.1h0M141.6 460.6h0M142.6 460.1h0M141.6 459.5h0M141.2 463.7h0M139.1 462.9h0M137.7 460.3h0M140 464.4h0M138.1 464.3h0M135.6 460.8h0M144 463h0M137.2 458.1h0M143.9 458h0M142.8 459.9h0M146.3 463.3h0M135.9 462h0M141 461h0M141.9 461.5h0M138.1 465.6h0M159.3 475.7h0M158.6 477.6h0M156.2 475.7h0M158.4 472.1h0M158 478.2h0M156.7 475.6h0M155 474h0" stroke="#8cc63f" stroke-width="2.8" stroke-linecap="round" fill="none"/>
<path d="M148 494.4h0M149.8 500.8h0M157.3 492.3h0M153.6 483.1h0M150.9 493.9h0M153 496h0M148.4 489.6h0M149.7 497.6h0M148.6 504.2h0M156.9 495.4h0M149.9 495h0M146 495.6h0M155.9 502.8h0M150.6 487.8h0M154.6 494h0M152.3 498.5h0M148.3 499.7h0M146.7 490.1h0M149.6 499.2h0M154 496.7h0M153.3 497.5h0M151.4 481.4h0M151.5 492.7h0M151.2 495.8h0M150.9 487.5h0M155.4 500.4h0M147.4 492.4h0M153 505.1h0M149.7 495.4h0M149.3 494h0M154.3 495.6h0M148.6 500.1h0M153.6 490.7h0M150.2 484.3h0M151.4 500.1h0M154.7 498.1h0M154.2 490.2h0M150.1 502.4h0M153 488.8h0M153.2 499.8h0M153.8 494.9h0M150 496.9h0M156.9 495.2h0M149.5 496.5h0M147.7 495.7h0M150.6 500.7h0M151.9 501.3h0M149 497.3h0M151.3 495.1h0M149.7 497.9h0M150.8 496.4h0M155.3 490.2h0M149.1 501.9h0M149.7 494.9h0M153 499.1h0M151.6 486.6h0M154.7 491.2h0M154.3 487h0M150.1 492.5h0M154.1 499.4h0M157.4 509.5h0M158.4 514.8h0M157.6 512.2h0M157.7 513.1h0M162.6 513.5h0M161.8 511.6h0M159.8 513.5h0M162.6 511.1h0" stroke="#8a8a30" stroke-width="2.8" stroke-linecap="round" fill="none"/>
<path d="M167.9 488.8h0M170.9 487.9h0M168.7 494.1h0M172.2 488.8h0M174.1 489.9h0M175 495.1h0M179.1 489.9h0M185.3 477.9h0M183 484.6h0M165.9 488.2h0M173.7 498.7h0M172 484.4h0M176.4 467.4h0M178.1 475.3h0M174.9 470.2h0M176.1 485.5h0M179.4 481.4h0M167.7 482.8h0M170.6 478.3h0M174.7 473.2h0M172.3 482.8h0M172 481.8h0M182.6 487.8h0M166.8 480.3h0M179.6 478.3h0M175.5 483.7h0M178.3 482.4h0M174.1 476.5h0M177.2 475.9h0M185.7 483.8h0M173.6 490.9h0M174.5 484.8h0M174.7 477.7h0M169.3 477.9h0M182 478.5h0M172.5 480.1h0M169.3 488.8h0M175.7 481.4h0M178.1 472.9h0M180.1 485.9h0M168.9 497.9h0M180.2 494.1h0M166.1 481.6h0M171.8 489.5h0M175.1 482.9h0M181.1 483.6h0M167.2 482.3h0M168.6 477.2h0M175.3 479.8h0M176.7 470.8h0M179.4 472.8h0M183 479.4h0M182.4 494.6h0M175.1 494.6h0M177 478.3h0M167.8 482.9h0M181.1 472.2h0M165.1 488.8h0M172.3 490.4h0M173.3 482.9h0M176.4 493.2h0M183.1 485h0M172.9 483.7h0M176.9 495.4h0M175.8 499.8h0M169.7 488.6h0M177 476.3h0M170.6 482.6h0M176.9 481.8h0M166.1 477.6h0M178.2 491.3h0M166.4 480.8h0M164.7 479.1h0M172.9 478.9h0M174.7 481.6h0M177.7 495.7h0M165.1 488.5h0M184.1 484h0M176.8 478h0M176.8 493.8h0M173.9 482.8h0M177.4 491.2h0M165 484.5h0M170.8 488.3h0M181.4 486.7h0M182.9 475.4h0M172.5 475.4h0M175.4 484.8h0M173.8 473.5h0M174.5 480.2h0M178.7 481.7h0M182.1 486h0M163.6 482.5h0M166.2 492.4h0M183.8 483.8h0M177.7 471.4h0M173.4 470.8h0M175.6 486.7h0M179 497.5h0M180 480.8h0M175.7 489.2h0M168.6 495.6h0M180.5 482.1h0M180.2 492.2h0M176.3 490.2h0M169.4 490.3h0M165.6 487.7h0M178.5 470.5h0M181.5 479.5h0M177 478.3h0M179.4 485.4h0M173.6 489.4h0M176.1 482.8h0M166.6 481.5h0M178.8 480.1h0M177.3 482.9h0M168.8 476.3h0M170.6 481.7h0M173.5 493.9h0M179.4 480.2h0M184.2 489.3h0M181 485.3h0M181.1 478.9h0M170.8 480.2h0M171.4 494.4h0M174.2 493.6h0M173.2 492.6h0M174.5 481.8h0M175.1 485.7h0M171.6 472.3h0M177.2 527.6h0M169.9 520.7h0M171.4 507.8h0M177.5 528.4h0M173.8 519.2h0M174.1 518.2h0M175.8 523.1h0M173.1 513.9h0M172.8 526.8h0M173.3 532h0M174.1 531.3h0M169.7 514.7h0M177.3 524.2h0M175.5 522.6h0M172.6 533.6h0M179 523.6h0M167.7 523.2h0M173 523.4h0M179.3 514.2h0M176.1 527.3h0M175.9 517.6h0M170.4 514.9h0M169.4 528.2h0M175.6 510.5h0M175.1 509.9h0M180.4 508.4h0M171.9 521.9h0M173.4 513.4h0M172.8 518.3h0M172.6 521.9h0M174.1 514.1h0M175.2 506.9h0M174.8 523h0M177 522.3h0M180.8 511.2h0M174.8 521.4h0M172.9 515.5h0M180.9 514.5h0M173 518h0M174.2 521.5h0M174.2 523.2h0M175.7 524.1h0M181.3 513.5h0M182.5 516.6h0M178.1 521.5h0M173.8 504.5h0M182.4 514.2h0M171.6 528.7h0M175.4 535.4h0M182.7 525.8h0M162.3 528.7h0M156.4 531.1h0M154.2 532.7h0M158.6 534.6h0M158.1 526.8h0M161.8 536.1h0M162.8 523.1h0M156.1 533.2h0M156.4 526.9h0M167.7 525.4h0M155.2 524h0M163.5 529.2h0M163.6 531.9h0M156.7 521.4h0M196.8 517.9h0M187.3 517.9h0M184.1 520.2h0M191.1 514.1h0M192.3 522.2h0M188.2 510.1h0M195.9 511.7h0M191.5 511.9h0M192.5 513.7h0M187.4 522.7h0" stroke="#a896cf" stroke-width="2.8" stroke-linecap="round" fill="none"/>
<path d="M207.4 473.9h0M202.2 489.4h0M197.1 487.4h0M200 484.6h0M210.4 479.8h0M206.9 479.6h0M204.5 482.4h0M206.4 483.5h0M201.4 483.6h0M209.2 476.6h0M209 482.2h0M199.7 483.2h0M212.4 487.3h0M211.6 479.9h0M201.6 477h0M199.3 481.6h0M200 488.3h0M207.6 488.6h0M205.1 490.4h0M205 489.8h0M208.3 488.4h0M203.4 476.6h0M207.3 486.7h0M202.6 481.2h0M203.5 483.7h0M194.4 476.4h0M198 481.9h0M199.9 488.9h0M194 486.4h0M216.5 489.4h0M211.2 487h0M199 491.7h0M200.6 484.6h0M195.2 485.9h0M200.3 481h0M213.2 485.3h0M191.3 488.1h0M211.1 479h0M200.7 484.3h0M201.9 484.7h0M209.5 481h0M202.4 477.6h0M213.7 485h0M196.8 486.4h0M215.6 488.1h0M207.7 483.8h0M208.7 491.3h0M211.3 490.3h0M205.9 488.6h0M214.3 483h0M209 481.4h0M206 482.5h0M189.5 482.9h0M191.9 485.2h0M203.1 490.8h0M203 486.2h0M201.5 481.7h0M192.1 489.9h0M205.5 480.5h0M205.8 481.5h0M197.8 485.5h0M214.3 482.4h0M191.9 480.3h0M219.3 479.1h0M214.1 482.6h0M210.3 483.4h0M190.6 481.5h0M208.8 482h0M202.9 485.9h0M203.9 482.9h0M198.4 476.1h0M190.3 488h0M211.3 482.2h0M194.2 484.2h0M204.2 490.8h0M197.7 481.7h0M203.6 482.4h0M198.7 473.7h0M190.1 480h0M202.1 490h0M207.4 495.3h0M203 480.9h0M200.5 482.4h0M216.4 480.5h0M210.7 481.6h0M193.6 485.4h0M205.5 477.1h0M196.7 479.3h0M212.2 486.8h0M206.1 487h0M200 486.9h0M198.9 476h0M198.1 485.3h0M204.8 490.4h0M189.7 482.7h0M207.4 478.3h0M206.2 481.6h0M194.5 490.8h0M192.3 490h0M200.5 478.4h0M196.5 479.6h0M196.9 485.7h0M211.2 492.4h0M198.8 483h0M206.6 480.9h0M203.4 484.9h0M194.5 485.6h0M213.2 479.4h0M204.1 493.9h0M201.7 490.3h0M206.6 485.4h0M210.2 482.7h0M202.3 489.8h0M206.3 487.1h0M193.9 484.2h0M214.4 489.5h0M207 481h0M198.9 486.7h0M216.2 484.3h0M215.2 482.3h0M214.3 478.1h0M205.7 477.7h0M209.7 487.5h0M196.1 479.6h0M200.4 475.2h0M196.3 478.9h0M210.8 492.4h0M200.4 482.4h0M205.9 481h0M201.8 489.1h0" stroke="#2f8558" stroke-width="2.8" stroke-linecap="round" fill="none"/>
<path d="M213.5 525.3h0M208.8 533.7h0M209.7 530.5h0M216.3 533.6h0M200.4 529.9h0M212.6 524.9h0M215.5 526.1h0M208.4 531h0M206.8 536.8h0M207.4 533.1h0M210.6 522.7h0M220.2 530.1h0M209.4 522.5h0M199.4 527.8h0M200.1 535.2h0M216.8 527.3h0M199.5 529h0M203.3 532.9h0M212 528.7h0M211.2 539h0M222.7 528.1h0M215.8 530.1h0M203.3 540.7h0M213.5 532.7h0M213.2 530.6h0M217 533.6h0M217.5 540.7h0M209.3 535.8h0M208.4 536.2h0M208.2 535.3h0M214 529.4h0M217.3 531.1h0M207.8 531.7h0M205.5 540.1h0M215.1 538.6h0M201.3 533.6h0M205.3 532.3h0M219.6 533.5h0M209.5 539.5h0M197.7 534h0M207.8 525.6h0M211.5 523.6h0M208.9 544.8h0M205.7 523.5h0M209 532.7h0M200.6 526.4h0M218.8 535.2h0M213.2 534.2h0M203.5 539.2h0M212.3 518.8h0M208.9 539.2h0M209.2 527.3h0M207.6 534.4h0M202.8 525.4h0M218.5 529h0M207.9 522.9h0M212.2 537.2h0M207.5 530.4h0M202.2 541.6h0M206.4 530.6h0M222.5 530.1h0M199.9 525.2h0M208.2 544.2h0M212.3 530.2h0M216.6 540.9h0M205.4 541.8h0M216.8 534.9h0M220.6 529.9h0M203.6 536h0M212.9 537.7h0" stroke="#a9d3e4" stroke-width="2.8" stroke-linecap="round" fill="none"/>
<path d="M120.6 451.7l4 1l-1.6 2.4zM140.6 451.7l3.9 1.5l-1.9 2.2zM116.6 456.6l3.3 2.5l-2.4 1.6zM121.1 457.3l4 1.1l-1.7 2.3zM125.9 456.3l3.5 2.2l-2.3 1.8zM131 457l3.7 1.8l-2.1 2zM135 457l4.1 .8l-1.5 2.5zM140.4 456.6l3.8 1.8l-2.1 2zM145.4 456.9l3.9 1.5l-1.9 2.2zM111.3 462.7l4.1 .8l-1.5 2.5zM116 462.6l4.1 .8l-1.5 2.5zM121.2 462.5l3.9 1.3l-1.8 2.3zM125.7 461.9l3.8 1.7l-2.1 2.1zM130 462.8l4.2 -.1l-1 2.7zM135.7 462.8l4.1 .5l-1.3 2.6zM140.5 462.9l4.2 .2l-1.2 2.7zM145.4 462.3l3.9 1.4l-1.8 2.2zM174.4 464.2l3.3 -2.5l.9 2.8zM193.9 464.2l3.2 -2.6l.9 2.8zM106.1 467.5l4 1.3l-1.8 2.3zM111.3 467.1l3.6 2.1l-2.2 1.8zM115.7 468.6l4.1 -.7l-.5 2.9zM120.6 468.1l4.2 .1l-1.1 2.7zM125.9 467.8l4 1.1l-1.7 2.3zM130.2 467.6l4.1 .9l-1.6 2.4zM135.6 467.2l3.7 1.9l-2.1 1.9zM140.3 467.2l3.8 1.7l-2 2.1zM154.3 468.6l4.1 -.9l-.4 2.9zM159.9 468.1l4.1 .4l-1.3 2.6zM169.4 467.8l4.1 .8l-1.5 2.5zM174.2 468.6l4.1 -.9l-.4 2.9zM178.9 469.4l3.5 -2.2l.6 2.8zM183.8 468.5l4.1 -.6l-.6 2.8zM188.9 469l3.8 -1.6l.1 2.9zM193.9 468.8l4 -1.1l-.2 2.9zM110.7 473.1l4.1 .6l-1.4 2.5zM115.7 473l4.1 .8l-1.5 2.5zM120.7 472.6l3.9 1.5l-1.9 2.2zM125.2 473.6l4.1 -.4l-.8 2.8zM131 473l3.8 1.6l-2 2.1zM134.9 473.5l4.2 -.2l-.9 2.8zM140.3 473l4 1.1l-1.7 2.4zM144.5 473.6l4.1 -.4l-.7 2.8zM149.8 474.2l3.9 -1.4l-.1 2.9zM154.7 473.8l4.1 -.6l-.6 2.8zM159.1 473.9l4.1 -.9l-.4 2.9zM164.5 474.3l3.9 -1.6l.1 2.9zM169.6 474.9l3.1 -2.8l1.1 2.7zM174.4 474.4l3.7 -1.8l.3 2.9zM179.4 474.5l3.6 -2.1l.5 2.9zM183.7 474.8l3.5 -2.3l.7 2.8zM188.7 474.3l3.9 -1.6l.1 2.9zM193.6 474.3l3.9 -1.5l.1 2.9zM198.9 474l4 -1l-.3 2.9zM203.8 473.4l4.1 .4l-1.2 2.6zM208.7 474.4l3.8 -1.8l.2 2.9zM213.5 473.9l4.1 -.6l-.6 2.8zM110.4 478.8l4.2 -.3l-.8 2.8zM115.8 478.7l4.1 .4l-1.2 2.6zM120.4 478.8l4.2 0l-1 2.7zM126.1 478.1l3.7 2l-2.2 1.9zM130.5 478.6l4.1 .6l-1.4 2.6zM134.9 479.1l4.1 -.6l-.6 2.8zM140 478.6l4.1 .3l-1.2 2.6zM145.3 479l4.2 -.2l-.9 2.8zM150.2 478.8l4.1 .4l-1.3 2.6zM155 478.8l4.2 .2l-1.2 2.7zM159.8 479.1l4.1 -.4l-.7 2.8zM164.1 479l4.1 -.6l-.6 2.8zM169.4 479.2l4.1 -.7l-.5 2.9zM174 479.8l3.7 -1.8l.3 2.9zM178.6 479.3l4 -1.1l-.2 2.9zM183.7 479.7l3.8 -1.7l.2 2.9zM188.6 478.7l4.2 0l-1 2.7zM193.4 480.2l3.4 -2.4l.8 2.8zM198.3 479.5l3.9 -1.4l0 2.9zM203.6 479.6l3.9 -1.6l.1 2.9zM208.8 478.8l4.1 .5l-1.3 2.6zM213.2 479.3l4.1 -.9l-.4 2.9zM217.8 479.1l4.1 -.7l-.5 2.9zM110.8 484.1l4.2 .1l-1.1 2.7zM115.7 483.9l4.1 .5l-1.3 2.6zM120.4 484.7l4 -1.2l-.2 2.9zM125.4 484.5l4.1 -.8l-.5 2.9zM130.4 484.9l3.8 -1.6l.1 2.9zM135.2 483.7l4.1 .7l-1.5 2.5zM139.9 483.6l4.1 .7l-1.5 2.5zM144.5 485.3l3.5 -2.2l.6 2.8zM149.8 484.5l4.1 -.7l-.6 2.8zM155 484.5l4.1 -.7l-.5 2.9zM159.7 484.6l4.1 -.9l-.4 2.9zM164.9 483.9l4.1 .8l-1.5 2.5zM169.5 485.2l3.6 -2.2l.5 2.8zM174.4 484.8l4 -1.2l-.2 2.9zM179 485.3l3.5 -2.2l.6 2.8zM183.9 484.8l3.9 -1.4l-.1 2.9zM188.8 484.8l3.9 -1.4l0 2.9zM193.9 484.7l4 -1.2l-.2 2.9zM198.9 484.1l4.2 .2l-1.1 2.7zM203.6 485.3l3.4 -2.4l.7 2.8zM208.1 483.8l4.1 .3l-1.2 2.6zM213.5 485.4l3.4 -2.5l.8 2.8zM218.5 484.4l4.1 -.4l-.7 2.8zM110.7 490.2l3.9 -1.4l0 2.9zM115.4 489.2l4.2 .2l-1.1 2.7zM120.7 489.8l4.1 -.7l-.5 2.9zM125.4 488.8l4 1l-1.6 2.4zM130 489.5l4.2 -.2l-.9 2.8zM134.9 489.7l4.1 -.7l-.6 2.8zM139.9 490.1l3.9 -1.3l-.1 2.9zM145.2 489.8l4.1 -.6l-.6 2.8zM149.5 489.7l4.1 -.6l-.6 2.8zM154.9 489.2l4.1 .5l-1.3 2.6zM159.7 489.4l4.2 .1l-1.1 2.7zM164.4 490l4 -1.2l-.2 2.9zM169.6 491.2l2.6 -3.2l1.5 2.5zM174.3 489.8l4.1 -.8l-.5 2.9zM179.5 490.7l3.2 -2.6l1 2.7zM184 490.6l3.5 -2.3l.7 2.8zM189 490.2l3.9 -1.5l0 2.9zM194 490.6l3.5 -2.3l.6 2.8zM198.7 489.7l4.1 -.4l-.7 2.8zM203.8 489.9l4.1 -.8l-.5 2.9zM208 490.6l3.5 -2.2l.6 2.8zM213.4 489.6l4.2 -.2l-.9 2.8zM218.3 490.1l3.9 -1.3l-.1 2.9zM115.2 495.1l4.1 -.8l-.4 2.9zM120.4 495.4l4 -1.2l-.1 2.9zM125.4 495.1l4.1 -.7l-.5 2.8zM130.2 494.7l4.2 -.1l-1 2.7zM135.4 494.7l4.2 .3l-1.2 2.6zM140.1 495.4l4 -1.2l-.2 2.9zM144.7 494.9l4.1 -.5l-.7 2.8zM149.9 494.8l4.2 -.1l-1 2.7zM154.7 495.5l3.9 -1.5l.1 2.9zM159.6 494.8l4.2 0l-1 2.7zM164.3 495.1l4.1 -.8l-.5 2.9zM169.1 494.7l4.2 -.1l-1 2.7zM174.3 495.7l3.7 -1.9l.4 2.9zM179 495.7l3.7 -1.8l.3 2.9zM184.2 495.4l4 -1.3l-.1 2.9zM188.8 495.9l3.5 -2.2l.6 2.8zM198.3 495l4.1 -.6l-.6 2.8zM203.4 495.5l3.9 -1.4l0 2.9zM208.3 496.5l2.8 -3l1.3 2.6zM115.3 500.9l3.9 -1.6l.1 2.9zM120 500.6l4 -1.2l-.2 2.9zM125.2 501.2l3.6 -2.2l.6 2.8zM130.1 500.3l4.1 -.5l-.7 2.8zM135.2 501.1l3.6 -2l.4 2.9zM140.3 500.7l4 -1.1l-.2 2.9zM145.1 500.9l3.8 -1.8l.2 2.9zM150.1 500l4.2 .2l-1.2 2.7zM155.1 500.2l4.2 .1l-1.1 2.7zM159.9 501l3.7 -1.9l.3 2.9zM164.1 500.6l4 -1.2l-.2 2.9zM168.9 501.1l3.7 -2l.4 2.9zM174.4 500.2l4.2 -.1l-.9 2.8zM179.4 501.6l3 -2.9l1.2 2.6zM184.2 501.7l2.8 -3.1l1.4 2.6zM188.8 501.5l3.2 -2.7l1 2.7zM307.4 500.6l2 -.1l-.4 1.3zM312.2 500.9l1.7 -.9l.2 1.3zM317.1 500.6l2.1 0l-.5 1.3zM322 500.7l1.8 -.4l-.2 1.3zM327 500.7l1.7 -.4l-.1 1.2zM331.8 501l1.5 -1.2l.4 1.2zM336.7 501l1.5 -1.2l.4 1.3zM341.6 501l1.3 -1.1l.4 1.1zM115.5 506.3l3.7 -1.8l.3 2.9zM120.4 506.8l3.3 -2.6l.9 2.8zM125.2 505.2l4.2 .1l-1.1 2.7zM130.4 505.9l4 -1l-.4 2.9zM135.1 505.6l4.1 -.5l-.7 2.8zM139.8 505.8l4.1 -.9l-.4 2.9zM144.8 506.3l3.8 -1.8l.2 2.9zM150.1 506.5l3.5 -2.2l.6 2.8zM154.2 506.6l3.5 -2.2l.6 2.8zM159.7 506l4 -1.3l-.1 2.9zM164.6 506.5l3.5 -2.3l.7 2.8zM169.7 506.5l3.4 -2.4l.7 2.8zM174.4 506.6l3.4 -2.5l.8 2.8zM178.9 506.8l3.3 -2.6l.9 2.8zM183.5 506.4l3.7 -1.9l.3 2.9zM189.2 506.7l3.1 -2.8l1.1 2.7zM292.7 506l1.9 -.3l-.3 1.3zM297.6 506l2 -.4l-.2 1.4zM302.5 506.4l1.5 -1.5l.6 1.3zM307.5 506l1.7 -.2l-.3 1.2zM312.2 505.9l2.1 -.1l-.5 1.4zM317.2 506l1.7 -.4l-.1 1.2zM322 505.9l2.1 -.2l-.4 1.4zM327 506l1.6 -.4l-.1 1.1zM331.8 506.1l1.7 -.7l0 1.3zM336.6 506.3l1.7 -1.1l.3 1.4zM341.6 506.3l1.4 -1.3l.5 1.2zM346.4 506l1.9 -.4l-.2 1.4zM120.1 510.9l4.1 -.7l-.6 2.8zM125.6 511.2l4 -1.1l-.3 2.9zM130.4 512l3.3 -2.5l.9 2.8zM135.4 511.9l3.3 -2.5l.8 2.8zM139.8 510.7l4.1 -.3l-.8 2.8zM144.5 511.6l3.8 -1.7l.2 2.9zM149.9 511.1l4.1 -.9l-.4 2.9zM154.8 510.7l4.2 0l-1 2.7zM159.5 512.3l3 -2.8l1.1 2.7zM164.6 511.2l4 -1.1l-.3 2.9zM169.2 511.6l3.8 -1.7l.2 2.9zM173.8 512.1l3.3 -2.5l.8 2.8zM178.7 511.6l3.8 -1.7l.2 2.9zM183.7 512l3.5 -2.3l.7 2.8zM188.9 512.1l3.3 -2.6l.9 2.8zM194 511.3l4 -1.2l-.2 2.9zM292.8 511.4l1.6 -.6l0 1.2zM297.6 511.2l1.9 -.1l-.4 1.3zM302.4 511.5l1.9 -1l.2 1.5zM307.5 511.4l1.5 -.5l-.1 1.1zM312.3 511.5l1.6 -1l.3 1.3zM317.2 511.3l1.7 -.3l-.2 1.2zM322.1 511.5l1.5 -1l.2 1.2zM327 511.3l1.7 -.1l-.3 1.2zM331.7 511.4l2 -.8l0 1.5zM336.6 511.6l1.7 -1.2l.4 1.4zM341.5 511.6l1.6 -1.1l.3 1.3zM120.4 516.7l3.9 -1.3l-.1 2.9zM125.4 516l4.2 0l-1 2.7zM130.1 516.3l4.1 -.6l-.6 2.8zM135.2 517.2l3.5 -2.3l.7 2.8zM140.4 516.5l4 -1l-.3 2.9zM144.5 516.5l4 -1.1l-.2 2.9zM149.5 516.5l4 -1.1l-.2 2.9zM155 516.6l4 -1.3l-.1 2.9zM159.4 517.3l3.4 -2.3l.7 2.8zM164.4 516.2l4.1 -.5l-.7 2.8zM169.7 517.3l3.1 -2.7l1 2.7zM174.6 517.4l3.1 -2.8l1.1 2.7zM178.8 517.4l3.4 -2.4l.8 2.8zM183.7 517.3l3.4 -2.4l.7 2.8zM188.8 517.1l3.6 -2.1l.5 2.9zM194 517.1l3.4 -2.3l.7 2.8zM198.4 517.8l2.9 -3l1.3 2.6zM208 516.6l4 -1.2l-.2 2.9zM212.8 516.5l4 -1.1l-.2 2.9zM292.7 516.6l2 -.4l-.3 1.4zM297.7 516.6l1.8 -.2l-.3 1.2zM302.5 516.6l1.8 -.4l-.2 1.3zM307.4 516.7l1.7 -.4l-.1 1.2zM312.2 516.6l2 -.2l-.3 1.3zM317.2 516.5l1.7 .1l-.5 1.1zM322 516.9l1.6 -1.2l.4 1.3zM326.9 516.6l1.8 -.3l-.3 1.3zM331.7 516.7l2 -.5l-.1 1.4zM336.7 516.9l1.4 -1.1l.4 1.2zM341.6 516.7l1.6 -.7l0 1.2zM120.6 522.6l3.4 -2.5l.8 2.8zM125.2 522.1l3.9 -1.5l.1 2.9zM130.1 522.2l3.8 -1.7l.2 2.9zM134.7 522.3l3.7 -1.9l.3 2.9zM140 522l3.9 -1.4l-.1 2.9zM145 522l3.9 -1.4l0 2.9zM149.8 522.5l3.5 -2.2l.6 2.8zM154.8 521.5l4.1 -.4l-.7 2.8zM159.8 523l2.7 -3.2l1.4 2.5zM164.1 521.5l4.1 -.5l-.6 2.8zM169.1 522.7l3.3 -2.5l.8 2.8zM174.4 523.1l2.6 -3.2l1.5 2.5zM179.5 522.6l3.3 -2.6l.9 2.8zM184.5 523.5l1.7 -3.8l2.1 2zM189.4 522.9l2.7 -3.2l1.4 2.5zM193.7 522.6l3.3 -2.5l.8 2.8zM198.7 522l3.9 -1.4l0 2.9zM203.5 521.9l4 -1.2l-.2 2.9zM208.1 522.7l3.3 -2.5l.8 2.8zM213.6 522.1l3.8 -1.6l.1 2.9zM292.8 522.2l1.4 -1.2l.4 1.2zM297.6 521.8l1.9 -.1l-.4 1.3zM302.5 522l1.9 -.5l-.1 1.4zM307.3 522.2l1.8 -1.1l.3 1.5zM312.3 521.8l1.9 .1l-.5 1.3zM317 521.9l2.1 -.5l-.2 1.5zM322.1 522.1l1.5 -.9l.2 1.2zM327 521.8l1.6 0l-.4 1.1zM331.7 522l1.8 -.7l0 1.4zM336.6 522.2l1.7 -1.2l.4 1.4zM341.5 522.2l1.7 -1.2l.4 1.4zM120.9 528l3.1 -2.8l1 2.7zM125.7 529l1.8 -3.8l2 2.1zM130.5 527.2l4 -1.2l-.2 2.9zM134.8 527.6l3.7 -1.9l.3 2.9zM140.1 527.5l3.8 -1.7l.2 2.9zM145.2 527.5l3.7 -1.9l.3 2.9zM149.6 527.4l3.9 -1.5l0 2.9zM155.1 528.1l3 -2.9l1.2 2.6zM159.6 528l3.3 -2.6l.9 2.8zM164.8 528.9l1.8 -3.7l2 2.1zM169.3 528.5l2.7 -3.2l1.4 2.5zM174.2 527.9l3.4 -2.4l.7 2.8zM179.3 528l3.1 -2.8l1.1 2.7zM183.7 527.8l3.5 -2.3l.6 2.8zM193.9 528.5l2.5 -3.3l1.5 2.5zM198.7 528l3.2 -2.7l1 2.7zM203.5 528l3.3 -2.6l.9 2.8zM208.9 528.1l2.8 -3l1.3 2.6zM213 527.1l4.1 -.9l-.4 2.9zM218.5 526.7l4.2 .1l-1.1 2.7zM223.3 527.3l4 -1.3l-.1 2.9zM292.8 527.4l1.7 -.7l0 1.3zM297.6 527.3l1.8 -.6l0 1.3zM302.6 527.3l1.6 -.6l0 1.2zM307.5 527.1l1.8 .3l-.6 1.1zM312.3 527.1l1.9 0l-.4 1.2zM317.1 527.2l2.1 -.4l-.2 1.4zM322.1 527.2l1.7 -.1l-.4 1.1zM327 527.3l1.6 -.5l0 1.2zM331.9 527.3l1.6 -.4l-.1 1.1zM336.8 527.4l1.5 -.7l.1 1.2zM341.6 527.3l1.7 -.6l0 1.2zM130.5 532.2l4.1 -.6l-.6 2.8zM134.7 532.8l3.8 -1.6l.1 2.9zM140 532.3l4.1 -.8l-.5 2.9zM144.7 531.6l4.1 .4l-1.3 2.6zM150.1 533.2l3.2 -2.7l1 2.7zM155 532l4.2 0l-1 2.7zM159.4 533.4l3.2 -2.6l.9 2.7zM164.7 533.1l3.5 -2.3l.7 2.8zM169.6 533.5l2.9 -3l1.3 2.6zM174.2 533.1l3.5 -2.3l.6 2.8zM179.2 532.9l3.7 -1.9l.4 2.9zM184 533.7l2.8 -3.1l1.4 2.6zM193.6 533.3l3.3 -2.5l.8 2.8zM198.8 533.3l3.2 -2.7l1 2.7zM203.7 532.9l3.6 -2.1l.5 2.9zM208.7 533l3.5 -2.2l.6 2.8zM213.5 532.6l4 -1.2l-.2 2.9zM217.8 532.7l3.8 -1.6l.1 2.9zM222.7 532.3l4.1 -.9l-.4 2.9zM292.8 532.7l1.7 -.7l.1 1.3zM297.5 532.7l1.9 -.8l0 1.5zM302.6 532.6l1.6 -.3l-.2 1.1zM307.3 532.6l1.9 -.6l-.1 1.4zM312.3 532.6l1.6 -.4l-.2 1.2zM317.3 532.7l1.5 -.6l.1 1.1zM322 532.4l2 .1l-.5 1.3zM326.9 532.7l1.7 -.9l.2 1.3zM331.7 532.9l1.6 -1.4l.6 1.4zM130.4 538l3.9 -1.5l0 2.9zM135 537.9l3.9 -1.4l0 2.9zM139.9 537.7l4.1 -.9l-.4 2.9zM145.3 538.5l3.3 -2.6l.9 2.8zM149.6 537.7l4 -1l-.3 2.9zM154.5 538l3.9 -1.6l.1 2.9zM159.8 538l3.9 -1.5l0 2.9zM164.9 538.6l3.1 -2.8l1.1 2.7zM169.6 538.8l2.9 -3l1.3 2.6zM173.8 538.2l3.7 -1.8l.3 2.9zM184 538l3.9 -1.5l.1 2.9zM189.2 538.9l2.7 -3.2l1.4 2.5zM193.7 538.2l3.7 -1.9l.3 2.9zM199.1 538.9l2.6 -3.3l1.5 2.5zM203.2 538.5l3.4 -2.4l.7 2.8zM208.2 538.4l3.5 -2.2l.6 2.8zM213.2 538.5l3.4 -2.4l.8 2.8zM218.2 537.6l4.1 -.8l-.5 2.9zM281.4 538.6l3.3 -2.6l.9 2.8zM287.9 537.9l1.8 -.5l-.1 1.3zM292.8 537.7l1.8 .2l-.6 1.1zM297.5 538l1.9 -.9l.1 1.4zM302.5 537.7l2 .2l-.6 1.3zM307.3 537.7l2.1 0l-.5 1.4zM312.3 537.9l1.8 -.3l-.2 1.2zM317.2 537.8l1.8 -.3l-.2 1.3zM322.1 537.9l1.7 -.4l-.2 1.2zM331.8 538l1.6 -.8l.2 1.3zM130.3 542.8l4.1 -.6l-.6 2.8zM135.8 542.3l4 1.1l-1.7 2.4zM139.7 543.1l4 -1.1l-.3 2.9zM145 542.9l4.1 -.7l-.5 2.8zM150 543.3l3.9 -1.5l.1 2.9zM154.4 544.1l3.2 -2.7l1 2.7zM159.4 543.8l3.4 -2.3l.7 2.8zM164 543.6l3.7 -1.9l.4 2.9zM169.4 543.1l4 -1.1l-.3 2.9zM184.3 543.9l3.1 -2.8l1.1 2.7zM189.3 544.1l2.8 -3.1l1.3 2.6zM193.9 544.3l2.7 -3.2l1.4 2.5zM199.2 544.7l1.8 -3.8l2 2.1zM203.3 543.5l3.8 -1.8l.2 2.9zM208 543.7l3.5 -2.2l.6 2.8zM213.1 544l3.3 -2.6l.9 2.8zM217.9 543.3l3.8 -1.6l.1 2.9zM257.4 543.5l3.7 -2l.4 2.9zM261.7 543.6l3.6 -2l.4 2.9zM276.6 544l3.2 -2.7l1 2.7zM281.6 543.7l3.5 -2.3l.7 2.8zM287.8 543.3l1.8 -.8l.1 1.3zM292.7 543.3l1.9 -.9l.1 1.4zM297.7 543.2l1.7 -.3l-.2 1.2zM145.5 547.5l4 1.2l-1.7 2.3zM149.3 548.8l3.7 -1.8l.3 2.9zM155 549.1l3.2 -2.6l.9 2.8zM159.5 548.3l4.1 -.9l-.4 2.9zM163.9 548.8l3.8 -1.8l.2 2.9zM169.6 548.4l4 -1l-.3 2.9zM174.7 549.3l3 -2.9l1.2 2.6zM188.9 550l2.4 -3.4l1.6 2.4zM193.8 549.1l3.3 -2.5l.8 2.8zM198.5 548.9l3.7 -2l.4 2.9zM203.5 549.6l2.8 -3.1l1.4 2.6zM208.3 548.5l4 -1.3l-.1 2.9zM213.2 549.2l3.4 -2.4l.8 2.8zM217.8 548.3l4 -1l-.3 2.9zM247.3 549.1l3.4 -2.4l.7 2.8zM252.6 548.6l3.9 -1.4l0 2.9zM257.6 548.1l4.2 -.3l-.8 2.8zM262.1 548.7l3.8 -1.7l.2 2.9zM266.7 548.6l3.9 -1.4l0 2.9zM276.9 548.9l3.6 -2.2l.5 2.8zM281.5 548.9l3.6 -2l.5 2.9zM286.3 547.7l4.2 .2l-1.1 2.7zM291.6 548.8l3.7 -1.9l.4 2.9zM295.9 548.2l4.1 -.7l-.5 2.9zM145.4 553.2l4.2 .2l-1.2 2.7zM149.9 553.7l4 -1.2l-.2 2.9zM154.7 554.9l2.8 -3.1l1.3 2.6zM159.9 554.8l2.8 -3.1l1.4 2.6zM164.6 554.1l3.7 -1.9l.3 2.9zM169.4 554.5l3.3 -2.5l.8 2.8zM174.4 553.7l4 -1l-.3 2.9zM179.7 555.2l1.8 -3.7l2 2.1zM184.3 554.4l3.4 -2.4l.8 2.8zM189 554.8l2.9 -3l1.2 2.6zM193.5 554.3l3.6 -2.2l.5 2.8zM203.9 554.7l2.9 -3l1.3 2.6zM208.5 555l2.7 -3.2l1.4 2.5zM247.8 554.5l3.2 -2.7l1 2.7zM252.4 554.6l3.2 -2.7l1 2.7zM257 554.2l3.6 -2l.4 2.9zM262 553.8l3.9 -1.3l-.1 2.9zM266.9 554.8l3 -2.9l1.2 2.7zM271.9 555.4l2.2 -3.5l1.8 2.3zM276.5 554.4l3.5 -2.3l.6 2.8zM281.8 552.6l4 1.1l-1.7 2.3zM286.5 553.8l4 -1.3l-.1 2.9zM145 558.4l4.2 .1l-1.1 2.7zM149.7 559.3l3.9 -1.6l.1 2.9zM154.7 559.4l3.7 -1.9l.3 2.9zM159.9 559.9l3.1 -2.8l1.1 2.7zM164.1 559.6l3.6 -2.1l.5 2.9zM168.9 559.5l3.7 -2l.4 2.9zM174.4 559.8l3.2 -2.7l1 2.7zM178.8 559.8l3.4 -2.4l.7 2.8zM184.7 560.4l1.9 -3.7l1.9 2.2zM242.9 560.1l2.7 -3.2l1.4 2.5zM247.3 559.3l3.8 -1.6l.1 2.9zM252.4 558.9l4.1 -.9l-.4 2.9zM257.1 560.3l2.8 -3.1l1.3 2.6zM262 559.9l3.2 -2.6l.9 2.7zM266.6 558.8l4.1 -.8l-.4 2.9zM272 559.7l3.4 -2.4l.7 2.8zM276.2 558.9l4.1 -.9l-.4 2.9zM281.5 559.6l3.5 -2.2l.6 2.8zM144.9 565.9l2.4 -3.4l1.6 2.4zM150.4 566l1.6 -3.9l2.1 2zM154.7 565.6l2.7 -3.2l1.4 2.5zM160.5 566.5l.6 -4.1l2.6 1.4zM165.3 566.1l1.1 -4l2.4 1.7zM169.9 565.5l2.5 -3.3l1.6 2.4zM174.2 565.1l3.3 -2.5l.8 2.8zM180 565.9l1.3 -3.9l2.3 1.8zM183.7 565.5l3 -2.9l1.1 2.7zM242 564.7l3.8 -1.7l.2 2.9zM247.4 564l4.1 -.4l-.7 2.8zM252.2 564.1l4.1 -.8l-.5 2.9zM257 564.4l4 -1.2l-.2 2.9zM261.7 565.4l3.2 -2.7l1 2.7zM267.3 564.7l3.8 -1.8l.3 2.9zM271.7 564.5l3.9 -1.5l0 2.9zM276.2 564.1l4.1 -.8l-.5 2.9zM140.6 571.3l1.6 -3.8l2.1 2zM145.4 571.2l2 -3.7l1.9 2.2zM150.4 570.8l2.5 -3.3l1.6 2.4zM154.9 571.5l1.9 -3.7l1.9 2.2zM160.1 570.7l2.6 -3.2l1.5 2.5zM164.8 570.6l3 -2.9l1.2 2.6zM170.2 571.9l.5 -4.1l2.6 1.3zM174.6 571l2.2 -3.5l1.7 2.3zM179.9 571l1.7 -3.8l2.1 2zM183.9 571l2.7 -3.2l1.4 2.5zM189 570.3l3.4 -2.4l.7 2.8zM237.4 570.2l3.6 -2.1l.5 2.9zM242.2 569.4l4.1 -.8l-.5 2.9zM247.6 569.8l3.9 -1.3l-.1 2.9zM252.2 569.3l4.1 -.5l-.7 2.8zM257.9 569.4l3.7 -.1l-.8 2.4zM263 569.7l2.9 -.6l-.3 2zM267.4 569.8l3.8 -1.2l-.1 2.8zM272.4 570.2l3.3 -2.2l.6 2.7zM277.4 569.6l3.5 -.7l-.4 2.4zM282.5 569.9l2.8 -1.2l.1 2.2zM287.3 570l2.7 -1.7l.4 2.1zM292.3 570l2.6 -1.5l.4 2.1zM296.9 570.1l3.1 -1.9l.5 2.5zM144.9 576.5l2.4 -3.4l1.6 2.4zM150.4 576.3l2.1 -3.6l1.8 2.2zM155.1 576.8l1.6 -3.8l2.1 2zM160.1 576.9l1.4 -3.9l2.2 1.9zM165 576.1l2.4 -3.4l1.6 2.4zM169 575.9l3.3 -2.5l.9 2.8zM174.5 576.6l2 -3.6l1.9 2.2zM180.1 576.9l.6 -4.1l2.5 1.4zM183.8 576.2l2.8 -3.1l1.3 2.6zM189 575.6l3.5 -2.3l.7 2.8zM242.7 575.2l3.8 -1.6l.1 2.9zM252 574.9l4 -1.1l-.3 2.9zM257.8 575.4l3.1 -2l.5 2.5zM262.6 574.9l3.9 -.7l-.5 2.8zM267.6 574.8l3.7 -.3l-.7 2.5zM272.3 575.1l3.8 -1.4l0 2.8zM277.5 574.9l3.2 -.6l-.4 2.2zM282.3 574.9l3.4 -.7l-.3 2.4zM287.3 575.2l3 -1.3l.1 2.3zM291.9 575.4l3.3 -2.1l.6 2.6zM296.9 575.5l3 -2.1l.6 2.5zM302 575.4l2.5 -1.7l.5 2.1zM306.7 575.7l2.5 -2.6l1.1 2.3zM145.2 581.3l2.9 -3l1.2 2.6zM150.3 581.9l1.8 -3.7l2 2.1zM155.2 581.3l2.7 -3.2l1.4 2.5zM160.4 581.7l1.6 -3.9l2.1 2zM164.3 581.3l3.1 -2.7l1 2.7zM169.2 581.5l2.9 -3l1.2 2.6zM174.7 581.2l2.9 -3l1.3 2.6zM179.9 581.9l1.5 -3.9l2.2 1.9zM184.5 581.6l2.2 -3.5l1.8 2.3zM189.2 581.2l3 -2.9l1.2 2.7zM193.8 581l3.4 -2.5l.8 2.8zM218.1 581.5l2.8 -3.1l1.3 2.6zM223.3 580.8l3.5 -2.3l.7 2.8zM228.2 580.8l3.6 -2.1l.5 2.9zM232.5 580.5l3.9 -1.5l0 2.9zM237.3 580.5l3.9 -1.5l0 2.9zM242.1 580.4l3.9 -1.4l0 2.9zM248 579.5l4.1 .9l-1.6 2.4zM252 580.7l3.7 -1.9l.4 2.9zM257.9 580.2l3.4 -.5l-.5 2.4zM262.6 580.1l4 -.5l-.7 2.7zM267.8 580.4l3 -1.1l0 2.3zM272.5 580.6l3.2 -1.8l.4 2.5zM277.2 580.7l3.4 -2l.5 2.7zM282.5 580.1l3.1 -.1l-.7 2zM286.9 580.6l3.7 -1.7l.2 2.8zM292.2 580.7l2.6 -1.7l.5 2.1zM297 580.6l3 -1.5l.3 2.3zM301.8 580.5l3.2 -1.4l.1 2.5zM306.9 580.9l2.4 -2.1l.8 2.1zM311.9 581.4l1.5 -3.2l1.7 1.8zM150.6 587l1.6 -3.8l2.1 2zM155.2 587.4l1.6 -3.9l2.1 2zM160.3 587.1l1.6 -3.8l2.1 2zM164.4 586.9l2.7 -3.2l1.4 2.5zM169.6 586.9l2.4 -3.4l1.6 2.4zM174.9 587.2l1.5 -3.9l2.2 1.9zM178.9 586.6l3.2 -2.7l1 2.7zM184.3 586.2l3.4 -2.5l.8 2.8zM188.4 586.3l3.5 -2.3l.6 2.8zM193.4 586.1l3.7 -2l.4 2.9zM198.6 585.6l4 -1.1l-.3 2.9zM203.2 586.3l3.5 -2.3l.7 2.8zM208.5 586.2l3.5 -2.2l.6 2.8zM213.5 586.2l3.4 -2.4l.7 2.8zM217.9 585.6l4 -1.1l-.2 2.9zM222.9 585.9l3.8 -1.7l.2 2.9zM227.9 586.1l3.6 -2l.5 2.9zM232.4 586l3.7 -1.9l.3 2.9zM237.2 585.4l4.1 -.9l-.4 2.9zM242.5 585.8l3.8 -1.6l.1 2.9zM247.9 585.1l4.2 .3l-1.2 2.7zM252.3 585.2l4.1 -.4l-.8 2.8zM258.2 585.5l2.9 -.3l-.5 2zM262.7 585.7l3.5 -1l-.2 2.5zM267.4 585.6l3.9 -.9l-.3 2.8zM272.4 585.7l3.6 -1.1l-.2 2.6zM277.4 585.5l3.5 -.6l-.5 2.4zM282.1 586.2l3.2 -2.4l.8 2.7zM287.4 585.4l3.1 -.2l-.6 2.1zM292.1 585.7l3.1 -1.1l0 2.3zM296.8 586l3.3 -1.9l.5 2.6zM301.8 586.5l2.5 -3.1l1.4 2.4zM306.8 586.6l2.3 -3.2l1.5 2.3zM311.4 585.9l3.6 -1.7l.2 2.8zM150.4 591.9l2.6 -3.3l1.5 2.5zM154.6 592.4l2.5 -3.3l1.6 2.4zM159.6 592.6l2.2 -3.5l1.8 2.3zM165.2 592.6l1.3 -3.9l2.2 1.8zM169.9 592.3l2 -3.6l1.9 2.2zM174.3 592.4l2.3 -3.5l1.7 2.4zM179.2 592.2l2.6 -3.3l1.5 2.5zM184.2 591.7l3.1 -2.8l1 2.7zM189 591.1l3.9 -1.5l0 2.9zM194.2 591.9l2.8 -3.1l1.4 2.6zM198.6 591.2l3.8 -1.8l.2 2.9zM203.1 591.3l3.8 -1.8l.2 2.9zM208.4 590.8l4.1 -.9l-.4 2.9zM213.3 590.9l4 -1l-.3 2.9zM218 592.1l2.9 -3l1.2 2.6zM222.7 591l4 -1.3l-.1 2.9zM228.2 592.2l2.4 -3.4l1.7 2.4zM233.1 590.5l4.2 -.2l-.9 2.8zM237.3 591.1l3.9 -1.5l.1 2.9zM242.6 590.8l4 -1l-.4 2.9zM247.7 590.4l4.2 .1l-1.1 2.7zM251.8 591l4 -1.3l-.1 2.9zM257.8 591.2l3.2 -1.7l.3 2.5zM263 590.5l3.3 .3l-1 2.1zM267.8 590.8l3.2 -.6l-.4 2.2zM272.4 591.1l3.5 -1.4l.1 2.7zM277.3 590.6l3.9 -.3l-.8 2.6zM282.3 591l3.2 -1l-.1 2.3zM287.3 591.4l2.7 -2.1l.7 2.3zM291.9 591.3l3.3 -1.8l.4 2.6zM297.1 591.3l2.6 -1.7l.5 2.1zM301.8 591.2l3 -1.6l.3 2.4zM306.9 591.3l2.7 -1.6l.4 2.1zM154.9 597.6l2.3 -3.4l1.7 2.4zM159.5 597.7l2.4 -3.4l1.6 2.4zM164.9 597.8l1.9 -3.7l2 2.1zM169.5 597.1l3 -2.8l1.1 2.7zM174.2 597.6l2.6 -3.3l1.5 2.5zM179 597.6l2.7 -3.2l1.4 2.5zM183.9 597.6l2.6 -3.2l1.5 2.5zM188.7 596.7l3.7 -2l.4 2.9zM194.1 597.1l3 -2.9l1.2 2.7zM198.3 596.9l3.5 -2.3l.6 2.8zM203.5 596.9l3.4 -2.3l.7 2.8zM208.5 597l3.2 -2.6l.9 2.7zM213.1 596.3l3.9 -1.4l0 2.9zM218.4 596.4l3.9 -1.6l.1 2.9zM222.8 596.4l3.9 -1.5l.1 2.9zM227.5 596.9l3.5 -2.3l.6 2.8zM233.1 596l4.1 -.5l-.7 2.8zM237.2 596.3l3.9 -1.4l0 2.9zM242.1 596.4l3.9 -1.6l.1 2.9zM247.3 596l4.1 -.8l-.5 2.9zM252.2 596l4.1 -.8l-.5 2.9zM262.6 596.2l3.8 -1l-.3 2.7zM267.9 596.2l2.9 -.7l-.3 2zM272.6 596.1l3.4 -.6l-.4 2.3zM277.2 596.6l3.5 -2l.4 2.8zM282.4 596.2l3.2 -.7l-.3 2.2zM287.3 596.8l2.6 -2.3l.9 2.2zM292.2 596.5l2.7 -1.5l.3 2.1zM297 596.4l3.2 -1.1l0 2.4zM301.9 596.2l3.3 -.6l-.4 2.3zM306.7 597l2.5 -2.6l1.1 2.3zM311.7 596.3l3.1 -1l-.1 2.3zM145.5 603.2l1.7 -3.8l2.1 2zM149.5 602.3l3.4 -2.4l.8 2.8zM155.4 603.3l1.4 -3.9l2.2 1.8zM159.7 602.7l2.7 -3.2l1.4 2.5zM164.5 602.5l3 -2.9l1.2 2.7zM169.4 601.8l3.8 -1.8l.2 2.9zM174.7 602.3l3.1 -2.8l1.1 2.7zM178.8 602l3.6 -2l.5 2.9zM184.3 602.1l3.4 -2.4l.8 2.8zM189.2 602.8l2.4 -3.4l1.6 2.4zM194 601.9l3.7 -2l.4 2.9zM198.7 602l3.7 -2l.4 2.9zM203.2 601.9l3.7 -1.9l.3 2.9zM208.1 602.1l3.6 -2.1l.5 2.9zM213.3 602.1l3.5 -2.2l.6 2.8zM218.1 601.7l3.9 -1.5l0 2.9zM223 601.5l4 -1l-.3 2.9zM228 600.8l4.1 .4l-1.3 2.6zM233 601.7l3.9 -1.6l.1 2.9zM237.5 600.9l4.2 0l-1 2.7zM242.5 600.7l4.1 .4l-1.2 2.6zM247.6 601.4l4.1 -.9l-.4 2.9zM252.4 601.9l3.7 -1.9l.3 2.9zM258 601.1l3.4 .3l-1 2.1zM262.8 601.5l3.5 -.6l-.4 2.4zM267.7 601.2l3.6 .1l-.9 2.4zM272.5 601.4l3.6 -.5l-.6 2.5zM277.3 601.1l4.1 .2l-1.1 2.6zM282.3 601.5l3.4 -.7l-.4 2.4zM287.3 601.9l2.8 -1.6l.4 2.2zM291.8 601.7l3.8 -1.4l0 2.8zM296.9 601.6l3.4 -1l-.2 2.4zM302 601.1l3.3 .5l-1.1 2zM306.7 601.7l3.2 -1.2l0 2.4zM144.7 607.5l3.5 -2.2l.6 2.8zM150.1 607.7l3 -2.9l1.2 2.7zM155.2 608l2.5 -3.3l1.6 2.4zM159.5 608.2l2.6 -3.2l1.5 2.5zM165.1 608.4l1.8 -3.8l2 2.1zM169.4 608.1l2.7 -3.2l1.4 2.5zM174.2 607.2l3.8 -1.8l.3 2.9zM189.2 607.7l3 -2.9l1.2 2.7zM193.3 607.5l3.6 -2.2l.5 2.8zM198.1 607.4l3.6 -2.1l.5 2.9zM203.2 607.6l3.4 -2.4l.7 2.8zM208.4 607.7l3.2 -2.6l.9 2.7zM213.4 607.2l3.7 -1.9l.4 2.9zM218 607.1l3.8 -1.6l.1 2.9zM223 606.6l4.1 -.6l-.6 2.8zM227.5 606.5l4.1 -.6l-.6 2.8zM232.8 607.3l3.6 -2l.4 2.9zM237.9 606.4l4.2 -.2l-.9 2.8zM242.3 606.6l4.1 -.7l-.5 2.8zM247.8 605.6l3.9 1.5l-1.9 2.2zM267.4 606.7l4 -.7l-.5 2.8zM272.6 606.6l3.5 -.1l-.8 2.3zM277.4 606.3l3.7 .5l-1.2 2.3zM282.5 606.7l3 -.3l-.5 2.1zM287 606.4l4.1 .1l-1 2.6zM292.2 607.2l2.7 -1.5l.3 2.1zM147.1 611.8l0 1.8l-1.2 -.4zM152 611.7l0 1.9l-1.2 -.4zM157.1 611.7l-.5 2.1l-1.3 -.8zM161.9 611.7l-.1 2l-1.3 -.6zM166.6 611.8l.3 1.7l-1.2 -.2zM171.4 611.7l.6 1.7l-1.3 0zM176.5 611.7l-.3 2l-1.2 -.7zM181.4 611.8l-.3 1.7l-1 -.6zM186.3 611.8l-.4 1.9l-1.2 -.7zM191.1 611.7l0 1.9l-1.2 -.5zM195.9 611.6l.4 2.1l-1.5 -.2zM200.7 611.6l.7 2l-1.5 -.1zM205.5 611.6l.8 1.8l-1.4 .1zM210.4 611.8l.5 1.6l-1.2 0zM215.5 611.6l0 2.1l-1.4 -.5zM220.1 611.8l.7 1.5l-1.1 .1zM225 611.8l.5 1.7l-1.2 -.1zM229.8 611.8l.8 1.5l-1.2 .2zM264.3 611.7l0 1.9l-1.3 -.5zM268.9 611.6l.8 2l-1.5 0zM147.3 617.1l-.4 1.9l-1.2 -.7zM152.1 617.1l-.3 1.8l-1.1 -.6zM156.8 617.1l.1 1.6l-1.1 -.3zM161.9 617.1l-.4 1.9l-1.1 -.7zM166.6 617l.3 1.9l-1.3 -.3zM171.4 617l.5 1.9l-1.4 -.2zM176.3 617l.6 1.9l-1.4 -.1zM181.2 617l.4 2l-1.4 -.2zM185.8 617l1.2 1.7l-1.4 .4zM191 617l.2 2l-1.4 -.3zM195.6 617.1l1.1 1.5l-1.2 .3zM205.3 616.9l1.2 1.8l-1.5 .3zM210.3 617l.9 1.6l-1.3 .2zM142.4 622.4l-.5 1.9l-1.1 -.8zM147.3 622.4l-.4 1.9l-1.2 -.7zM152 622.5l0 1.6l-1.1 -.4zM156.8 622.4l.2 1.7l-1.2 -.3zM162 622.4l-.5 1.9l-1.1 -.8zM166.8 622.5l-.6 1.6l-.9 -.8zM171.5 622.3l.2 2l-1.4 -.4zM176.1 622.4l.9 1.5l-1.2 .2zM181.2 622.4l.4 1.7l-1.2 -.2zM186.2 622.5l-.3 1.7l-1 -.6zM191 622.4l0 1.8l-1.2 -.4zM195.9 622.3l.2 2l-1.3 -.3zM147.4 627.7l-.6 2l-1.2 -.9zM152.1 627.7l-.3 1.8l-1.1 -.7zM157.1 627.7l-.7 2l-1.1 -.9zM161.9 627.7l-.2 1.9l-1.2 -.6zM166.7 627.8l-.2 1.6l-1 -.5zM171.3 627.5l.8 1.9l-1.4 0zM176.6 627.9l-.7 1.5l-.8 -.8zM181 627.6l.9 1.6l-1.3 .2zM186 627.7l.5 1.6l-1.2 0zM190.9 627.7l.4 1.7l-1.2 -.2zM195.7 627.6l.7 1.8l-1.3 0zM200.6 627.7l.5 1.6l-1.1 -.1zM147.2 632.9l.1 2.1l-1.4 -.5zM152 633.1l-.1 1.7l-1.1 -.5zM156.7 632.9l.8 1.8l-1.3 .1zM161.8 632.9l0 2.1l-1.4 -.5zM167 633.2l-1.1 1.6l-.8 -1.1zM171.3 632.8l.7 2l-1.5 0zM176.5 633l-.4 1.9l-1.2 -.7zM181.1 633l.6 1.7l-1.3 0zM186.3 633.1l-.4 1.6l-.9 -.7zM190.7 633l1 1.5l-1.2 .3zM195.9 632.9l.3 2l-1.4 -.3zM147.2 638.2l-.2 2.1l-1.3 -.6zM151.7 638.2l1.2 1.8l-1.5 .3zM157 638.2l-.1 2.1l-1.3 -.6zM161.7 638.2l.4 2l-1.4 -.2zM166.7 638.2l-.1 2l-1.3 -.5zM171.6 638.2l-.1 2.1l-1.4 -.6zM176.3 638.3l.3 1.9l-1.3 -.2zM181.4 638.3l-.2 1.9l-1.2 -.6zM186.1 638.2l.3 2l-1.4 -.3zM190.9 638.4l.4 1.6l-1.1 -.1zM195.9 638.2l.2 1.9l-1.3 -.3zM142.2 643.5l.3 2l-1.4 -.3zM147.2 643.6l-.1 1.9l-1.3 -.5zM152 643.5l.1 2l-1.4 -.4zM156.8 643.6l.2 1.8l-1.2 -.3zM161.8 643.6l0 2l-1.3 -.5zM166.7 643.6l0 1.9l-1.2 -.5zM171.3 643.7l.6 1.5l-1.1 0zM176.4 643.7l.1 1.7l-1.1 -.4zM181 643.6l.8 1.6l-1.2 .1zM185.9 643.5l.9 1.7l-1.3 .1zM191 643.5l.2 1.9l-1.3 -.3zM195.7 643.6l.7 1.6l-1.2 .1zM132.4 648.9l.1 1.8l-1.2 -.3zM137.1 648.9l.9 1.7l-1.3 .2zM142.4 649l-.3 1.8l-1.1 -.7zM147.3 648.9l-.3 2.1l-1.3 -.7zM152.1 649l-.3 1.8l-1.1 -.6zM157 648.9l-.3 2.1l-1.3 -.7zM161.7 648.9l.2 1.8l-1.2 -.3zM166.8 648.8l-.2 2.1l-1.4 -.6zM171.6 648.9l0 2l-1.3 -.5zM176.4 648.9l.2 1.8l-1.2 -.3zM181.4 649l-.5 1.8l-1.1 -.7zM185.9 649l.7 1.5l-1.1 .1zM190.8 648.9l.7 1.8l-1.3 0zM195.9 649l.2 1.6l-1.1 -.3zM200.7 648.9l.3 1.8l-1.3 -.3zM205.6 648.9l.3 1.9l-1.3 -.2zM132.4 654.2l.3 1.9l-1.3 -.3zM137.5 654.3l-.5 1.7l-1 -.8zM142.2 654.1l.3 2.1l-1.4 -.3zM147.2 654.3l-.3 1.7l-1.1 -.6zM152.1 654.3l-.2 1.8l-1.1 -.6zM157 654.3l-.4 1.7l-1 -.7zM161.9 654.2l-.3 2l-1.2 -.7zM166.8 654.2l-.3 2.1l-1.3 -.7zM171.7 654.3l-.5 1.8l-1.1 -.7zM176.5 654.1l-.1 2.1l-1.4 -.6zM181.5 654.4l-.8 1.6l-.9 -.9zM186.2 654.4l-.2 1.6l-1 -.5zM191 654.3l.1 1.7l-1.1 -.3zM195.7 654.3l.7 1.5l-1.1 .1zM200.7 654.1l.4 2l-1.4 -.2zM205.5 654.2l.6 1.9l-1.3 -.1zM127.6 659.5l0 1.9l-1.2 -.4zM132.6 659.7l-.6 1.7l-1 -.8zM137.3 659.5l.4 1.9l-1.3 -.2zM142.3 659.6l-.1 1.8l-1.1 -.5zM147.1 659.5l.3 1.8l-1.2 -.2zM152.2 659.5l-.3 2.1l-1.3 -.7zM156.8 659.5l.4 1.8l-1.3 -.2zM161.8 659.5l-.1 2l-1.3 -.5zM166.8 659.7l-.5 1.6l-.9 -.7zM171.6 659.5l-.3 1.9l-1.2 -.6zM176.5 659.5l-.2 1.9l-1.2 -.6zM181.3 659.5l-.1 1.9l-1.2 -.5zM186.1 659.6l.1 1.7l-1.1 -.4zM190.8 659.5l.8 1.7l-1.3 .1zM195.8 659.4l.5 2.1l-1.5 -.2zM200.5 659.5l1.1 1.6l-1.3 .3zM205.6 659.6l.2 1.8l-1.2 -.3zM132.5 664.8l.2 1.9l-1.3 -.3zM137.4 664.8l.1 1.9l-1.2 -.4zM142.2 664.8l.2 1.8l-1.3 -.3zM147.1 664.9l0 1.7l-1.1 -.4zM152 664.8l0 1.9l-1.3 -.5zM156.8 664.9l.2 1.7l-1.2 -.3zM162 664.9l-.7 1.8l-1 -.9zM166.8 664.8l-.2 2.1l-1.3 -.7zM171.7 664.8l-.3 2.1l-1.3 -.7zM176.6 664.8l-.4 2.1l-1.2 -.8zM181.2 664.8l.4 1.9l-1.3 -.2zM185.9 664.8l.8 1.8l-1.4 .1zM191.1 664.9l0 1.8l-1.2 -.5zM195.8 664.9l.5 1.5l-1.1 0zM200.7 664.9l.3 1.6l-1.1 -.2zM205.4 664.7l1 1.8l-1.4 .2zM127.4 670.2l.6 1.6l-1.2 0zM132.6 670.2l-.3 2l-1.2 -.7zM137.4 670.2l-.2 1.8l-1.1 -.5zM142.4 670.2l-.5 1.8l-1.1 -.7zM147.2 670.3l-.3 1.6l-1 -.6zM152 670.2l.1 1.8l-1.2 -.4zM157 670.2l-.4 1.8l-1.1 -.7zM161.7 670.2l.2 1.7l-1.2 -.3zM166.6 670.1l.4 1.9l-1.3 -.2zM171.7 670.3l-.8 1.6l-.8 -.9zM176.5 670.2l-.3 1.8l-1.1 -.7zM181.3 670.1l.1 2l-1.4 -.4zM186.1 670l.4 2l-1.4 -.2zM191.3 670.1l-.6 2l-1.2 -.9zM196 670.1l0 2l-1.3 -.5zM200.7 670.2l.3 1.7l-1.2 -.2zM205.4 670.2l.8 1.4l-1.1 .2zM210.3 670.2l1 1.5l-1.2 .3zM127.4 675.5l.6 1.5l-1.1 0zM132.5 675.3l.1 2.1l-1.4 -.4zM137.5 675.6l-.6 1.7l-.9 -.8zM142.2 675.5l.2 1.7l-1.2 -.3zM147.2 675.6l-.4 1.6l-.9 -.6zM152 675.5l.2 1.8l-1.2 -.3zM157 675.4l-.2 2.1l-1.3 -.6zM161.8 675.5l-.1 1.9l-1.2 -.5zM166.7 675.5l-.3 1.9l-1.2 -.6zM171.7 675.4l-.4 2.1l-1.3 -.8zM176.4 675.5l.1 1.6l-1.1 -.3zM181.2 675.5l.2 1.8l-1.2 -.3zM186.1 675.3l.5 2l-1.4 -.2zM191.2 675.5l-.4 1.9l-1.2 -.7zM195.8 675.4l.5 1.9l-1.4 -.1zM200.8 675.3l.3 2.1l-1.5 -.3zM205.3 675.5l1.1 1.4l-1.2 .4zM127.6 680.8l-.1 1.9l-1.2 -.5zM132.4 680.6l.6 2l-1.4 -.1zM137.4 680.8l0 1.7l-1.1 -.4zM142.3 680.9l-.2 1.6l-1 -.5zM147.2 680.8l-.1 1.9l-1.2 -.5zM152 680.7l.1 2l-1.3 -.4zM157 680.9l-.5 1.7l-1 -.8zM161.9 680.8l-.3 1.8l-1.1 -.6zM166.7 680.8l-.1 1.8l-1.1 -.5zM171.5 680.7l.1 2l-1.3 -.4zM176.3 680.8l.4 1.7l-1.2 -.1zM181 680.7l1 1.8l-1.4 .2zM186.3 680.7l-.3 2.1l-1.3 -.7zM190.9 680.8l.5 1.7l-1.2 -.1zM195.8 680.7l.6 1.8l-1.3 0zM200.8 680.7l.1 2.1l-1.4 -.4zM205.7 680.8l.1 1.8l-1.2 -.4zM210.3 680.7l.8 1.7l-1.3 .1zM127.4 686l.7 1.8l-1.3 .1zM132.6 686l-.2 2l-1.3 -.6zM137.5 686.1l-.4 1.8l-1.1 -.7zM142.4 686.1l-.5 1.8l-1.1 -.8zM147.3 686.1l-.4 2l-1.2 -.8zM152 686.2l-.1 1.7l-1.1 -.5zM157.1 686.2l-.6 1.7l-.9 -.8zM161.9 686.2l-.6 1.6l-.9 -.8zM166.6 686.1l.1 1.7l-1.1 -.4zM171.3 686l.8 1.8l-1.4 .1zM176.2 686l.7 1.9l-1.4 0zM181.3 686.2l-.2 1.7l-1.1 -.5zM186.1 686.2l.1 1.6l-1.1 -.3zM190.9 686l.6 1.8l-1.3 -.1zM195.7 686l.8 1.8l-1.4 .1zM200.8 686l.2 1.9l-1.3 -.4zM205.5 686.1l.7 1.7l-1.2 0zM132.5 691.3l-.1 2l-1.3 -.5zM137 691.3l1.3 1.8l-1.4 .4zM142.3 691.5l-.1 1.6l-1 -.5zM147.2 691.4l-.2 1.9l-1.2 -.6zM152.1 691.4l-.3 2l-1.3 -.7zM157 691.4l-.2 2l-1.2 -.6zM161.8 691.5l-.3 1.7l-1 -.6zM166.7 691.4l-.2 2l-1.2 -.6zM171.5 691.3l.2 2.1l-1.4 -.4zM176.4 691.4l0 1.8l-1.1 -.4zM181.3 691.3l.2 2.1l-1.4 -.3zM186.2 691.4l-.1 1.8l-1.2 -.5zM191 691.4l.2 1.7l-1.2 -.3zM195.6 691.3l1 1.8l-1.5 .2zM200.6 691.4l.5 1.6l-1.2 -.1zM132.5 696.6l.2 2.1l-1.4 -.4zM137.4 696.7l.1 1.9l-1.3 -.4zM142.1 696.6l.5 2l-1.4 -.2zM147.3 696.7l-.4 2l-1.2 -.7zM152 696.7l.2 1.9l-1.3 -.3zM156.9 696.7l-.1 1.8l-1.2 -.5zM161.9 696.7l-.3 2l-1.2 -.7zM166.7 696.7l0 1.9l-1.2 -.5zM171.5 696.6l.3 2l-1.4 -.3zM176.5 696.8l-.3 1.6l-1 -.6zM181.2 696.7l.1 1.7l-1.2 -.3zM186.2 696.8l-.1 1.7l-1.1 -.5zM191 696.7l.1 1.8l-1.2 -.4zM196 696.7l0 1.9l-1.3 -.5zM200.7 696.8l.4 1.6l-1.1 -.1zM205.4 696.7l1 1.5l-1.2 .3zM132.5 701.9l.2 2l-1.4 -.3zM137.4 702l-.1 1.9l-1.2 -.5zM142.1 702l.5 1.6l-1.2 -.1zM147.2 702.2l-.5 1.6l-.9 -.7zM152 702l0 1.9l-1.3 -.5zM156.7 702l.5 1.8l-1.3 -.1zM161.8 702.1l-.2 1.8l-1.2 -.6zM166.8 702.1l-.4 1.8l-1.1 -.7zM171.6 701.9l-.1 2.1l-1.3 -.5zM176.6 702l-.5 2.1l-1.2 -.8zM181.2 702l.5 1.9l-1.3 -.1zM186.1 702l.3 1.8l-1.3 -.3zM190.9 701.9l.7 1.9l-1.4 0zM142.2 707.3l.2 1.9l-1.3 -.3zM147.2 707.3l-.1 1.9l-1.2 -.5zM151.9 707.2l.4 2.1l-1.5 -.3zM157.1 707.4l-.7 1.9l-1 -.9zM161.9 707.4l-.4 1.9l-1.1 -.7zM166.9 707.4l-.6 1.8l-1 -.9zM171.5 707.3l.2 1.8l-1.2 -.3zM176.4 707.3l0 1.9l-1.3 -.4zM181.3 707.4l0 1.6l-1.1 -.4zM186.1 707.3l.3 1.8l-1.2 -.2z" fill="#141414"/><path d="M123.8 453.9l.7 .5M128.3 459.4l.7 .9M138.4 459l.9 .6M143.1 459.4l.6 .6M128.5 464.7l.7 .7M133.7 464.1l.9 .3M109.2 469.9l.5 .4M113.8 470.1l.5 .6M133.5 469.7l.9 .6M138.2 470l.6 .7M143.1 469.9l.7 .7M158.1 469.1l1 .1M172.8 469.8l.5 .3M182.7 468.6l.5 -.1M187.6 469.3l.6 .1M114.1 475l.7 .4M119 475.1l.6 .3M123.6 475.2l.8 .7M129 474.7l.7 .2M138.6 474.7l.8 .3M148.3 474.6l1 .3M163 474.4l1 .1M187.5 473.9l.8 -.2M114.2 480l1 .3M124.1 480.1l.5 .2M138.7 479.9l.7 .1M143.6 480.2l.6 .3M167.9 479.9l.9 .2M177.9 479.4l.6 -.1M182.5 479.7l1 .1M187.6 479.4l.6 0M192.3 480.1l.8 .3M197.2 479.2l.9 -.2M202.2 479.6l.7 0M221.6 479.8l.8 .2M119.2 485.6l.4 .2M138.6 485.7l.5 .3M143.3 485.6l1 .6M148.3 484.6l1 -.2M211.7 485.5l.9 .4M118.9 490.7l1 .4M128.6 491l.8 .6M133.7 490.6l.9 .3M138.7 490.5l.8 .1M143.8 490.2l.5 0M153.3 490.5l.8 .2M211.8 489.9l1 -.2M119.1 495.7l1 .2M133.8 496l.6 .2M148.5 495.8l.8 .2M168.1 495.8l.5 .1M172.8 496l.8 .3M202.1 495.8l.9 .2M211.8 494.8l.7 -.4M119.2 500.7l.8 0M123.9 500.9l1.1 .1M129 500.5l.6 -.1M133.9 501.2l.5 .1M168 500.9l.8 .1M172.8 500.6l1 -.1M192.5 500.2l.4 -.1M119.4 505.9l.4 0M124.1 505.6l.6 -.2M128.8 506.7l.9 .4M138.9 506.5l.4 .1M143.7 506.3l.6 .1M158.1 505.8l1.1 -.2M182.6 505.6l.8 -.2M187.4 505.9l1 -.1M123.9 511.7l1 .2M143.5 511.8l.8 .2M148.4 511.3l1 -.1M163.1 510.8l.6 -.3M177.6 511l1 -.3M182.6 511.3l.9 -.1M187.5 511l.8 -.2M129.1 517.3l.4 .1M133.9 517l.7 .1M148.4 516.8l1.1 .1M153.3 516.8l.8 .1M163.2 516.3l.5 -.1M182.5 516.3l.9 -.3M187.4 516.3l.9 -.2M202 516.1l.8 -.4M211.9 516.8l.8 0M216.7 516.8l1 .1M129.1 522l.5 0M133.9 521.9l.6 0M138.6 521.9l1 -.1M167.9 522.4l.9 .2M172.9 521.6l.7 -.2M211.8 521.6l.8 -.2M128.5 526.3l.6 -.6M138.7 527.2l.8 -.1M153.5 527.3l.4 0M167.7 526.2l.4 -.4M172.7 526.6l.7 -.4M187.6 527l.7 -.1M197.2 526.4l.3 -.2M207.2 526.8l.4 -.1M216.9 527.6l.6 .1M138.6 532.6l1 0M148.2 533.3l1 .5M163.1 532.1l.7 -.2M187.5 531.8l.4 -.2M197.4 532.2l.5 -.1M221.7 532.6l.7 0M226.6 532.9l.8 .1M138.9 538l.4 0M143.8 538.2l.4 .1M153.4 538.1l.6 .1M158.4 537.9l.4 0M177.7 537.8l1 -.1M207 537.6l.8 -.2M212 537.6l.6 -.1M285.2 537.5l.6 -.2M143.6 543.4l.7 .1M158 542.8l1 -.4M163.2 542.9l.5 -.1M167.9 543.1l1 -.1M197.3 542.4l.4 -.2M207.2 543.1l.6 0M211.9 543l.8 -.2M216.8 542.8l.6 -.2M221.8 543.2l.6 0M265.6 543l.8 -.1M280.3 542.7l.5 -.2M153.2 548.4l1.1 -.1M167.8 548.5l1.1 -.1M192.1 547.7l.8 -.5M202.3 548.3l.5 -.1M206.9 547.8l.6 -.3M216.9 548.1l.4 -.1M221.7 548.8l.7 .1M251 548.2l.5 -.1M270.6 548.6l.6 0M289.9 549.2l.8 .3M299.8 548.9l.7 .1M158.2 553.1l.5 -.3M197.4 553.6l.5 -.1M211.9 553l.4 -.2M260.9 553.6l.5 -.1M270.5 553.2l.5 -.2M274.9 553l.8 -.7M280.3 553.5l.6 -.1M284.9 554.9l.4 .3M167.9 558.9l.9 -.2M172.7 559l1 -.1M182.6 558.8l.8 -.2M260.6 558.5l.7 -.4M265.7 558.6l.4 -.1M270.5 559.4l.8 .1M280.1 559.4l1.1 .2M148.2 563.7l.8 -.5M158.1 563.7l.7 -.4M162.4 563.1l.3 -.5M187.3 564l1 -.4M245.9 564.4l1.1 -.1M265.4 564l1 -.4M280.1 564.7l1.1 .2M157.8 568.9l.8 -.7M172.1 568.4l.4 -.7M187.3 569l.7 -.4M241.2 569.5l.7 -.1M246.1 570.1l.8 .1M148.1 574.4l.9 -.6M157.8 574l.6 -.6M162.6 573.9l.5 -.6M172.7 574.7l.9 -.3M177.4 574.1l.6 -.5M187.3 574.5l.9 -.5M255.9 575.3l.7 .1M167.9 579.9l.7 -.3M172.7 579.8l.8 -.4M221.5 579.7l.7 -.4M236.4 580.4l.7 0M241.2 580.4l.7 0M246 580.4l1 0M255.9 580.2l.7 -.1M157.8 584.5l.4 -.4M167.7 585l.8 -.5M182.6 585.2l.7 -.3M192.2 585.4l1 -.2M197.3 585.5l.8 -.1M207 585.4l.8 -.2M221.7 585.9l.7 .1M236.2 585.6l1 -.1M241.1 585.9l1 .1M157.9 590.3l.8 -.5M162.7 590.2l.8 -.6M177.5 590.2l.7 -.5M182.5 590.2l.5 -.3M207 590.9l.9 -.1M221.5 590.4l.8 -.4M226.6 591.1l.7 0M241.2 591l.8 0M255.7 591.1l1 0M158.1 595.4l.4 -.3M162.8 595.6l.8 -.6M177.5 595.6l.7 -.4M182.4 595.6l.8 -.5M187.2 595.6l.9 -.5M192.5 596.1l.5 -.1M202.1 596l.8 -.2M217 596.4l.4 0M226.7 596.3l.5 0M231.3 596.1l1.1 -.2M241.1 596.4l1 0M246 596.3l1 0M251.1 596.7l.4 .1M256 596.7l.4 .1M153.3 601.3l.9 -.2M182.7 601.4l.7 -.1M207.1 601.5l.6 -.1M212 601.4l.7 -.1M241.2 602.2l.7 .2M246 602.4l.6 .3M148.5 606.6l.6 -.1M162.8 606.2l.9 -.5M172.8 606.2l.5 -.3M197.1 606.7l1.1 -.2M202 606.8l1.1 -.2M207 606.6l.8 -.2M231.3 607.3l1 .2M246.1 607.3l.7 .1" fill="none" stroke="#141414" stroke-width="0.7"/>
<path d="M135.5 540C112 520 104 490 115.5 468.5" fill="none" stroke="#1a1a1a" stroke-width="1.1"/>
<path d="M117.8 463.2L111.5 469.2L115.2 468.8L118.2 471.9Z" fill="#1a1a1a"/>
<path d="M188.5 539.5C198 512 218 494 242 486" fill="none" stroke="#1a1a1a" stroke-width="1.1"/>
<path d="M247.5 484L239.3 483L241.8 485.8L240.9 489.5Z" fill="#1a1a1a"/>
<defs><filter id="nuc" filterUnits="userSpaceOnUse" x="459.3" y="4.3" width="162.99999999999994" height="394.9" color-interpolation-filters="sRGB">
<feTurbulence type="fractalNoise" baseFrequency="0.13" numOctaves="3" seed="8"/>
<feColorMatrix type="matrix" values="0 0 0.2 0 -0.022  0 0 0.2 0 -0.022  0 0 0.9 0 -0.105  0 0 0 0 1"/>
</filter>
<linearGradient id="lum" gradientUnits="userSpaceOnUse" x1="459.3" y1="4.3" x2="554.3" y2="116.3">
<stop offset="0" stop-color="#000" stop-opacity="1"/><stop offset="0.45" stop-color="#000" stop-opacity="0.85"/><stop offset="0.7" stop-color="#000" stop-opacity="0.4"/><stop offset="0.9" stop-color="#000" stop-opacity="0"/></linearGradient>
<linearGradient id="lum2" gradientUnits="userSpaceOnUse" x1="459.3" y1="201.3" x2="554.3" y2="313.3">
<stop offset="0" stop-color="#000" stop-opacity="1"/><stop offset="0.45" stop-color="#000" stop-opacity="0.85"/><stop offset="0.7" stop-color="#000" stop-opacity="0.4"/><stop offset="0.9" stop-color="#000" stop-opacity="0"/></linearGradient><filter id="fbm1" filterUnits="userSpaceOnUse" x="459.3" y="4.3" width="163.0" height="197.9" color-interpolation-filters="sRGB"><feGaussianBlur stdDeviation="2" result="b"/><feTurbulence type="fractalNoise" baseFrequency="0.3" numOctaves="2" seed="5" result="n"/><feComposite in="b" in2="n" operator="in"/><feComponentTransfer><feFuncA type="linear" slope="9" intercept="-3.1"/></feComponentTransfer><feGaussianBlur stdDeviation="0.45"/></filter><filter id="fwm1" filterUnits="userSpaceOnUse" x="459.3" y="4.3" width="163.0" height="197.9" color-interpolation-filters="sRGB"><feGaussianBlur stdDeviation="2.5" result="b"/><feTurbulence type="fractalNoise" baseFrequency="0.33" numOctaves="2" seed="12" result="n"/><feComposite in="b" in2="n" operator="in"/><feComponentTransfer><feFuncA type="linear" slope="9" intercept="-4.5"/></feComponentTransfer><feGaussianBlur stdDeviation="0.45"/></filter><filter id="fsm1" filterUnits="userSpaceOnUse" x="459.3" y="4.3" width="163.0" height="197.9" color-interpolation-filters="sRGB"><feGaussianBlur stdDeviation="8" result="b"/><feTurbulence type="fractalNoise" baseFrequency="0.55" numOctaves="1" seed="21" result="n"/><feComposite in="b" in2="n" operator="in"/><feComponentTransfer><feFuncA type="linear" slope="40" intercept="-28.6"/></feComponentTransfer><feGaussianBlur stdDeviation="0.3"/></filter><filter id="fbm2" filterUnits="userSpaceOnUse" x="459.3" y="201.3" width="163.0" height="197.9" color-interpolation-filters="sRGB"><feGaussianBlur stdDeviation="2" result="b"/><feTurbulence type="fractalNoise" baseFrequency="0.3" numOctaves="2" seed="5" result="n"/><feComposite in="b" in2="n" operator="in"/><feComponentTransfer><feFuncA type="linear" slope="9" intercept="-3.1"/></feComponentTransfer><feGaussianBlur stdDeviation="0.45"/></filter><filter id="fwm2" filterUnits="userSpaceOnUse" x="459.3" y="201.3" width="163.0" height="197.9" color-interpolation-filters="sRGB"><feGaussianBlur stdDeviation="2.5" result="b"/><feTurbulence type="fractalNoise" baseFrequency="0.33" numOctaves="2" seed="12" result="n"/><feComposite in="b" in2="n" operator="in"/><feComponentTransfer><feFuncA type="linear" slope="9" intercept="-4.5"/></feComponentTransfer><feGaussianBlur stdDeviation="0.45"/></filter><filter id="fsm2" filterUnits="userSpaceOnUse" x="459.3" y="201.3" width="163.0" height="197.9" color-interpolation-filters="sRGB"><feGaussianBlur stdDeviation="8" result="b"/><feTurbulence type="fractalNoise" baseFrequency="0.55" numOctaves="1" seed="21" result="n"/><feComposite in="b" in2="n" operator="in"/><feComponentTransfer><feFuncA type="linear" slope="40" intercept="-28.6"/></feComponentTransfer><feGaussianBlur stdDeviation="0.3"/></filter><filter id="fbs0" filterUnits="userSpaceOnUse" x="623.5" y="4.6" width="81.5" height="97.9" color-interpolation-filters="sRGB"><feGaussianBlur stdDeviation="1.2" result="b"/><feTurbulence type="fractalNoise" baseFrequency="0.5" numOctaves="2" seed="5" result="n"/><feComposite in="b" in2="n" operator="in"/><feComponentTransfer><feFuncA type="linear" slope="9" intercept="-2.9"/></feComponentTransfer><feGaussianBlur stdDeviation="0.55"/></filter><filter id="fws0" filterUnits="userSpaceOnUse" x="623.5" y="4.6" width="81.5" height="97.9" color-interpolation-filters="sRGB"><feGaussianBlur stdDeviation="1.5" result="b"/><feTurbulence type="fractalNoise" baseFrequency="0.55" numOctaves="2" seed="12" result="n"/><feComposite in="b" in2="n" operator="in"/><feComponentTransfer><feFuncA type="linear" slope="9" intercept="-3.9"/></feComponentTransfer><feGaussianBlur stdDeviation="0.55"/></filter><filter id="fss0" filterUnits="userSpaceOnUse" x="623.5" y="4.6" width="81.5" height="97.9" color-interpolation-filters="sRGB"><feGaussianBlur stdDeviation="4.8" result="b"/><feTurbulence type="fractalNoise" baseFrequency="0.55" numOctaves="1" seed="21" result="n"/><feComposite in="b" in2="n" operator="in"/><feComponentTransfer><feFuncA type="linear" slope="40" intercept="-27.2"/></feComponentTransfer><feGaussianBlur stdDeviation="0.3"/></filter><filter id="fbs1" filterUnits="userSpaceOnUse" x="623.5" y="103.3" width="81.5" height="98.9" color-interpolation-filters="sRGB"><feGaussianBlur stdDeviation="1.2" result="b"/><feTurbulence type="fractalNoise" baseFrequency="0.5" numOctaves="2" seed="5" result="n"/><feComposite in="b" in2="n" operator="in"/><feComponentTransfer><feFuncA type="linear" slope="9" intercept="-2.9"/></feComponentTransfer><feGaussianBlur stdDeviation="0.55"/></filter><filter id="fws1" filterUnits="userSpaceOnUse" x="623.5" y="103.3" width="81.5" height="98.9" color-interpolation-filters="sRGB"><feGaussianBlur stdDeviation="1.5" result="b"/><feTurbulence type="fractalNoise" baseFrequency="0.55" numOctaves="2" seed="12" result="n"/><feComposite in="b" in2="n" operator="in"/><feComponentTransfer><feFuncA type="linear" slope="9" intercept="-3.9"/></feComponentTransfer><feGaussianBlur stdDeviation="0.55"/></filter><filter id="fss1" filterUnits="userSpaceOnUse" x="623.5" y="103.3" width="81.5" height="98.9" color-interpolation-filters="sRGB"><feGaussianBlur stdDeviation="4.8" result="b"/><feTurbulence type="fractalNoise" baseFrequency="0.55" numOctaves="1" seed="21" result="n"/><feComposite in="b" in2="n" operator="in"/><feComponentTransfer><feFuncA type="linear" slope="40" intercept="-27.2"/></feComponentTransfer><feGaussianBlur stdDeviation="0.3"/></filter><filter id="fbs2" filterUnits="userSpaceOnUse" x="623.5" y="202.8" width="81.5" height="97.4" color-interpolation-filters="sRGB"><feGaussianBlur stdDeviation="1.2" result="b"/><feTurbulence type="fractalNoise" baseFrequency="0.5" numOctaves="2" seed="5" result="n"/><feComposite in="b" in2="n" operator="in"/><feComponentTransfer><feFuncA type="linear" slope="9" intercept="-2.9"/></feComponentTransfer><feGaussianBlur stdDeviation="0.55"/></filter><filter id="fws2" filterUnits="userSpaceOnUse" x="623.5" y="202.8" width="81.5" height="97.4" color-interpolation-filters="sRGB"><feGaussianBlur stdDeviation="1.5" result="b"/><feTurbulence type="fractalNoise" baseFrequency="0.55" numOctaves="2" seed="12" result="n"/><feComposite in="b" in2="n" operator="in"/><feComponentTransfer><feFuncA type="linear" slope="9" intercept="-3.9"/></feComponentTransfer><feGaussianBlur stdDeviation="0.55"/></filter><filter id="fss2" filterUnits="userSpaceOnUse" x="623.5" y="202.8" width="81.5" height="97.4" color-interpolation-filters="sRGB"><feGaussianBlur stdDeviation="4.8" result="b"/><feTurbulence type="fractalNoise" baseFrequency="0.55" numOctaves="1" seed="21" result="n"/><feComposite in="b" in2="n" operator="in"/><feComponentTransfer><feFuncA type="linear" slope="40" intercept="-27.2"/></feComponentTransfer><feGaussianBlur stdDeviation="0.3"/></filter><filter id="fbs3" filterUnits="userSpaceOnUse" x="623.5" y="300.8" width="81.5" height="97.5" color-interpolation-filters="sRGB"><feGaussianBlur stdDeviation="1.2" result="b"/><feTurbulence type="fractalNoise" baseFrequency="0.5" numOctaves="2" seed="5" result="n"/><feComposite in="b" in2="n" operator="in"/><feComponentTransfer><feFuncA type="linear" slope="9" intercept="-2.9"/></feComponentTransfer><feGaussianBlur stdDeviation="0.55"/></filter><filter id="fws3" filterUnits="userSpaceOnUse" x="623.5" y="300.8" width="81.5" height="97.5" color-interpolation-filters="sRGB"><feGaussianBlur stdDeviation="1.5" result="b"/><feTurbulence type="fractalNoise" baseFrequency="0.55" numOctaves="2" seed="12" result="n"/><feComposite in="b" in2="n" operator="in"/><feComponentTransfer><feFuncA type="linear" slope="9" intercept="-3.9"/></feComponentTransfer><feGaussianBlur stdDeviation="0.55"/></filter><filter id="fss3" filterUnits="userSpaceOnUse" x="623.5" y="300.8" width="81.5" height="97.5" color-interpolation-filters="sRGB"><feGaussianBlur stdDeviation="4.8" result="b"/><feTurbulence type="fractalNoise" baseFrequency="0.55" numOctaves="1" seed="21" result="n"/><feComposite in="b" in2="n" operator="in"/><feComponentTransfer><feFuncA type="linear" slope="40" intercept="-27.2"/></feComponentTransfer><feGaussianBlur stdDeviation="0.3"/></filter></defs>
<rect x="459.3" y="4.3" width="162.99999999999994" height="394.0" fill="#0a0a3a"/><rect x="459.3" y="4.3" width="162.99999999999994" height="394.0" filter="url(#nuc)"/>
<rect x="459.3" y="4.3" width="162.99999999999994" height="197.89999999999998" fill="url(#lum)"/><rect x="459.3" y="202.79999999999998" width="162.99999999999994" height="195.50000000000003" fill="url(#lum2)"/>
<g filter="url(#fbm1)" fill="#38cc50"><ellipse cx="474.0" cy="119.0" rx="15.0" ry="8.5" transform="rotate(-12 474.0 119.0)"/><ellipse cx="509.0" cy="109.0" rx="10.0" ry="8.0"/><ellipse cx="531.0" cy="92.0" rx="5.5" ry="9.0" transform="rotate(10 531.0 92.0)"/><ellipse cx="592.3" cy="111.5" rx="5.5" ry="4.5"/><ellipse cx="485.0" cy="170.5" rx="7.0" ry="4.0" transform="rotate(-30 485.0 170.5)"/><ellipse cx="527.0" cy="140.7" rx="4.5" ry="3.8"/><ellipse cx="543.0" cy="136.0" rx="4.0" ry="4.5"/><ellipse cx="507.0" cy="151.5" rx="3.5" ry="3.8"/><ellipse cx="573.0" cy="45.5" rx="4.5" ry="3.0"/><ellipse cx="570.6" cy="73.0" rx="3.5" ry="4.5"/><ellipse cx="586.0" cy="61.0" rx="3.5" ry="3.0"/><ellipse cx="614.0" cy="23.0" rx="3.0" ry="3.0"/><ellipse cx="620.0" cy="80.0" rx="3.0" ry="4.0"/><ellipse cx="558.0" cy="103.0" rx="3.0" ry="3.5"/><ellipse cx="520.0" cy="131.0" rx="3.0" ry="3.0"/></g><g filter="url(#fbm1)" fill="#35d6e6"><ellipse cx="477.0" cy="118.0" rx="19.0" ry="10.5" transform="rotate(-12 477.0 118.0)"/><ellipse cx="509.0" cy="104.0" rx="12.5" ry="14.0"/><ellipse cx="466.0" cy="122.0" rx="9.0" ry="7.0"/></g><g filter="url(#fwm1)" fill="#2cc0dc"><ellipse cx="539.0" cy="81.0" rx="16.0" ry="17.5"/><ellipse cx="588.0" cy="55.0" rx="21.0" ry="19.0"/><ellipse cx="619.0" cy="25.0" rx="4.0" ry="12.0"/><ellipse cx="571.0" cy="72.0" rx="7.0" ry="7.0"/></g><g filter="url(#fwm1)" fill="#d8ffff"><ellipse cx="478.0" cy="118.0" rx="14.0" ry="6.0" transform="rotate(-12 478.0 118.0)"/><ellipse cx="509.0" cy="104.0" rx="8.0" ry="9.0"/><ellipse cx="540.0" cy="84.0" rx="6.0" ry="8.0"/></g><g filter="url(#fsm1)" fill="#d8c83a"><path d="M459.3 150.0L459.3 95.0L600.0 4.3L622.3 4.3L622.3 70.0L540.0 150.0L490.0 202.2L459.3 202.2Z"/></g><g fill="#ff2a3c"><ellipse cx="601.5" cy="60.0" rx="1.5" ry="2.1"/><ellipse cx="586.0" cy="51.6" rx="0.9" ry="1.2"/><ellipse cx="579.0" cy="45.5" rx="1.2" ry="0.8"/><ellipse cx="541.0" cy="92.0" rx="1.0" ry="0.8"/></g>
<g filter="url(#fbm2)" fill="#38cc50"><ellipse cx="474.0" cy="316.0" rx="15.0" ry="8.5" transform="rotate(-12 474.0 316.0)"/><ellipse cx="509.0" cy="306.0" rx="10.0" ry="8.0"/><ellipse cx="531.0" cy="289.0" rx="5.5" ry="9.0" transform="rotate(10 531.0 289.0)"/><ellipse cx="592.3" cy="308.5" rx="5.5" ry="4.5"/><ellipse cx="485.0" cy="367.5" rx="7.0" ry="4.0" transform="rotate(-30 485.0 367.5)"/><ellipse cx="527.0" cy="337.7" rx="4.5" ry="3.8"/><ellipse cx="543.0" cy="333.0" rx="4.0" ry="4.5"/><ellipse cx="507.0" cy="348.5" rx="3.5" ry="3.8"/><ellipse cx="573.0" cy="242.5" rx="4.5" ry="3.0"/><ellipse cx="570.6" cy="270.0" rx="3.5" ry="4.5"/><ellipse cx="586.0" cy="258.0" rx="3.5" ry="3.0"/><ellipse cx="614.0" cy="220.0" rx="3.0" ry="3.0"/><ellipse cx="620.0" cy="277.0" rx="3.0" ry="4.0"/><ellipse cx="558.0" cy="300.0" rx="3.0" ry="3.5"/><ellipse cx="520.0" cy="328.0" rx="3.0" ry="3.0"/></g><g filter="url(#fsm2)" fill="#d8c83a"><path d="M459.3 347.0L459.3 292.0L600.0 201.3L622.3 201.3L622.3 267.0L540.0 347.0L490.0 399.2L459.3 399.2Z"/></g><g fill="#ff2a3c"><ellipse cx="601.5" cy="257.0" rx="1.5" ry="2.1"/><ellipse cx="586.0" cy="248.6" rx="0.9" ry="1.2"/><ellipse cx="579.0" cy="242.5" rx="1.2" ry="0.8"/><ellipse cx="541.0" cy="289.0" rx="1.0" ry="0.8"/></g>
<g fill="#fff"><path d="M0 0L-1.2 5.2L0 4L2.6 6.4L3.4 5.6L1.2 3.2L4.4 3Z" transform="translate(603.5 66.5)"/><path d="M0 0L-1.2 5.2L0 4L2.6 6.4L3.4 5.6L1.2 3.2L4.4 3Z" transform="translate(543.5 98.5)"/><path d="M0 0L-1.2 5.2L0 4L2.6 6.4L3.4 5.6L1.2 3.2L4.4 3Z" transform="translate(495.5 128)"/><path d="M0 0L-1.2 5.2L0 4L2.6 6.4L3.4 5.6L1.2 3.2L4.4 3Z" transform="translate(591.5 121)"/><path d="M0 0L-1.2 5.2L0 4L2.6 6.4L3.4 5.6L1.2 3.2L4.4 3Z" transform="translate(499.5 90) rotate(150)"/></g><g fill="#fff"><path d="M0 0L-1.2 5.2L0 4L2.6 6.4L3.4 5.6L1.2 3.2L4.4 3Z" transform="translate(603.5 263.5)"/><path d="M0 0L-1.2 5.2L0 4L2.6 6.4L3.4 5.6L1.2 3.2L4.4 3Z" transform="translate(543.5 295.5)"/><path d="M0 0L-1.2 5.2L0 4L2.6 6.4L3.4 5.6L1.2 3.2L4.4 3Z" transform="translate(495.5 325.0)"/><path d="M0 0L-1.2 5.2L0 4L2.6 6.4L3.4 5.6L1.2 3.2L4.4 3Z" transform="translate(591.5 318.0)"/><path d="M0 0L-1.2 5.2L0 4L2.6 6.4L3.4 5.6L1.2 3.2L4.4 3Z" transform="translate(499.5 287.0) rotate(150)"/></g>
<rect x="553.2" y="191" width="59.1" height="3.3" fill="#fff"/><rect x="553.4" y="387.4" width="59.1" height="3.3" fill="#fff"/>
<rect x="459.3" y="202.2" width="162.99999999999994" height="0.6" fill="#8c8ca8"/><rect x="622.3" y="4.3" width="1.2" height="394.0" fill="#a8a8a8"/>
<rect x="623.5" y="4.6" width="81.5" height="97.9" fill="#000"/>
<g filter="url(#fbs0)" fill="#27b4c6"><ellipse cx="632.4" cy="60.8" rx="10.0" ry="5.6" transform="rotate(-12 632.4 60.8)"/><ellipse cx="648.4" cy="53.9" rx="6.7" ry="7.4"/><ellipse cx="626.9" cy="62.8" rx="4.9" ry="3.9"/></g><g filter="url(#fws0)" fill="#1f9fb4"><ellipse cx="663.4" cy="42.5" rx="8.5" ry="9.2"/><ellipse cx="687.9" cy="29.7" rx="11.1" ry="9.9"/><ellipse cx="703.4" cy="14.8" rx="2.4" ry="6.4"/><ellipse cx="679.4" cy="38.1" rx="3.9" ry="3.9"/></g><g filter="url(#fws0)" fill="#7fe8f0"><ellipse cx="632.9" cy="60.8" rx="7.5" ry="3.4" transform="rotate(-12 632.9 60.8)"/><ellipse cx="648.4" cy="53.9" rx="4.4" ry="4.9"/><ellipse cx="663.9" cy="44.0" rx="3.4" ry="4.4"/></g>
<rect x="670.3" y="96.3" width="29.6" height="3.2" fill="#fff"/>
<text x="626.7" y="18.6" font-size="14" font-style="italic" style="fill:#4fc6e0" textLength="50.6" lengthAdjust="spacingAndGlyphs">ELAVL4</text>
<rect x="623.5" y="103.3" width="81.5" height="98.89999999999999" fill="#000"/>
<g filter="url(#fbs1)" fill="#2cb84a"><ellipse cx="630.9" cy="160.6" rx="8.0" ry="4.7" transform="rotate(-12 630.9 160.6)"/><ellipse cx="648.4" cy="155.6" rx="5.5" ry="4.4"/><ellipse cx="659.4" cy="147.1" rx="3.2" ry="4.9" transform="rotate(10 659.4 147.1)"/><ellipse cx="690.0" cy="156.9" rx="3.2" ry="2.6"/><ellipse cx="636.4" cy="186.4" rx="3.9" ry="2.4" transform="rotate(-30 636.4 186.4)"/><ellipse cx="657.4" cy="171.5" rx="2.6" ry="2.3"/><ellipse cx="665.4" cy="169.1" rx="2.4" ry="2.6"/><ellipse cx="647.4" cy="176.9" rx="2.1" ry="2.3"/><ellipse cx="680.4" cy="123.9" rx="2.6" ry="1.9"/><ellipse cx="679.1" cy="137.6" rx="2.1" ry="2.6"/><ellipse cx="686.9" cy="131.6" rx="2.1" ry="1.9"/><ellipse cx="700.9" cy="112.6" rx="1.9" ry="1.9"/><ellipse cx="703.9" cy="141.1" rx="1.9" ry="2.4"/><ellipse cx="672.9" cy="152.6" rx="1.9" ry="2.1"/><ellipse cx="653.9" cy="166.6" rx="1.9" ry="1.9"/></g>
<rect x="670.3" y="196.0" width="29.6" height="3.2" fill="#fff"/>
<text x="626.7" y="117.3" font-size="14" font-style="italic" style="fill:#4dbb3c" textLength="40.6" lengthAdjust="spacingAndGlyphs">SCGN</text>
<rect x="623.5" y="202.8" width="81.5" height="97.39999999999998" fill="#000"/>
<g filter="url(#fss2)" fill="#b4a42c"><path d="M623.5 274.5L623.5 247.4L693.9 202.8L705.0 202.8L705.0 235.1L663.9 274.5L638.9 300.2L623.5 300.2Z"/></g>
<rect x="671.8" y="294.0" width="29.6" height="3.2" fill="#fff"/>
<text x="626.7" y="216.8" font-size="14" font-style="italic" style="fill:#e6d820" textLength="39" lengthAdjust="spacingAndGlyphs">BNC2</text>
<rect x="623.5" y="300.8" width="81.5" height="97.5" fill="#000"/>
<g fill="#ff2a3c"><ellipse cx="694.6" cy="328.2" rx="0.8" ry="1.0"/><ellipse cx="686.9" cy="324.1" rx="0.5" ry="0.6"/><ellipse cx="683.4" cy="321.1" rx="0.6" ry="0.4"/><ellipse cx="664.4" cy="344.0" rx="0.5" ry="0.4"/></g>
<rect x="670.3" y="392.1" width="29.6" height="3.2" fill="#fff"/>
<text x="626.7" y="314.8" font-size="14" font-style="italic" style="fill:#e8202c" textLength="30" lengthAdjust="spacingAndGlyphs">GRP</text>
<text x="465" y="24.6" font-size="14" style="fill:#5b5f9e" textLength="31" lengthAdjust="spacingAndGlyphs">DAPI</text>
<text x="465" y="38.5" font-size="14" font-style="italic" style="fill:#4fc6e0" textLength="48.5" lengthAdjust="spacingAndGlyphs">ELAVL4</text>
<text x="465" y="51.8" font-size="14" font-style="italic" style="fill:#e6d820" textLength="36" lengthAdjust="spacingAndGlyphs">BNC2</text>
<text x="465" y="65" font-size="14" font-style="italic" style="fill:#4dbb3c" textLength="40" lengthAdjust="spacingAndGlyphs">SCGN</text>
<text x="465" y="77.5" font-size="14" font-style="italic" style="fill:#e8202c" textLength="29" lengthAdjust="spacingAndGlyphs">GRP</text>
<text x="465" y="226" font-size="14" style="fill:#5b5f9e" textLength="31" lengthAdjust="spacingAndGlyphs">DAPI</text>
<text x="465" y="238.3" font-size="14" font-style="italic" style="fill:#e6d820" textLength="36" lengthAdjust="spacingAndGlyphs">BNC2</text>
<text x="465" y="251.2" font-size="14" font-style="italic" style="fill:#4dbb3c" textLength="40" lengthAdjust="spacingAndGlyphs">SCGN</text>
<text x="465" y="264.3" font-size="14" font-style="italic" style="fill:#e8202c" textLength="29" lengthAdjust="spacingAndGlyphs">GRP</text>
<defs><filter id="nucd" filterUnits="userSpaceOnUse" x="458.3" y="468.2" width="162.90000000000003" height="230.00000000000006" color-interpolation-filters="sRGB">
<feTurbulence type="fractalNoise" baseFrequency="0.05" numOctaves="3" seed="3"/>
<feColorMatrix type="matrix" values="0 0 0.22 0 -0.1  0 0 0.22 0 -0.1  0 0 1.15 0 -0.5  0 0 0 0 1"/>
</filter><filter id="dY" filterUnits="userSpaceOnUse" x="458.3" y="468.2" width="162.9" height="230.0" color-interpolation-filters="sRGB"><feGaussianBlur stdDeviation="3" result="b"/><feTurbulence type="fractalNoise" baseFrequency="0.38" numOctaves="2" seed="31" result="n"/><feComposite in="b" in2="n" operator="in"/><feComponentTransfer><feFuncA type="linear" slope="9" intercept="-3.5"/></feComponentTransfer><feGaussianBlur stdDeviation="0.5"/></filter><filter id="dR" filterUnits="userSpaceOnUse" x="458.3" y="468.2" width="162.9" height="230.0" color-interpolation-filters="sRGB"><feGaussianBlur stdDeviation="3" result="b"/><feTurbulence type="fractalNoise" baseFrequency="0.38" numOctaves="2" seed="47" result="n"/><feComposite in="b" in2="n" operator="in"/><feComponentTransfer><feFuncA type="linear" slope="9" intercept="-4.1"/></feComponentTransfer><feGaussianBlur stdDeviation="0.5"/></filter><filter id="dC" filterUnits="userSpaceOnUse" x="458.3" y="468.2" width="162.9" height="230.0" color-interpolation-filters="sRGB"><feGaussianBlur stdDeviation="3" result="b"/><feTurbulence type="fractalNoise" baseFrequency="0.38" numOctaves="2" seed="63" result="n"/><feComposite in="b" in2="n" operator="in"/><feComponentTransfer><feFuncA type="linear" slope="9" intercept="-4.1"/></feComponentTransfer><feGaussianBlur stdDeviation="0.5"/></filter><filter id="dW" filterUnits="userSpaceOnUse" x="458.3" y="468.2" width="162.9" height="230.0" color-interpolation-filters="sRGB"><feGaussianBlur stdDeviation="2.6" result="b"/><feTurbulence type="fractalNoise" baseFrequency="0.4" numOctaves="2" seed="77" result="n"/><feComposite in="b" in2="n" operator="in"/><feComponentTransfer><feFuncA type="linear" slope="9" intercept="-4.5"/></feComponentTransfer><feGaussianBlur stdDeviation="0.5"/></filter><linearGradient id="lumd" gradientUnits="userSpaceOnUse" x1="458.3" y1="0" x2="513.3" y2="0"><stop offset="0" stop-color="#000" stop-opacity="1"/><stop offset="0.55" stop-color="#000" stop-opacity="0.8"/><stop offset="1" stop-color="#000" stop-opacity="0"/></linearGradient><filter id="sY" filterUnits="userSpaceOnUse" x="623.2" y="468.0" width="80.9" height="231.0" color-interpolation-filters="sRGB"><feGaussianBlur stdDeviation="4" result="b"/><feTurbulence type="fractalNoise" baseFrequency="0.42" numOctaves="2" seed="5" result="n"/><feComposite in="b" in2="n" operator="in"/><feComponentTransfer><feFuncA type="linear" slope="8" intercept="-3.2"/></feComponentTransfer><feGaussianBlur stdDeviation="0.6"/></filter><filter id="sY2" filterUnits="userSpaceOnUse" x="623.2" y="468.0" width="80.9" height="231.0" color-interpolation-filters="sRGB"><feGaussianBlur stdDeviation="3.5" result="b"/><feTurbulence type="fractalNoise" baseFrequency="0.45" numOctaves="2" seed="15" result="n"/><feComposite in="b" in2="n" operator="in"/><feComponentTransfer><feFuncA type="linear" slope="8" intercept="-3.9"/></feComponentTransfer><feGaussianBlur stdDeviation="0.4"/></filter><filter id="sR" filterUnits="userSpaceOnUse" x="623.2" y="468.0" width="80.9" height="231.0" color-interpolation-filters="sRGB"><feGaussianBlur stdDeviation="4" result="b"/><feTurbulence type="fractalNoise" baseFrequency="0.42" numOctaves="2" seed="25" result="n"/><feComposite in="b" in2="n" operator="in"/><feComponentTransfer><feFuncA type="linear" slope="8" intercept="-3.3"/></feComponentTransfer><feGaussianBlur stdDeviation="0.6"/></filter><filter id="sR2" filterUnits="userSpaceOnUse" x="623.2" y="468.0" width="80.9" height="231.0" color-interpolation-filters="sRGB"><feGaussianBlur stdDeviation="3.5" result="b"/><feTurbulence type="fractalNoise" baseFrequency="0.45" numOctaves="2" seed="35" result="n"/><feComposite in="b" in2="n" operator="in"/><feComponentTransfer><feFuncA type="linear" slope="8" intercept="-4.0"/></feComponentTransfer><feGaussianBlur stdDeviation="0.4"/></filter><filter id="sC" filterUnits="userSpaceOnUse" x="623.2" y="468.0" width="80.9" height="231.0" color-interpolation-filters="sRGB"><feGaussianBlur stdDeviation="3" result="b"/><feTurbulence type="fractalNoise" baseFrequency="0.3" numOctaves="2" seed="45" result="n"/><feComposite in="b" in2="n" operator="in"/><feComponentTransfer><feFuncA type="linear" slope="10" intercept="-4.6"/></feComponentTransfer><feGaussianBlur stdDeviation="0.5"/></filter><filter id="sD" x="-5%" y="-5%" width="110%" height="110%"><feGaussianBlur stdDeviation="0.45"/></filter></defs>
<rect x="458.3" y="468.2" width="162.90000000000003" height="230.00000000000006" fill="#000"/><rect x="458.3" y="468.2" width="162.90000000000003" height="230.00000000000006" filter="url(#nucd)"/><rect x="458.3" y="468.2" width="56" height="230.00000000000006" fill="url(#lumd)"/>
<g filter="url(#dY)" fill="#f2d91c"><ellipse cx="502" cy="510" rx="15" ry="24" transform="rotate(-8 502 510)"/><ellipse cx="540" cy="630" rx="20" ry="22" transform="rotate(10 540 630)"/></g>
<g filter="url(#dR)" fill="#e8261e"><ellipse cx="503" cy="519" rx="13" ry="18" transform="rotate(-8 503 519)"/><ellipse cx="547" cy="643" rx="16" ry="23" transform="rotate(-25 547 643)"/><ellipse cx="502" cy="552.5" rx="2.4" ry="3.2"/><ellipse cx="518" cy="481" rx="2" ry="2"/><ellipse cx="517" cy="471" rx="1.5" ry="1.5"/></g>
<g filter="url(#dC)" fill="#35d2e2"><ellipse cx="500" cy="505" rx="13" ry="20" transform="rotate(-8 500 505)"/><ellipse cx="538" cy="628" rx="18" ry="20" transform="rotate(10 538 628)"/><ellipse cx="553" cy="650" rx="6" ry="6"/></g>
<g filter="url(#dW)" fill="#fff8d8"><ellipse cx="501" cy="504" rx="7" ry="12" transform="rotate(-8 501 504)"/><ellipse cx="537" cy="626" rx="9" ry="10"/></g>
<path d="M509.2 595H582.1V671.6H509.2L582.1 595" fill="none" stroke="#fff" stroke-width="1.4"/>
<rect x="515.2" y="689" width="96.3" height="3.4" fill="#fff"/>
<text x="581.7" y="484.3" font-size="14" font-style="italic" style="fill:#e6dc20" textLength="25.5" lengthAdjust="spacingAndGlyphs">MPZ</text>
<text x="581.7" y="496.8" font-size="14" font-style="italic" style="fill:#e0202c" textLength="39" lengthAdjust="spacingAndGlyphs">SOX10</text>
<text x="581.7" y="509.5" font-size="14" font-style="italic" style="fill:#3cc4dc" textLength="25.5" lengthAdjust="spacingAndGlyphs">DHH</text>
<text x="581.7" y="522.3" font-size="14" style="fill:#40447a" textLength="27.3" lengthAdjust="spacingAndGlyphs">DAPI</text>
<rect x="622.5" y="468.2" width="81.59999999999998" height="75.90000000000003" fill="#b4b4b4"/><rect x="623.2" y="468.2" width="80.89999999999998" height="75.40000000000003" fill="#000"/>
<rect x="668.2" y="537.4" width="31.8" height="3.3" fill="#fff"/>
<rect x="622.5" y="545" width="81.59999999999998" height="75.5" fill="#b4b4b4"/><rect x="623.2" y="545" width="80.89999999999998" height="75" fill="#000"/>
<rect x="668.2" y="613.8" width="31.8" height="3.3" fill="#fff"/>
<rect x="622.5" y="621.5" width="81.59999999999998" height="77.20000000000005" fill="#b4b4b4"/><rect x="623.2" y="621.5" width="80.89999999999998" height="76.70000000000005" fill="#000"/>
<rect x="668.2" y="692.0" width="31.8" height="3.3" fill="#fff"/>
<g filter="url(#sY)" fill="#8f8718"><ellipse cx="663" cy="507" rx="24" ry="28" transform="rotate(-25 663 507)"/><ellipse cx="682" cy="522" rx="9" ry="12"/></g>
<g filter="url(#sY2)" fill="#ece030"><ellipse cx="661" cy="504" rx="17" ry="22" transform="rotate(-25 661 504)"/><ellipse cx="672" cy="523" rx="6" ry="9"/></g>
<g filter="url(#sR)" fill="#7e1018"><ellipse cx="666" cy="585" rx="22" ry="26" transform="rotate(-25 666 585)"/><ellipse cx="679" cy="604" rx="7" ry="8"/></g>
<g filter="url(#sR2)" fill="#ee2c34"><ellipse cx="663" cy="582" rx="13" ry="19" transform="rotate(-25 663 582)"/><ellipse cx="679" cy="605" rx="4" ry="5"/></g>
<g filter="url(#sD)" fill="#3ed6e0"><circle cx="659.2" cy="637.1" r="0.9"/><circle cx="665.2" cy="675.2" r="0.7"/><circle cx="660.3" cy="645.4" r="0.5"/><circle cx="681.2" cy="666.7" r="0.6"/><circle cx="648.7" cy="677.5" r="1.7"/><circle cx="645.2" cy="651.6" r="0.9"/><circle cx="658.5" cy="649.3" r="1.0"/><circle cx="670.3" cy="658.8" r="0.5"/><circle cx="666.0" cy="670.8" r="0.6"/><circle cx="664.1" cy="643.5" r="0.5"/><circle cx="649.8" cy="654.4" r="0.9"/><circle cx="663.8" cy="642.4" r="0.7"/><circle cx="656.1" cy="635.8" r="0.5"/><circle cx="648.3" cy="671.1" r="1.5"/><circle cx="651.8" cy="655.2" r="0.9"/><circle cx="658.3" cy="670.7" r="1.6"/><circle cx="675.4" cy="644.8" r="0.7"/><circle cx="650.4" cy="675.8" r="0.6"/><circle cx="670.8" cy="672.3" r="0.6"/><circle cx="659.2" cy="676.7" r="1.2"/><circle cx="666.1" cy="658.3" r="1.5"/><circle cx="660.4" cy="654.8" r="1.5"/><circle cx="667.7" cy="646.2" r="1.1"/><circle cx="653.3" cy="637.3" r="1.3"/><circle cx="675.7" cy="655.9" r="1.3"/><circle cx="650.2" cy="660.5" r="1.0"/><circle cx="648.2" cy="662.8" r="0.7"/><circle cx="660.5" cy="656.9" r="0.8"/><circle cx="659.4" cy="676.6" r="1.8"/><circle cx="662.8" cy="652.5" r="0.5"/><circle cx="660.3" cy="649.9" r="1.6"/><circle cx="657.8" cy="658.7" r="0.9"/><circle cx="659.4" cy="684.9" r="1.0"/><circle cx="670.7" cy="645.9" r="0.5"/><circle cx="666.0" cy="649.4" r="0.7"/><circle cx="652.9" cy="655.7" r="0.8"/><circle cx="659.2" cy="662.9" r="1.6"/><circle cx="649.9" cy="658.0" r="0.7"/><circle cx="655.4" cy="640.5" r="0.9"/><circle cx="670.4" cy="651.9" r="0.5"/><circle cx="671.1" cy="664.3" r="0.6"/><circle cx="667.6" cy="666.2" r="0.6"/><circle cx="670.5" cy="661.7" r="0.7"/><circle cx="654.9" cy="650.5" r="1.2"/><circle cx="666.3" cy="681.6" r="0.7"/><circle cx="679.2" cy="646.5" r="1.6"/><circle cx="669.8" cy="632.7" r="0.9"/><circle cx="653.6" cy="678.7" r="0.5"/><circle cx="662.0" cy="653.4" r="0.8"/><circle cx="653.3" cy="658.3" r="1.0"/><circle cx="673.6" cy="646.9" r="1.3"/><circle cx="667.4" cy="648.5" r="0.9"/><circle cx="677.0" cy="647.1" r="0.6"/><circle cx="659.1" cy="650.9" r="0.8"/><circle cx="663.4" cy="654.4" r="0.5"/><circle cx="661.0" cy="643.5" r="0.6"/><circle cx="671.3" cy="645.5" r="1.2"/><circle cx="663.0" cy="664.9" r="0.8"/><circle cx="670.9" cy="647.0" r="1.8"/><circle cx="661.1" cy="685.0" r="0.6"/><circle cx="652.4" cy="639.4" r="0.5"/><circle cx="657.6" cy="656.3" r="0.5"/><circle cx="650.8" cy="664.3" r="1.0"/><circle cx="656.9" cy="653.3" r="0.6"/><circle cx="680.4" cy="675.1" r="0.5"/><circle cx="676.9" cy="659.4" r="1.4"/><circle cx="654.5" cy="655.5" r="0.9"/><circle cx="674.0" cy="680.3" r="0.7"/><circle cx="662.5" cy="670.3" r="0.7"/><circle cx="648.1" cy="669.3" r="0.6"/><circle cx="653.0" cy="649.5" r="0.9"/><circle cx="670.6" cy="666.5" r="0.5"/><circle cx="656.8" cy="655.2" r="0.7"/><circle cx="649.5" cy="673.7" r="0.8"/><circle cx="671.5" cy="657.8" r="0.5"/><circle cx="654.2" cy="665.0" r="0.6"/><circle cx="658.9" cy="632.6" r="1.7"/><circle cx="661.3" cy="652.1" r="0.9"/><circle cx="666.2" cy="663.0" r="1.3"/><circle cx="670.2" cy="679.4" r="0.7"/><circle cx="660.5" cy="656.2" r="1.2"/><circle cx="658.9" cy="664.8" r="0.8"/><circle cx="660.5" cy="630.8" r="1.8"/><circle cx="662.1" cy="668.0" r="1.1"/><circle cx="680.8" cy="673.5" r="0.6"/><circle cx="659.8" cy="658.5" r="0.9"/><circle cx="674.1" cy="658.3" r="1.4"/><circle cx="647.9" cy="672.3" r="1.7"/><circle cx="664.5" cy="659.5" r="0.6"/><circle cx="646.0" cy="660.9" r="0.7"/><circle cx="660.6" cy="658.1" r="2.0"/><circle cx="655.1" cy="641.2" r="0.6"/><circle cx="659.1" cy="643.3" r="0.7"/><circle cx="663.5" cy="668.9" r="0.5"/><circle cx="644.2" cy="668.3" r="0.6"/><circle cx="677.3" cy="660.8" r="0.5"/><circle cx="655.6" cy="662.5" r="1.5"/><circle cx="659.0" cy="670.7" r="0.6"/><circle cx="665.2" cy="641.3" r="0.6"/><circle cx="650.6" cy="644.9" r="1.0"/><circle cx="647.8" cy="661.4" r="1.3"/><circle cx="673.8" cy="668.4" r="1.2"/><circle cx="681.9" cy="670.8" r="0.6"/><circle cx="650.7" cy="653.3" r="0.5"/><circle cx="658.4" cy="645.9" r="0.6"/><circle cx="657.8" cy="669.2" r="0.6"/><circle cx="656.6" cy="683.5" r="1.7"/><circle cx="667.7" cy="676.8" r="1.0"/><circle cx="676.3" cy="672.3" r="1.2"/><circle cx="662.2" cy="651.9" r="1.3"/><circle cx="662.6" cy="639.1" r="2.0"/><circle cx="666.5" cy="658.0" r="0.5"/><circle cx="655.2" cy="647.6" r="0.5"/><circle cx="659.7" cy="656.0" r="0.5"/><circle cx="666.7" cy="666.5" r="1.8"/><circle cx="658.6" cy="647.4" r="0.7"/><circle cx="662.0" cy="656.8" r="1.3"/><circle cx="663.4" cy="678.5" r="1.7"/><circle cx="666.4" cy="658.9" r="0.6"/><circle cx="675.5" cy="652.2" r="1.9"/><circle cx="665.4" cy="662.4" r="0.8"/><circle cx="659.8" cy="651.1" r="1.0"/><circle cx="654.9" cy="680.2" r="1.1"/><circle cx="674.6" cy="673.1" r="0.6"/><circle cx="675.9" cy="646.2" r="0.5"/><circle cx="683.6" cy="653.0" r="0.5"/><circle cx="655.5" cy="660.4" r="0.6"/><circle cx="682.8" cy="657.6" r="0.6"/><circle cx="668.1" cy="667.0" r="0.9"/><circle cx="659.4" cy="667.5" r="1.6"/><circle cx="673.6" cy="663.8" r="1.4"/><circle cx="658.6" cy="673.0" r="0.5"/><circle cx="661.7" cy="650.3" r="0.6"/><circle cx="669.9" cy="669.9" r="1.0"/><circle cx="661.4" cy="649.7" r="0.5"/></g>
<text x="624.7" y="481.5" font-size="14" font-style="italic" style="fill:#e6dc20" textLength="24.7" lengthAdjust="spacingAndGlyphs">MPZ</text>
<text x="624.7" y="557.2" font-size="14" font-style="italic" style="fill:#e0202c" textLength="36.3" lengthAdjust="spacingAndGlyphs">SOX10</text>
<text x="624.7" y="633.7" font-size="14" font-style="italic" style="fill:#3cc4dc" textLength="25.3" lengthAdjust="spacingAndGlyphs">DHH</text>
<text x="4.4" y="13.4" font-size="23.5" font-weight="bold" class="bd">a</text>
<text x="13.5" y="34.7" font-size="14.4" textLength="65.5" lengthAdjust="spacingAndGlyphs">6–11 PCW</text>
<circle cx="89.8" cy="5.6" r="4.6" fill="#44639f"/>
<text x="100.0" y="9.6" font-size="13.4" textLength="104.0" lengthAdjust="spacingAndGlyphs">Branch B1 (eMN)</text>
<text x="86.0" y="24.6" font-size="13.4" font-style="italic" textLength="92.0" lengthAdjust="spacingAndGlyphs">BNC2/RAMP1/</text>
<text x="86.0" y="40.4" font-size="13.4" font-style="italic" textLength="118.5" lengthAdjust="spacingAndGlyphs">NXPH4/NDUFA4L2</text>
<text x="189.7" y="57.4" font-size="11.5" font-weight="bold" class="bs" textLength="9.6" lengthAdjust="spacingAndGlyphs">B</text>
<circle cx="25.6" cy="72.4" r="4.6" fill="#c97fbf"/>
<text x="34.5" y="76.5" font-size="13.4" textLength="66.5" lengthAdjust="spacingAndGlyphs">Neuroblast</text>
<text x="16.0" y="89.5" font-size="13.4" font-style="italic" textLength="114.3" lengthAdjust="spacingAndGlyphs">DLL3/DLL1/MFNG</text>
<circle cx="6.4" cy="154.0" r="4.6" fill="#2f86c8"/>
<text x="14.5" y="157.7" font-size="13.4" textLength="63.5" lengthAdjust="spacingAndGlyphs">ENCC/glia</text>
<text x="15.2" y="174.6" font-size="13.4" textLength="62.1" lengthAdjust="spacingAndGlyphs">progenitor</text>
<text x="5.5" y="195.3" font-size="13.4" font-style="italic" textLength="45.1" lengthAdjust="spacingAndGlyphs">CRYAB</text>
<text x="53.8" y="188.3" font-size="12.2" font-style="italic" textLength="18.7" lengthAdjust="spacingAndGlyphs">low</text>
<text x="71.2" y="195.3" font-size="13.4" font-style="italic" textLength="4.0" lengthAdjust="spacingAndGlyphs">/</text>
<text x="5.5" y="211.3" font-size="13.4" font-style="italic" textLength="54.5" lengthAdjust="spacingAndGlyphs">PHOX2A</text>
<text x="61.0" y="206.5" font-size="12.2" font-style="italic" textLength="20.8" lengthAdjust="spacingAndGlyphs">low</text>
<text x="5.5" y="225.3" font-size="13.4" font-style="italic" textLength="94.2" lengthAdjust="spacingAndGlyphs">ERBB3/SOX10/</text>
<text x="5.5" y="241.0" font-size="13.4" font-style="italic" textLength="42.2" lengthAdjust="spacingAndGlyphs">FOXD3</text>
<text x="22.4" y="337.1" font-size="13.4" textLength="45.3" lengthAdjust="spacingAndGlyphs">UMAP1</text>
<text transform="translate(12.1,318.2) rotate(-90)" font-size="13.4" textLength="45.0" lengthAdjust="spacingAndGlyphs">UMAP2</text>
<circle cx="136.7" cy="293.3" r="4.6" fill="#d6d6d6"/>
<text x="145.0" y="297.3" font-size="13.4" textLength="34.3" lengthAdjust="spacingAndGlyphs">Glia 1</text>
<text x="134.0" y="313.3" font-size="13.4" font-style="italic" textLength="75.0" lengthAdjust="spacingAndGlyphs">DHH/RXRG/</text>
<text x="134.0" y="330.0" font-size="13.4" font-style="italic" textLength="116.0" lengthAdjust="spacingAndGlyphs">GFRA3/MAL/FGL2</text>
<circle cx="216.0" cy="222.7" r="4.6" fill="#6a3fa5"/>
<text x="222.0" y="220.0" font-size="13.4" textLength="45.5" lengthAdjust="spacingAndGlyphs">Cycling</text>
<text x="222.0" y="236.0" font-size="13.4" textLength="65.0" lengthAdjust="spacingAndGlyphs">neuroblast</text>
<circle cx="199.0" cy="257.7" r="4.6" fill="#9dcbe8"/>
<text x="207.0" y="254.0" font-size="13.4" textLength="45.3" lengthAdjust="spacingAndGlyphs">Cycling</text>
<text x="207.0" y="271.4" font-size="13.4" textLength="64.0" lengthAdjust="spacingAndGlyphs">ENCC/glia</text>
<circle cx="297.3" cy="29.3" r="4.6" fill="#5a7a35"/>
<text x="310.0" y="33.3" font-size="13.4" textLength="105.7" lengthAdjust="spacingAndGlyphs">Branch B2 (eMN)</text>
<text x="302.7" y="48.3" font-size="13.4" font-style="italic" textLength="116.3" lengthAdjust="spacingAndGlyphs">BNC2/PENK/HTR7</text>
<circle cx="324.3" cy="81.7" r="4.6" fill="#1a8f98"/>
<text x="331.7" y="86.0" font-size="13.4" textLength="126.0" lengthAdjust="spacingAndGlyphs">Branch A3 (IPAN/IN)</text>
<text x="317.3" y="102.0" font-size="13.4" font-style="italic" textLength="120.0" lengthAdjust="spacingAndGlyphs">ETV1/NTNG1/GRP/</text>
<text x="334.0" y="119.0" font-size="13.4" font-style="italic" textLength="89.3" lengthAdjust="spacingAndGlyphs">TAC1/RUNX1/</text>
<text x="341.7" y="135.7" font-size="13.4" font-style="italic" textLength="76.6" lengthAdjust="spacingAndGlyphs">ONECUT2/3</text>
<text x="277.2" y="186.8" font-size="12" font-weight="bold" class="bs" textLength="9.6" lengthAdjust="spacingAndGlyphs">A</text>
<circle cx="311.0" cy="184.0" r="4.6" fill="#3cc8c0"/>
<text x="320.3" y="188.0" font-size="13.4" textLength="125.4" lengthAdjust="spacingAndGlyphs">Branch A2 (IPAN/IN)</text>
<text x="305.7" y="203.3" font-size="13.4" font-style="italic" textLength="86.0" lengthAdjust="spacingAndGlyphs">ETV1/NTNG1/</text>
<text x="305.7" y="220.0" font-size="13.4" font-style="italic" textLength="132.0" lengthAdjust="spacingAndGlyphs">GRP/CHRM3/NXPH2</text>
<circle cx="293.0" cy="246.7" r="4.6" fill="#a79bd0"/>
<text x="301.7" y="250.7" font-size="13.4" textLength="100.0" lengthAdjust="spacingAndGlyphs">Branch A1 (iMN)</text>
<text x="288.3" y="267.7" font-size="13.4" font-style="italic" textLength="112.4" lengthAdjust="spacingAndGlyphs">ETV1/GAL/SCGN/</text>
<text x="288.3" y="283.3" font-size="13.4" font-style="italic" textLength="95.7" lengthAdjust="spacingAndGlyphs">NOS1/SPOCK1</text>
<text x="438.2" y="13.0" font-size="23.5" font-weight="bold" class="bd" textLength="13.8" lengthAdjust="spacingAndGlyphs">c</text>
<text x="4.3" y="369.9" font-size="21.8" font-weight="bold" class="bd" textLength="15.4" lengthAdjust="spacingAndGlyphs">b</text>
<text x="12.3" y="399.5" font-size="14.4" textLength="72.0" lengthAdjust="spacingAndGlyphs">12–17 PCW</text>
<circle cx="91.7" cy="411.3" r="4.6" fill="#8a8a30"/>
<text x="99.3" y="415.3" font-size="13.4" textLength="108.0" lengthAdjust="spacingAndGlyphs">Branch B3 (IPAN)</text>
<text x="92.7" y="428.7" font-size="13.4" font-style="italic" textLength="119.6" lengthAdjust="spacingAndGlyphs">BNC2/DLX3/DGKG</text>
<circle cx="32.0" cy="450.7" r="4.6" fill="#8cc63f"/>
<text x="43.3" y="454.7" font-size="13.4" textLength="64.4" lengthAdjust="spacingAndGlyphs">Branch B2</text>
<text x="42.7" y="471.0" font-size="13.4" textLength="36.3" lengthAdjust="spacingAndGlyphs">(eMN)</text>
<circle cx="14.0" cy="505.3" r="4.6" fill="#43609c"/>
<text x="23.3" y="509.7" font-size="13.4" textLength="64.0" lengthAdjust="spacingAndGlyphs">Branch B1</text>
<text x="22.7" y="526.0" font-size="13.4" textLength="36.6" lengthAdjust="spacingAndGlyphs">(eMN)</text>
<text x="96.4" y="520.5" font-size="11.5" font-weight="bold" class="bs" textLength="9.6" lengthAdjust="spacingAndGlyphs">B</text>
<circle cx="56.7" cy="587.0" r="4.6" fill="#cc7fc0"/>
<text x="65.7" y="591.3" font-size="13.4" textLength="66.6" lengthAdjust="spacingAndGlyphs">Neuroblast</text>
<circle cx="30.0" cy="636.3" r="4.6" fill="#2f86c8"/>
<text x="40.0" y="641.0" font-size="13.4" textLength="64.0" lengthAdjust="spacingAndGlyphs">ENCC/glia</text>
<text x="40.0" y="657.3" font-size="13.4" textLength="62.7" lengthAdjust="spacingAndGlyphs">progenitor</text>
<text x="20.5" y="719.4" font-size="13.4" textLength="45.4" lengthAdjust="spacingAndGlyphs">UMAP1</text>
<text transform="translate(10.6,699.5) rotate(-90)" font-size="13.4" textLength="45.5" lengthAdjust="spacingAndGlyphs">UMAP2</text>
<circle cx="240.0" cy="417.0" r="4.6" fill="#a79bd0"/>
<text x="247.7" y="421.3" font-size="13.4" textLength="100.0" lengthAdjust="spacingAndGlyphs">Branch A1 (iMN)</text>
<circle cx="288.3" cy="438.0" r="4.6" fill="#3a9070"/>
<text x="298.3" y="442.0" font-size="13.4" textLength="88.4" lengthAdjust="spacingAndGlyphs">Branch A4 (IN)</text>
<text x="285.7" y="456.3" font-size="13.4" font-style="italic" textLength="113.3" lengthAdjust="spacingAndGlyphs">ETV1/GAL/SCGN/</text>
<text x="286.7" y="473.0" font-size="13.4" font-style="italic" textLength="111.0" lengthAdjust="spacingAndGlyphs">GCGR/NEUROD6</text>
<text x="439.6" y="461.5" font-size="21.8" font-weight="bold" class="bd" textLength="15.4" lengthAdjust="spacingAndGlyphs">d</text>
<text x="230.6" y="479.2" font-size="12" font-weight="bold" class="bs" textLength="9.4" lengthAdjust="spacingAndGlyphs">A</text>
<circle cx="271.0" cy="511.0" r="4.6" fill="#9dcbe8"/>
<text x="220.0" y="512.7" font-size="13.4" textLength="45.0" lengthAdjust="spacingAndGlyphs">Cycling</text>
<text x="220.0" y="529.7" font-size="13.4" textLength="64.0" lengthAdjust="spacingAndGlyphs">ENCC/glia</text>
<circle cx="359.0" cy="516.3" r="4.6" fill="#d6d6d6"/>
<text x="368.3" y="521.0" font-size="13.4" textLength="34.4" lengthAdjust="spacingAndGlyphs">Glia 1</text>
<text x="351.7" y="537.7" font-size="13.4" font-style="italic" textLength="76.0" lengthAdjust="spacingAndGlyphs">DHH/RXRG/</text>
<text x="351.7" y="554.3" font-size="13.4" font-style="italic" textLength="82.6" lengthAdjust="spacingAndGlyphs">GFRA3/MAL/</text>
<text x="351.7" y="570.3" font-size="13.4" font-style="italic" textLength="32.3" lengthAdjust="spacingAndGlyphs">FGL2</text>
<circle cx="363.3" cy="595.3" r="4.6" fill="#cfe6a5"/>
<text x="371.7" y="600.3" font-size="13.4" textLength="35.0" lengthAdjust="spacingAndGlyphs">Glia 2</text>
<text x="359.0" y="615.3" font-size="13.4" font-style="italic" textLength="77.0" lengthAdjust="spacingAndGlyphs">ELN/EVA1A/</text>
<text x="359.0" y="631.3" font-size="13.4" font-style="italic" textLength="47.7" lengthAdjust="spacingAndGlyphs">BMP8B</text>
<circle cx="284.0" cy="658.0" r="4.6" fill="#8c8c8c"/>
<text x="293.3" y="663.0" font-size="13.4" textLength="111.0" lengthAdjust="spacingAndGlyphs">Differentiating glia</text>
<text x="275.0" y="678.0" font-size="13.4" font-style="italic" textLength="145.0" lengthAdjust="spacingAndGlyphs">MPZ/CRYAB/COL20A1</text>
<circle cx="229.3" cy="692.0" r="4.6" fill="#f5c518"/>
<text x="236.7" y="696.3" font-size="13.4" textLength="36.0" lengthAdjust="spacingAndGlyphs">Glia 3</text>
<text x="221.0" y="712.0" font-size="13.4" font-style="italic" textLength="131.3" lengthAdjust="spacingAndGlyphs">APOE/BCAN/PAQR6</text>
<path d="M17.7 263.59999999999997V322H76.0" fill="none" stroke="#111" stroke-width="1.45" stroke-linejoin="miter"/><path d="M17.7 252.1L24.049999999999997 267.7L17.7 264.09999999999997L11.35 267.7Z" fill="#111"/><path d="M87.5 322L71.9 315.65L75.5 322L71.9 328.35Z" fill="#111"/>
<path d="M16.3 645.7V703.7H74.9" fill="none" stroke="#111" stroke-width="1.45" stroke-linejoin="miter"/><path d="M16.3 634.2L22.65 649.8000000000001L16.3 646.2L9.950000000000001 649.8000000000001Z" fill="#111"/><path d="M86.4 703.7L70.80000000000001 697.35L74.4 703.7L70.80000000000001 710.0500000000001Z" fill="#111"/>
<rect x="84.10000000000001" y="755.4000000000001" width="561.2" height="193.6" fill="#eef2f6"/>
<rect x="84.80" y="756.10" width="11.94" height="14.05" fill="#a3cce3"/>
<rect x="97.54" y="756.10" width="11.94" height="14.05" fill="#d3e6f0"/>
<rect x="110.28" y="756.10" width="11.94" height="14.05" fill="#3e87c0"/>
<rect x="123.02" y="756.10" width="11.94" height="14.05" fill="#3e87c0"/>
<rect x="135.76" y="756.10" width="11.94" height="14.05" fill="#e7eff3"/>
<rect x="148.50" y="756.10" width="11.94" height="14.05" fill="#f7f4f1"/>
<rect x="161.24" y="756.10" width="11.94" height="14.05" fill="#fbe3d5"/>
<rect x="173.98" y="756.10" width="11.94" height="14.05" fill="#f9ede6"/>
<rect x="186.72" y="756.10" width="11.94" height="14.05" fill="#3e87c0"/>
<rect x="199.46" y="756.10" width="11.94" height="14.05" fill="#3e87c0"/>
<rect x="212.20" y="756.10" width="11.94" height="14.05" fill="#3e87c0"/>
<rect x="224.94" y="756.10" width="11.94" height="14.05" fill="#468dc3"/>
<rect x="237.68" y="756.10" width="11.94" height="14.05" fill="#a3cce3"/>
<rect x="250.42" y="756.10" width="11.94" height="14.05" fill="#92c4de"/>
<rect x="263.16" y="756.10" width="11.94" height="14.05" fill="#7eb5d7"/>
<rect x="275.90" y="756.10" width="11.94" height="14.05" fill="#7eb5d7"/>
<rect x="288.64" y="756.10" width="11.94" height="14.05" fill="#a3cce3"/>
<rect x="301.38" y="756.10" width="11.94" height="14.05" fill="#add2e6"/>
<rect x="314.12" y="756.10" width="11.94" height="14.05" fill="#a3cce3"/>
<rect x="326.86" y="756.10" width="11.94" height="14.05" fill="#bad9e9"/>
<rect x="339.60" y="756.10" width="11.94" height="14.05" fill="#5396c8"/>
<rect x="352.34" y="756.10" width="11.94" height="14.05" fill="#347bb8"/>
<rect x="365.08" y="756.10" width="11.94" height="14.05" fill="#8abfdb"/>
<rect x="377.82" y="756.10" width="11.94" height="14.05" fill="#7eb5d7"/>
<rect x="390.56" y="756.10" width="11.94" height="14.05" fill="#1c4a87"/>
<rect x="403.30" y="756.10" width="11.94" height="14.05" fill="#1d5090"/>
<rect x="416.04" y="756.10" width="11.94" height="14.05" fill="#215fa4"/>
<rect x="428.78" y="756.10" width="11.94" height="14.05" fill="#215fa4"/>
<rect x="441.52" y="756.10" width="11.94" height="14.05" fill="#1b3566"/>
<rect x="454.26" y="756.10" width="11.94" height="14.05" fill="#1b315f"/>
<rect x="467.00" y="756.10" width="11.94" height="14.05" fill="#1b3566"/>
<rect x="479.74" y="756.10" width="11.94" height="14.05" fill="#1b3566"/>
<rect x="492.48" y="756.10" width="11.94" height="14.05" fill="#215fa4"/>
<rect x="505.22" y="756.10" width="11.94" height="14.05" fill="#1d5ba0"/>
<rect x="517.96" y="756.10" width="11.94" height="14.05" fill="#1c4a87"/>
<rect x="530.70" y="756.10" width="11.94" height="14.05" fill="#1d5ba0"/>
<rect x="543.44" y="756.10" width="11.94" height="14.05" fill="#1c4680"/>
<rect x="556.18" y="756.10" width="11.94" height="14.05" fill="#1c4680"/>
<rect x="568.92" y="756.10" width="11.94" height="14.05" fill="#1c4279"/>
<rect x="581.66" y="756.10" width="11.94" height="14.05" fill="#1c4a87"/>
<rect x="594.40" y="756.10" width="11.94" height="14.05" fill="#215fa4"/>
<rect x="607.14" y="756.10" width="11.94" height="14.05" fill="#1b315f"/>
<rect x="619.88" y="756.10" width="11.94" height="14.05" fill="#1d5ba0"/>
<rect x="632.62" y="756.10" width="11.94" height="14.05" fill="#2566a8"/>
<rect x="84.80" y="770.95" width="11.94" height="14.05" fill="#a3cce3"/>
<rect x="97.54" y="770.95" width="11.94" height="14.05" fill="#92c4de"/>
<rect x="110.28" y="770.95" width="11.94" height="14.05" fill="#a3cce3"/>
<rect x="123.02" y="770.95" width="11.94" height="14.05" fill="#add2e6"/>
<rect x="135.76" y="770.95" width="11.94" height="14.05" fill="#a3cce3"/>
<rect x="148.50" y="770.95" width="11.94" height="14.05" fill="#a3cce3"/>
<rect x="161.24" y="770.95" width="11.94" height="14.05" fill="#68a6cf"/>
<rect x="173.98" y="770.95" width="11.94" height="14.05" fill="#f8f1ed"/>
<rect x="186.72" y="770.95" width="11.94" height="14.05" fill="#d7e8f1"/>
<rect x="199.46" y="770.95" width="11.94" height="14.05" fill="#d7e8f1"/>
<rect x="212.20" y="770.95" width="11.94" height="14.05" fill="#fcdfce"/>
<rect x="224.94" y="770.95" width="11.94" height="14.05" fill="#fbe3d5"/>
<rect x="237.68" y="770.95" width="11.94" height="14.05" fill="#ddeaf2"/>
<rect x="250.42" y="770.95" width="11.94" height="14.05" fill="#f4f5f5"/>
<rect x="263.16" y="770.95" width="11.94" height="14.05" fill="#f7f4f1"/>
<rect x="275.90" y="770.95" width="11.94" height="14.05" fill="#fbe3d5"/>
<rect x="288.64" y="770.95" width="11.94" height="14.05" fill="#d3e6f0"/>
<rect x="301.38" y="770.95" width="11.94" height="14.05" fill="#d7e8f1"/>
<rect x="314.12" y="770.95" width="11.94" height="14.05" fill="#2a6cad"/>
<rect x="326.86" y="770.95" width="11.94" height="14.05" fill="#215fa4"/>
<rect x="339.60" y="770.95" width="11.94" height="14.05" fill="#347bb8"/>
<rect x="352.34" y="770.95" width="11.94" height="14.05" fill="#468dc3"/>
<rect x="365.08" y="770.95" width="11.94" height="14.05" fill="#1d569a"/>
<rect x="377.82" y="770.95" width="11.94" height="14.05" fill="#1d5090"/>
<rect x="390.56" y="770.95" width="11.94" height="14.05" fill="#1c3b6f"/>
<rect x="403.30" y="770.95" width="11.94" height="14.05" fill="#1c3b6f"/>
<rect x="416.04" y="770.95" width="11.94" height="14.05" fill="#1d5ba0"/>
<rect x="428.78" y="770.95" width="11.94" height="14.05" fill="#2566a8"/>
<rect x="441.52" y="770.95" width="11.94" height="14.05" fill="#1b3566"/>
<rect x="454.26" y="770.95" width="11.94" height="14.05" fill="#1b315f"/>
<rect x="467.00" y="770.95" width="11.94" height="14.05" fill="#1b3566"/>
<rect x="479.74" y="770.95" width="11.94" height="14.05" fill="#1b3769"/>
<rect x="492.48" y="770.95" width="11.94" height="14.05" fill="#3e87c0"/>
<rect x="505.22" y="770.95" width="11.94" height="14.05" fill="#2566a8"/>
<rect x="517.96" y="770.95" width="11.94" height="14.05" fill="#1b3769"/>
<rect x="530.70" y="770.95" width="11.94" height="14.05" fill="#1c3b6f"/>
<rect x="543.44" y="770.95" width="11.94" height="14.05" fill="#1c3b6f"/>
<rect x="556.18" y="770.95" width="11.94" height="14.05" fill="#1c4279"/>
<rect x="568.92" y="770.95" width="11.94" height="14.05" fill="#1b3769"/>
<rect x="581.66" y="770.95" width="11.94" height="14.05" fill="#1b3769"/>
<rect x="594.40" y="770.95" width="11.94" height="14.05" fill="#1d569a"/>
<rect x="607.14" y="770.95" width="11.94" height="14.05" fill="#1b315f"/>
<rect x="619.88" y="770.95" width="11.94" height="14.05" fill="#1d569a"/>
<rect x="632.62" y="770.95" width="11.94" height="14.05" fill="#60a0cc"/>
<rect x="84.80" y="785.80" width="11.94" height="14.05" fill="#fae9df"/>
<rect x="97.54" y="785.80" width="11.94" height="14.05" fill="#fcdfce"/>
<rect x="110.28" y="785.80" width="11.94" height="14.05" fill="#add2e6"/>
<rect x="123.02" y="785.80" width="11.94" height="14.05" fill="#ddeaf2"/>
<rect x="135.76" y="785.80" width="11.94" height="14.05" fill="#f4f5f5"/>
<rect x="148.50" y="785.80" width="11.94" height="14.05" fill="#f9ede6"/>
<rect x="161.24" y="785.80" width="11.94" height="14.05" fill="#ddeaf2"/>
<rect x="173.98" y="785.80" width="11.94" height="14.05" fill="#fbe6da"/>
<rect x="186.72" y="785.80" width="11.94" height="14.05" fill="#f4a582"/>
<rect x="199.46" y="785.80" width="11.94" height="14.05" fill="#e27b61"/>
<rect x="212.20" y="785.80" width="11.94" height="14.05" fill="#e98c6f"/>
<rect x="224.94" y="785.80" width="11.94" height="14.05" fill="#bc2b34"/>
<rect x="237.68" y="785.80" width="11.94" height="14.05" fill="#fbe6da"/>
<rect x="250.42" y="785.80" width="11.94" height="14.05" fill="#fcd6c1"/>
<rect x="263.16" y="785.80" width="11.94" height="14.05" fill="#f5ad8c"/>
<rect x="275.90" y="785.80" width="11.94" height="14.05" fill="#f6b293"/>
<rect x="288.64" y="785.80" width="11.94" height="14.05" fill="#ddeaf2"/>
<rect x="301.38" y="785.80" width="11.94" height="14.05" fill="#f9ede6"/>
<rect x="314.12" y="785.80" width="11.94" height="14.05" fill="#a3cce3"/>
<rect x="326.86" y="785.80" width="11.94" height="14.05" fill="#bad9e9"/>
<rect x="339.60" y="785.80" width="11.94" height="14.05" fill="#bad9e9"/>
<rect x="352.34" y="785.80" width="11.94" height="14.05" fill="#ddeaf2"/>
<rect x="365.08" y="785.80" width="11.94" height="14.05" fill="#a3cce3"/>
<rect x="377.82" y="785.80" width="11.94" height="14.05" fill="#68a6cf"/>
<rect x="390.56" y="785.80" width="11.94" height="14.05" fill="#5396c8"/>
<rect x="403.30" y="785.80" width="11.94" height="14.05" fill="#3982bd"/>
<rect x="416.04" y="785.80" width="11.94" height="14.05" fill="#add2e6"/>
<rect x="428.78" y="785.80" width="11.94" height="14.05" fill="#92c4de"/>
<rect x="441.52" y="785.80" width="11.94" height="14.05" fill="#1d5090"/>
<rect x="454.26" y="785.80" width="11.94" height="14.05" fill="#1c4680"/>
<rect x="467.00" y="785.80" width="11.94" height="14.05" fill="#1d5ba0"/>
<rect x="479.74" y="785.80" width="11.94" height="14.05" fill="#1d5090"/>
<rect x="492.48" y="785.80" width="11.94" height="14.05" fill="#bad9e9"/>
<rect x="505.22" y="785.80" width="11.94" height="14.05" fill="#a3cce3"/>
<rect x="517.96" y="785.80" width="11.94" height="14.05" fill="#468dc3"/>
<rect x="530.70" y="785.80" width="11.94" height="14.05" fill="#3982bd"/>
<rect x="543.44" y="785.80" width="11.94" height="14.05" fill="#cee4ef"/>
<rect x="556.18" y="785.80" width="11.94" height="14.05" fill="#d3e6f0"/>
<rect x="568.92" y="785.80" width="11.94" height="14.05" fill="#2d70b0"/>
<rect x="581.66" y="785.80" width="11.94" height="14.05" fill="#468dc3"/>
<rect x="594.40" y="785.80" width="11.94" height="14.05" fill="#347bb8"/>
<rect x="607.14" y="785.80" width="11.94" height="14.05" fill="#1d5ba0"/>
<rect x="619.88" y="785.80" width="11.94" height="14.05" fill="#a3cce3"/>
<rect x="632.62" y="785.80" width="11.94" height="14.05" fill="#5396c8"/>
<rect x="84.80" y="800.65" width="11.94" height="14.05" fill="#e7eff3"/>
<rect x="97.54" y="800.65" width="11.94" height="14.05" fill="#eaf0f3"/>
<rect x="110.28" y="800.65" width="11.94" height="14.05" fill="#c4deec"/>
<rect x="123.02" y="800.65" width="11.94" height="14.05" fill="#99c7e0"/>
<rect x="135.76" y="800.65" width="11.94" height="14.05" fill="#d3e6f0"/>
<rect x="148.50" y="800.65" width="11.94" height="14.05" fill="#e7eff3"/>
<rect x="161.24" y="800.65" width="11.94" height="14.05" fill="#f8f0ea"/>
<rect x="173.98" y="800.65" width="11.94" height="14.05" fill="#ddeaf2"/>
<rect x="186.72" y="800.65" width="11.94" height="14.05" fill="#eaf0f3"/>
<rect x="199.46" y="800.65" width="11.94" height="14.05" fill="#d3e6f0"/>
<rect x="212.20" y="800.65" width="11.94" height="14.05" fill="#7eb5d7"/>
<rect x="224.94" y="800.65" width="11.94" height="14.05" fill="#92c4de"/>
<rect x="237.68" y="800.65" width="11.94" height="14.05" fill="#ddeaf2"/>
<rect x="250.42" y="800.65" width="11.94" height="14.05" fill="#fcdfce"/>
<rect x="263.16" y="800.65" width="11.94" height="14.05" fill="#8abfdb"/>
<rect x="275.90" y="800.65" width="11.94" height="14.05" fill="#71acd2"/>
<rect x="288.64" y="800.65" width="11.94" height="14.05" fill="#d3e6f0"/>
<rect x="301.38" y="800.65" width="11.94" height="14.05" fill="#d7e8f1"/>
<rect x="314.12" y="800.65" width="11.94" height="14.05" fill="#ddeaf2"/>
<rect x="326.86" y="800.65" width="11.94" height="14.05" fill="#f4f5f5"/>
<rect x="339.60" y="800.65" width="11.94" height="14.05" fill="#cee4ef"/>
<rect x="352.34" y="800.65" width="11.94" height="14.05" fill="#e3edf2"/>
<rect x="365.08" y="800.65" width="11.94" height="14.05" fill="#d7e8f1"/>
<rect x="377.82" y="800.65" width="11.94" height="14.05" fill="#b4d5e8"/>
<rect x="390.56" y="800.65" width="11.94" height="14.05" fill="#bad9e9"/>
<rect x="403.30" y="800.65" width="11.94" height="14.05" fill="#92c4de"/>
<rect x="416.04" y="800.65" width="11.94" height="14.05" fill="#e3edf2"/>
<rect x="428.78" y="800.65" width="11.94" height="14.05" fill="#ddeaf2"/>
<rect x="441.52" y="800.65" width="11.94" height="14.05" fill="#1d5090"/>
<rect x="454.26" y="800.65" width="11.94" height="14.05" fill="#1c4279"/>
<rect x="467.00" y="800.65" width="11.94" height="14.05" fill="#1c4680"/>
<rect x="479.74" y="800.65" width="11.94" height="14.05" fill="#1c4279"/>
<rect x="492.48" y="800.65" width="11.94" height="14.05" fill="#e3edf2"/>
<rect x="505.22" y="800.65" width="11.94" height="14.05" fill="#92c4de"/>
<rect x="517.96" y="800.65" width="11.94" height="14.05" fill="#2d70b0"/>
<rect x="530.70" y="800.65" width="11.94" height="14.05" fill="#347bb8"/>
<rect x="543.44" y="800.65" width="11.94" height="14.05" fill="#215fa4"/>
<rect x="556.18" y="800.65" width="11.94" height="14.05" fill="#1d5ba0"/>
<rect x="568.92" y="800.65" width="11.94" height="14.05" fill="#215fa4"/>
<rect x="581.66" y="800.65" width="11.94" height="14.05" fill="#2a6cad"/>
<rect x="594.40" y="800.65" width="11.94" height="14.05" fill="#1c4680"/>
<rect x="607.14" y="800.65" width="11.94" height="14.05" fill="#1b315f"/>
<rect x="619.88" y="800.65" width="11.94" height="14.05" fill="#2566a8"/>
<rect x="632.62" y="800.65" width="11.94" height="14.05" fill="#68a6cf"/>
<rect x="84.80" y="815.50" width="11.94" height="14.05" fill="#f8bb9e"/>
<rect x="97.54" y="815.50" width="11.94" height="14.05" fill="#e27b61"/>
<rect x="110.28" y="815.50" width="11.94" height="14.05" fill="#99c7e0"/>
<rect x="123.02" y="815.50" width="11.94" height="14.05" fill="#add2e6"/>
<rect x="135.76" y="815.50" width="11.94" height="14.05" fill="#f8bb9e"/>
<rect x="148.50" y="815.50" width="11.94" height="14.05" fill="#e58267"/>
<rect x="161.24" y="815.50" width="11.94" height="14.05" fill="#fac8af"/>
<rect x="173.98" y="815.50" width="11.94" height="14.05" fill="#f5ad8c"/>
<rect x="186.72" y="815.50" width="11.94" height="14.05" fill="#fcd6c1"/>
<rect x="199.46" y="815.50" width="11.94" height="14.05" fill="#f5ad8c"/>
<rect x="212.20" y="815.50" width="11.94" height="14.05" fill="#99c7e0"/>
<rect x="224.94" y="815.50" width="11.94" height="14.05" fill="#c4deec"/>
<rect x="237.68" y="815.50" width="11.94" height="14.05" fill="#d3e6f0"/>
<rect x="250.42" y="815.50" width="11.94" height="14.05" fill="#f4f5f5"/>
<rect x="263.16" y="815.50" width="11.94" height="14.05" fill="#d3e6f0"/>
<rect x="275.90" y="815.50" width="11.94" height="14.05" fill="#fbe6da"/>
<rect x="288.64" y="815.50" width="11.94" height="14.05" fill="#fae9df"/>
<rect x="301.38" y="815.50" width="11.94" height="14.05" fill="#fcd6c1"/>
<rect x="314.12" y="815.50" width="11.94" height="14.05" fill="#fae9df"/>
<rect x="326.86" y="815.50" width="11.94" height="14.05" fill="#f4a582"/>
<rect x="339.60" y="815.50" width="11.94" height="14.05" fill="#7eb5d7"/>
<rect x="352.34" y="815.50" width="11.94" height="14.05" fill="#c4deec"/>
<rect x="365.08" y="815.50" width="11.94" height="14.05" fill="#d7e8f1"/>
<rect x="377.82" y="815.50" width="11.94" height="14.05" fill="#fac8af"/>
<rect x="390.56" y="815.50" width="11.94" height="14.05" fill="#2566a8"/>
<rect x="403.30" y="815.50" width="11.94" height="14.05" fill="#3e87c0"/>
<rect x="416.04" y="815.50" width="11.94" height="14.05" fill="#2d70b0"/>
<rect x="428.78" y="815.50" width="11.94" height="14.05" fill="#468dc3"/>
<rect x="441.52" y="815.50" width="11.94" height="14.05" fill="#1c4076"/>
<rect x="454.26" y="815.50" width="11.94" height="14.05" fill="#1c4076"/>
<rect x="467.00" y="815.50" width="11.94" height="14.05" fill="#1c4680"/>
<rect x="479.74" y="815.50" width="11.94" height="14.05" fill="#1c4680"/>
<rect x="492.48" y="815.50" width="11.94" height="14.05" fill="#3982bd"/>
<rect x="505.22" y="815.50" width="11.94" height="14.05" fill="#7eb5d7"/>
<rect x="517.96" y="815.50" width="11.94" height="14.05" fill="#2d70b0"/>
<rect x="530.70" y="815.50" width="11.94" height="14.05" fill="#7eb5d7"/>
<rect x="543.44" y="815.50" width="11.94" height="14.05" fill="#1d5ba0"/>
<rect x="556.18" y="815.50" width="11.94" height="14.05" fill="#1c4a87"/>
<rect x="568.92" y="815.50" width="11.94" height="14.05" fill="#1c4a87"/>
<rect x="581.66" y="815.50" width="11.94" height="14.05" fill="#215fa4"/>
<rect x="594.40" y="815.50" width="11.94" height="14.05" fill="#1d5ba0"/>
<rect x="607.14" y="815.50" width="11.94" height="14.05" fill="#1b315f"/>
<rect x="619.88" y="815.50" width="11.94" height="14.05" fill="#2566a8"/>
<rect x="632.62" y="815.50" width="11.94" height="14.05" fill="#347bb8"/>
<rect x="84.80" y="830.35" width="11.94" height="14.05" fill="#1d5090"/>
<rect x="97.54" y="830.35" width="11.94" height="14.05" fill="#1d5ba0"/>
<rect x="110.28" y="830.35" width="11.94" height="14.05" fill="#1b315f"/>
<rect x="123.02" y="830.35" width="11.94" height="14.05" fill="#1b3566"/>
<rect x="135.76" y="830.35" width="11.94" height="14.05" fill="#1d5090"/>
<rect x="148.50" y="830.35" width="11.94" height="14.05" fill="#1d5ba0"/>
<rect x="161.24" y="830.35" width="11.94" height="14.05" fill="#1b315f"/>
<rect x="173.98" y="830.35" width="11.94" height="14.05" fill="#1b3566"/>
<rect x="186.72" y="830.35" width="11.94" height="14.05" fill="#1b3566"/>
<rect x="199.46" y="830.35" width="11.94" height="14.05" fill="#1b315f"/>
<rect x="212.20" y="830.35" width="11.94" height="14.05" fill="#1b315f"/>
<rect x="224.94" y="830.35" width="11.94" height="14.05" fill="#1b315f"/>
<rect x="237.68" y="830.35" width="11.94" height="14.05" fill="#1c3b6f"/>
<rect x="250.42" y="830.35" width="11.94" height="14.05" fill="#1b3769"/>
<rect x="263.16" y="830.35" width="11.94" height="14.05" fill="#1b315f"/>
<rect x="275.90" y="830.35" width="11.94" height="14.05" fill="#1b3566"/>
<rect x="288.64" y="830.35" width="11.94" height="14.05" fill="#1b315f"/>
<rect x="301.38" y="830.35" width="11.94" height="14.05" fill="#1b315f"/>
<rect x="314.12" y="830.35" width="11.94" height="14.05" fill="#347bb8"/>
<rect x="326.86" y="830.35" width="11.94" height="14.05" fill="#5396c8"/>
<rect x="339.60" y="830.35" width="11.94" height="14.05" fill="#215fa4"/>
<rect x="352.34" y="830.35" width="11.94" height="14.05" fill="#2d70b0"/>
<rect x="365.08" y="830.35" width="11.94" height="14.05" fill="#1d5ba0"/>
<rect x="377.82" y="830.35" width="11.94" height="14.05" fill="#2566a8"/>
<rect x="390.56" y="830.35" width="11.94" height="14.05" fill="#ddeaf2"/>
<rect x="403.30" y="830.35" width="11.94" height="14.05" fill="#fbe3d5"/>
<rect x="416.04" y="830.35" width="11.94" height="14.05" fill="#d7e8f1"/>
<rect x="428.78" y="830.35" width="11.94" height="14.05" fill="#e3edf2"/>
<rect x="441.52" y="830.35" width="11.94" height="14.05" fill="#d7e8f1"/>
<rect x="454.26" y="830.35" width="11.94" height="14.05" fill="#ddeaf2"/>
<rect x="467.00" y="830.35" width="11.94" height="14.05" fill="#f0f3f4"/>
<rect x="479.74" y="830.35" width="11.94" height="14.05" fill="#ecf1f4"/>
<rect x="492.48" y="830.35" width="11.94" height="14.05" fill="#fcd6c1"/>
<rect x="505.22" y="830.35" width="11.94" height="14.05" fill="#fbe3d5"/>
<rect x="517.96" y="830.35" width="11.94" height="14.05" fill="#1c3b6f"/>
<rect x="530.70" y="830.35" width="11.94" height="14.05" fill="#1c4680"/>
<rect x="543.44" y="830.35" width="11.94" height="14.05" fill="#1c4a87"/>
<rect x="556.18" y="830.35" width="11.94" height="14.05" fill="#1d5ba0"/>
<rect x="568.92" y="830.35" width="11.94" height="14.05" fill="#1d5ba0"/>
<rect x="581.66" y="830.35" width="11.94" height="14.05" fill="#2d70b0"/>
<rect x="594.40" y="830.35" width="11.94" height="14.05" fill="#3982bd"/>
<rect x="607.14" y="830.35" width="11.94" height="14.05" fill="#1d5ba0"/>
<rect x="619.88" y="830.35" width="11.94" height="14.05" fill="#1d5ba0"/>
<rect x="632.62" y="830.35" width="11.94" height="14.05" fill="#1b3566"/>
<rect x="84.80" y="845.20" width="11.94" height="14.05" fill="#1c4680"/>
<rect x="97.54" y="845.20" width="11.94" height="14.05" fill="#1c4279"/>
<rect x="110.28" y="845.20" width="11.94" height="14.05" fill="#1c4680"/>
<rect x="123.02" y="845.20" width="11.94" height="14.05" fill="#1c4680"/>
<rect x="135.76" y="845.20" width="11.94" height="14.05" fill="#1c4680"/>
<rect x="148.50" y="845.20" width="11.94" height="14.05" fill="#1c4279"/>
<rect x="161.24" y="845.20" width="11.94" height="14.05" fill="#1d5090"/>
<rect x="173.98" y="845.20" width="11.94" height="14.05" fill="#1d569a"/>
<rect x="186.72" y="845.20" width="11.94" height="14.05" fill="#468dc3"/>
<rect x="199.46" y="845.20" width="11.94" height="14.05" fill="#3e87c0"/>
<rect x="212.20" y="845.20" width="11.94" height="14.05" fill="#468dc3"/>
<rect x="224.94" y="845.20" width="11.94" height="14.05" fill="#3982bd"/>
<rect x="237.68" y="845.20" width="11.94" height="14.05" fill="#1d5090"/>
<rect x="250.42" y="845.20" width="11.94" height="14.05" fill="#1d569a"/>
<rect x="263.16" y="845.20" width="11.94" height="14.05" fill="#2d70b0"/>
<rect x="275.90" y="845.20" width="11.94" height="14.05" fill="#3e87c0"/>
<rect x="288.64" y="845.20" width="11.94" height="14.05" fill="#1d5090"/>
<rect x="301.38" y="845.20" width="11.94" height="14.05" fill="#1d569a"/>
<rect x="314.12" y="845.20" width="11.94" height="14.05" fill="#1c3b6f"/>
<rect x="326.86" y="845.20" width="11.94" height="14.05" fill="#1c3b6f"/>
<rect x="339.60" y="845.20" width="11.94" height="14.05" fill="#1c3b6f"/>
<rect x="352.34" y="845.20" width="11.94" height="14.05" fill="#1c4076"/>
<rect x="365.08" y="845.20" width="11.94" height="14.05" fill="#1b3769"/>
<rect x="377.82" y="845.20" width="11.94" height="14.05" fill="#1b3566"/>
<rect x="390.56" y="845.20" width="11.94" height="14.05" fill="#1b3566"/>
<rect x="403.30" y="845.20" width="11.94" height="14.05" fill="#1b3769"/>
<rect x="416.04" y="845.20" width="11.94" height="14.05" fill="#1c3b6f"/>
<rect x="428.78" y="845.20" width="11.94" height="14.05" fill="#1c4279"/>
<rect x="441.52" y="845.20" width="11.94" height="14.05" fill="#1b3566"/>
<rect x="454.26" y="845.20" width="11.94" height="14.05" fill="#1b3566"/>
<rect x="467.00" y="845.20" width="11.94" height="14.05" fill="#1b3769"/>
<rect x="479.74" y="845.20" width="11.94" height="14.05" fill="#1b3769"/>
<rect x="492.48" y="845.20" width="11.94" height="14.05" fill="#1c3d73"/>
<rect x="505.22" y="845.20" width="11.94" height="14.05" fill="#1b396c"/>
<rect x="517.96" y="845.20" width="11.94" height="14.05" fill="#1b3566"/>
<rect x="530.70" y="845.20" width="11.94" height="14.05" fill="#1b3769"/>
<rect x="543.44" y="845.20" width="11.94" height="14.05" fill="#1b3566"/>
<rect x="556.18" y="845.20" width="11.94" height="14.05" fill="#1b315f"/>
<rect x="568.92" y="845.20" width="11.94" height="14.05" fill="#1b3769"/>
<rect x="581.66" y="845.20" width="11.94" height="14.05" fill="#1c3b6f"/>
<rect x="594.40" y="845.20" width="11.94" height="14.05" fill="#1c3b6f"/>
<rect x="607.14" y="845.20" width="11.94" height="14.05" fill="#1b3769"/>
<rect x="619.88" y="845.20" width="11.94" height="14.05" fill="#1c3b6f"/>
<rect x="632.62" y="845.20" width="11.94" height="14.05" fill="#1b315f"/>
<rect x="84.80" y="860.05" width="11.94" height="14.05" fill="#1b315f"/>
<rect x="97.54" y="860.05" width="11.94" height="14.05" fill="#1b315f"/>
<rect x="110.28" y="860.05" width="11.94" height="14.05" fill="#1b315f"/>
<rect x="123.02" y="860.05" width="11.94" height="14.05" fill="#1b315f"/>
<rect x="135.76" y="860.05" width="11.94" height="14.05" fill="#1b315f"/>
<rect x="148.50" y="860.05" width="11.94" height="14.05" fill="#1b315f"/>
<rect x="161.24" y="860.05" width="11.94" height="14.05" fill="#1b315f"/>
<rect x="173.98" y="860.05" width="11.94" height="14.05" fill="#1b315f"/>
<rect x="186.72" y="860.05" width="11.94" height="14.05" fill="#1b315f"/>
<rect x="199.46" y="860.05" width="11.94" height="14.05" fill="#1b315f"/>
<rect x="212.20" y="860.05" width="11.94" height="14.05" fill="#1b315f"/>
<rect x="224.94" y="860.05" width="11.94" height="14.05" fill="#1b315f"/>
<rect x="237.68" y="860.05" width="11.94" height="14.05" fill="#1b315f"/>
<rect x="250.42" y="860.05" width="11.94" height="14.05" fill="#1b315f"/>
<rect x="263.16" y="860.05" width="11.94" height="14.05" fill="#1b315f"/>
<rect x="275.90" y="860.05" width="11.94" height="14.05" fill="#1b315f"/>
<rect x="288.64" y="860.05" width="11.94" height="14.05" fill="#1b315f"/>
<rect x="301.38" y="860.05" width="11.94" height="14.05" fill="#1b315f"/>
<rect x="314.12" y="860.05" width="11.94" height="14.05" fill="#1b3566"/>
<rect x="326.86" y="860.05" width="11.94" height="14.05" fill="#1b3566"/>
<rect x="339.60" y="860.05" width="11.94" height="14.05" fill="#1b3566"/>
<rect x="352.34" y="860.05" width="11.94" height="14.05" fill="#1b3566"/>
<rect x="365.08" y="860.05" width="11.94" height="14.05" fill="#1b3566"/>
<rect x="377.82" y="860.05" width="11.94" height="14.05" fill="#1b3566"/>
<rect x="390.56" y="860.05" width="11.94" height="14.05" fill="#1d5090"/>
<rect x="403.30" y="860.05" width="11.94" height="14.05" fill="#1d5497"/>
<rect x="416.04" y="860.05" width="11.94" height="14.05" fill="#1c4680"/>
<rect x="428.78" y="860.05" width="11.94" height="14.05" fill="#1c4279"/>
<rect x="441.52" y="860.05" width="11.94" height="14.05" fill="#3982bd"/>
<rect x="454.26" y="860.05" width="11.94" height="14.05" fill="#2d70b0"/>
<rect x="467.00" y="860.05" width="11.94" height="14.05" fill="#60a0cc"/>
<rect x="479.74" y="860.05" width="11.94" height="14.05" fill="#3982bd"/>
<rect x="492.48" y="860.05" width="11.94" height="14.05" fill="#1d5090"/>
<rect x="505.22" y="860.05" width="11.94" height="14.05" fill="#2566a8"/>
<rect x="517.96" y="860.05" width="11.94" height="14.05" fill="#1b3566"/>
<rect x="530.70" y="860.05" width="11.94" height="14.05" fill="#1b396c"/>
<rect x="543.44" y="860.05" width="11.94" height="14.05" fill="#1b315f"/>
<rect x="556.18" y="860.05" width="11.94" height="14.05" fill="#1b315f"/>
<rect x="568.92" y="860.05" width="11.94" height="14.05" fill="#2566a8"/>
<rect x="581.66" y="860.05" width="11.94" height="14.05" fill="#2a6cad"/>
<rect x="594.40" y="860.05" width="11.94" height="14.05" fill="#1c4a87"/>
<rect x="607.14" y="860.05" width="11.94" height="14.05" fill="#1b3769"/>
<rect x="619.88" y="860.05" width="11.94" height="14.05" fill="#1d5ba0"/>
<rect x="632.62" y="860.05" width="11.94" height="14.05" fill="#2d70b0"/>
<rect x="84.80" y="874.90" width="11.94" height="14.05" fill="#1b386b"/>
<rect x="97.54" y="874.90" width="11.94" height="14.05" fill="#1b386b"/>
<rect x="110.28" y="874.90" width="11.94" height="14.05" fill="#1c3c71"/>
<rect x="123.02" y="874.90" width="11.94" height="14.05" fill="#1c3c71"/>
<rect x="135.76" y="874.90" width="11.94" height="14.05" fill="#1c3c71"/>
<rect x="148.50" y="874.90" width="11.94" height="14.05" fill="#1c3c71"/>
<rect x="161.24" y="874.90" width="11.94" height="14.05" fill="#1b386b"/>
<rect x="173.98" y="874.90" width="11.94" height="14.05" fill="#1b386b"/>
<rect x="186.72" y="874.90" width="11.94" height="14.05" fill="#1c447d"/>
<rect x="199.46" y="874.90" width="11.94" height="14.05" fill="#1c447d"/>
<rect x="212.20" y="874.90" width="11.94" height="14.05" fill="#1d569a"/>
<rect x="224.94" y="874.90" width="11.94" height="14.05" fill="#205ea3"/>
<rect x="237.68" y="874.90" width="11.94" height="14.05" fill="#1c3c71"/>
<rect x="250.42" y="874.90" width="11.94" height="14.05" fill="#1c3c71"/>
<rect x="263.16" y="874.90" width="11.94" height="14.05" fill="#1c4783"/>
<rect x="275.90" y="874.90" width="11.94" height="14.05" fill="#1c4f8f"/>
<rect x="288.64" y="874.90" width="11.94" height="14.05" fill="#1c3c71"/>
<rect x="301.38" y="874.90" width="11.94" height="14.05" fill="#1c4077"/>
<rect x="314.12" y="874.90" width="11.94" height="14.05" fill="#1c3c71"/>
<rect x="326.86" y="874.90" width="11.94" height="14.05" fill="#1c3c71"/>
<rect x="339.60" y="874.90" width="11.94" height="14.05" fill="#1c3c71"/>
<rect x="352.34" y="874.90" width="11.94" height="14.05" fill="#1c3c71"/>
<rect x="365.08" y="874.90" width="11.94" height="14.05" fill="#1c3c71"/>
<rect x="377.82" y="874.90" width="11.94" height="14.05" fill="#1c3c71"/>
<rect x="390.56" y="874.90" width="11.94" height="14.05" fill="#1d569a"/>
<rect x="403.30" y="874.90" width="11.94" height="14.05" fill="#205ea3"/>
<rect x="416.04" y="874.90" width="11.94" height="14.05" fill="#1d5ba0"/>
<rect x="428.78" y="874.90" width="11.94" height="14.05" fill="#205ea3"/>
<rect x="441.52" y="874.90" width="11.94" height="14.05" fill="#1c447d"/>
<rect x="454.26" y="874.90" width="11.94" height="14.05" fill="#1d569a"/>
<rect x="467.00" y="874.90" width="11.94" height="14.05" fill="#1d569a"/>
<rect x="479.74" y="874.90" width="11.94" height="14.05" fill="#205ea3"/>
<rect x="492.48" y="874.90" width="11.94" height="14.05" fill="#1d5ba0"/>
<rect x="505.22" y="874.90" width="11.94" height="14.05" fill="#1d569a"/>
<rect x="517.96" y="874.90" width="11.94" height="14.05" fill="#1c447d"/>
<rect x="530.70" y="874.90" width="11.94" height="14.05" fill="#1c447d"/>
<rect x="543.44" y="874.90" width="11.94" height="14.05" fill="#1d569a"/>
<rect x="556.18" y="874.90" width="11.94" height="14.05" fill="#1d5ba0"/>
<rect x="568.92" y="874.90" width="11.94" height="14.05" fill="#1d569a"/>
<rect x="581.66" y="874.90" width="11.94" height="14.05" fill="#1b315f"/>
<rect x="594.40" y="874.90" width="11.94" height="14.05" fill="#1c4f8f"/>
<rect x="607.14" y="874.90" width="11.94" height="14.05" fill="#1d5ba0"/>
<rect x="619.88" y="874.90" width="11.94" height="14.05" fill="#1d5090"/>
<rect x="632.62" y="874.90" width="11.94" height="14.05" fill="#1b386b"/>
<rect x="84.80" y="889.75" width="11.94" height="14.05" fill="#1c4782"/>
<rect x="97.54" y="889.75" width="11.94" height="14.05" fill="#1c4782"/>
<rect x="110.28" y="889.75" width="11.94" height="14.05" fill="#1c4782"/>
<rect x="123.02" y="889.75" width="11.94" height="14.05" fill="#1c4782"/>
<rect x="135.76" y="889.75" width="11.94" height="14.05" fill="#1d569a"/>
<rect x="148.50" y="889.75" width="11.94" height="14.05" fill="#1d5090"/>
<rect x="161.24" y="889.75" width="11.94" height="14.05" fill="#2160a4"/>
<rect x="173.98" y="889.75" width="11.94" height="14.05" fill="#2160a4"/>
<rect x="186.72" y="889.75" width="11.94" height="14.05" fill="#1d5090"/>
<rect x="199.46" y="889.75" width="11.94" height="14.05" fill="#1c4a87"/>
<rect x="212.20" y="889.75" width="11.94" height="14.05" fill="#1d5090"/>
<rect x="224.94" y="889.75" width="11.94" height="14.05" fill="#1d5090"/>
<rect x="237.68" y="889.75" width="11.94" height="14.05" fill="#1c447d"/>
<rect x="250.42" y="889.75" width="11.94" height="14.05" fill="#1c447d"/>
<rect x="263.16" y="889.75" width="11.94" height="14.05" fill="#1c4a87"/>
<rect x="275.90" y="889.75" width="11.94" height="14.05" fill="#1d569a"/>
<rect x="288.64" y="889.75" width="11.94" height="14.05" fill="#1d5090"/>
<rect x="301.38" y="889.75" width="11.94" height="14.05" fill="#1d5090"/>
<rect x="314.12" y="889.75" width="11.94" height="14.05" fill="#1c4178"/>
<rect x="326.86" y="889.75" width="11.94" height="14.05" fill="#1c4178"/>
<rect x="339.60" y="889.75" width="11.94" height="14.05" fill="#1c3d73"/>
<rect x="352.34" y="889.75" width="11.94" height="14.05" fill="#1c3d73"/>
<rect x="365.08" y="889.75" width="11.94" height="14.05" fill="#1d5090"/>
<rect x="377.82" y="889.75" width="11.94" height="14.05" fill="#1d5090"/>
<rect x="390.56" y="889.75" width="11.94" height="14.05" fill="#1d569a"/>
<rect x="403.30" y="889.75" width="11.94" height="14.05" fill="#2160a4"/>
<rect x="416.04" y="889.75" width="11.94" height="14.05" fill="#1d569a"/>
<rect x="428.78" y="889.75" width="11.94" height="14.05" fill="#2160a4"/>
<rect x="441.52" y="889.75" width="11.94" height="14.05" fill="#1d5ba0"/>
<rect x="454.26" y="889.75" width="11.94" height="14.05" fill="#215fa4"/>
<rect x="467.00" y="889.75" width="11.94" height="14.05" fill="#2566a8"/>
<rect x="479.74" y="889.75" width="11.94" height="14.05" fill="#1d5ba0"/>
<rect x="492.48" y="889.75" width="11.94" height="14.05" fill="#1d5090"/>
<rect x="505.22" y="889.75" width="11.94" height="14.05" fill="#1d5ba0"/>
<rect x="517.96" y="889.75" width="11.94" height="14.05" fill="#1d569a"/>
<rect x="530.70" y="889.75" width="11.94" height="14.05" fill="#1d569a"/>
<rect x="543.44" y="889.75" width="11.94" height="14.05" fill="#1d5ba0"/>
<rect x="556.18" y="889.75" width="11.94" height="14.05" fill="#1d5ba0"/>
<rect x="568.92" y="889.75" width="11.94" height="14.05" fill="#215fa4"/>
<rect x="581.66" y="889.75" width="11.94" height="14.05" fill="#215fa4"/>
<rect x="594.40" y="889.75" width="11.94" height="14.05" fill="#1d5ba0"/>
<rect x="607.14" y="889.75" width="11.94" height="14.05" fill="#68a6cf"/>
<rect x="619.88" y="889.75" width="11.94" height="14.05" fill="#2d70b0"/>
<rect x="632.62" y="889.75" width="11.94" height="14.05" fill="#1b315f"/>
<rect x="84.80" y="904.60" width="11.94" height="14.05" fill="#f8bb9e"/>
<rect x="97.54" y="904.60" width="11.94" height="14.05" fill="#f4a582"/>
<rect x="110.28" y="904.60" width="11.94" height="14.05" fill="#fcdfce"/>
<rect x="123.02" y="904.60" width="11.94" height="14.05" fill="#f9c0a5"/>
<rect x="135.76" y="904.60" width="11.94" height="14.05" fill="#fcd6c1"/>
<rect x="148.50" y="904.60" width="11.94" height="14.05" fill="#f5ad8c"/>
<rect x="161.24" y="904.60" width="11.94" height="14.05" fill="#bf3338"/>
<rect x="173.98" y="904.60" width="11.94" height="14.05" fill="#67001f"/>
<rect x="186.72" y="904.60" width="11.94" height="14.05" fill="#d3e6f0"/>
<rect x="199.46" y="904.60" width="11.94" height="14.05" fill="#add2e6"/>
<rect x="212.20" y="904.60" width="11.94" height="14.05" fill="#99c7e0"/>
<rect x="224.94" y="904.60" width="11.94" height="14.05" fill="#68a6cf"/>
<rect x="237.68" y="904.60" width="11.94" height="14.05" fill="#e98c6f"/>
<rect x="250.42" y="904.60" width="11.94" height="14.05" fill="#ce5045"/>
<rect x="263.16" y="904.60" width="11.94" height="14.05" fill="#fcdfce"/>
<rect x="275.90" y="904.60" width="11.94" height="14.05" fill="#f7f4f1"/>
<rect x="288.64" y="904.60" width="11.94" height="14.05" fill="#b6202f"/>
<rect x="301.38" y="904.60" width="11.94" height="14.05" fill="#950f26"/>
<rect x="314.12" y="904.60" width="11.94" height="14.05" fill="#f8bb9e"/>
<rect x="326.86" y="904.60" width="11.94" height="14.05" fill="#f4a582"/>
<rect x="339.60" y="904.60" width="11.94" height="14.05" fill="#bf3338"/>
<rect x="352.34" y="904.60" width="11.94" height="14.05" fill="#ce5045"/>
<rect x="365.08" y="904.60" width="11.94" height="14.05" fill="#a01228"/>
<rect x="377.82" y="904.60" width="11.94" height="14.05" fill="#820923"/>
<rect x="390.56" y="904.60" width="11.94" height="14.05" fill="#ee9777"/>
<rect x="403.30" y="904.60" width="11.94" height="14.05" fill="#e98c6f"/>
<rect x="416.04" y="904.60" width="11.94" height="14.05" fill="#950f26"/>
<rect x="428.78" y="904.60" width="11.94" height="14.05" fill="#a81529"/>
<rect x="441.52" y="904.60" width="11.94" height="14.05" fill="#d3e6f0"/>
<rect x="454.26" y="904.60" width="11.94" height="14.05" fill="#ddeaf2"/>
<rect x="467.00" y="904.60" width="11.94" height="14.05" fill="#c4deec"/>
<rect x="479.74" y="904.60" width="11.94" height="14.05" fill="#d7e8f1"/>
<rect x="492.48" y="904.60" width="11.94" height="14.05" fill="#820923"/>
<rect x="505.22" y="904.60" width="11.94" height="14.05" fill="#a81529"/>
<rect x="517.96" y="904.60" width="11.94" height="14.05" fill="#f4a582"/>
<rect x="530.70" y="904.60" width="11.94" height="14.05" fill="#da6954"/>
<rect x="543.44" y="904.60" width="11.94" height="14.05" fill="#c84540"/>
<rect x="556.18" y="904.60" width="11.94" height="14.05" fill="#b6202f"/>
<rect x="568.92" y="904.60" width="11.94" height="14.05" fill="#cee4ef"/>
<rect x="581.66" y="904.60" width="11.94" height="14.05" fill="#f4f5f5"/>
<rect x="594.40" y="904.60" width="11.94" height="14.05" fill="#f5ad8c"/>
<rect x="607.14" y="904.60" width="11.94" height="14.05" fill="#f4a582"/>
<rect x="619.88" y="904.60" width="11.94" height="14.05" fill="#e7eff3"/>
<rect x="632.62" y="904.60" width="11.94" height="14.05" fill="#92c4de"/>
<rect x="84.80" y="919.45" width="11.94" height="14.05" fill="#d3e6f0"/>
<rect x="97.54" y="919.45" width="11.94" height="14.05" fill="#bad9e9"/>
<rect x="110.28" y="919.45" width="11.94" height="14.05" fill="#b4d5e8"/>
<rect x="123.02" y="919.45" width="11.94" height="14.05" fill="#68a6cf"/>
<rect x="135.76" y="919.45" width="11.94" height="14.05" fill="#ddeaf2"/>
<rect x="148.50" y="919.45" width="11.94" height="14.05" fill="#ddeaf2"/>
<rect x="161.24" y="919.45" width="11.94" height="14.05" fill="#d3e6f0"/>
<rect x="173.98" y="919.45" width="11.94" height="14.05" fill="#d7e8f1"/>
<rect x="186.72" y="919.45" width="11.94" height="14.05" fill="#2a6cad"/>
<rect x="199.46" y="919.45" width="11.94" height="14.05" fill="#2d70b0"/>
<rect x="212.20" y="919.45" width="11.94" height="14.05" fill="#286aab"/>
<rect x="224.94" y="919.45" width="11.94" height="14.05" fill="#215fa4"/>
<rect x="237.68" y="919.45" width="11.94" height="14.05" fill="#e3edf2"/>
<rect x="250.42" y="919.45" width="11.94" height="14.05" fill="#99c7e0"/>
<rect x="263.16" y="919.45" width="11.94" height="14.05" fill="#b4d5e8"/>
<rect x="275.90" y="919.45" width="11.94" height="14.05" fill="#add2e6"/>
<rect x="288.64" y="919.45" width="11.94" height="14.05" fill="#a3cce3"/>
<rect x="301.38" y="919.45" width="11.94" height="14.05" fill="#b4d5e8"/>
<rect x="314.12" y="919.45" width="11.94" height="14.05" fill="#cee4ef"/>
<rect x="326.86" y="919.45" width="11.94" height="14.05" fill="#d3e6f0"/>
<rect x="339.60" y="919.45" width="11.94" height="14.05" fill="#fae9df"/>
<rect x="352.34" y="919.45" width="11.94" height="14.05" fill="#fcdfce"/>
<rect x="365.08" y="919.45" width="11.94" height="14.05" fill="#f8bb9e"/>
<rect x="377.82" y="919.45" width="11.94" height="14.05" fill="#fddbc7"/>
<rect x="390.56" y="919.45" width="11.94" height="14.05" fill="#fbe6da"/>
<rect x="403.30" y="919.45" width="11.94" height="14.05" fill="#fcdfce"/>
<rect x="416.04" y="919.45" width="11.94" height="14.05" fill="#fac8af"/>
<rect x="428.78" y="919.45" width="11.94" height="14.05" fill="#fbd1ba"/>
<rect x="441.52" y="919.45" width="11.94" height="14.05" fill="#fcdfce"/>
<rect x="454.26" y="919.45" width="11.94" height="14.05" fill="#f9c0a5"/>
<rect x="467.00" y="919.45" width="11.94" height="14.05" fill="#fbe6da"/>
<rect x="479.74" y="919.45" width="11.94" height="14.05" fill="#fbd1ba"/>
<rect x="492.48" y="919.45" width="11.94" height="14.05" fill="#ce5045"/>
<rect x="505.22" y="919.45" width="11.94" height="14.05" fill="#bad9e9"/>
<rect x="517.96" y="919.45" width="11.94" height="14.05" fill="#f5ad8c"/>
<rect x="530.70" y="919.45" width="11.94" height="14.05" fill="#e98c6f"/>
<rect x="543.44" y="919.45" width="11.94" height="14.05" fill="#fbe6da"/>
<rect x="556.18" y="919.45" width="11.94" height="14.05" fill="#f7f4f1"/>
<rect x="568.92" y="919.45" width="11.94" height="14.05" fill="#ee9777"/>
<rect x="581.66" y="919.45" width="11.94" height="14.05" fill="#e98c6f"/>
<rect x="594.40" y="919.45" width="11.94" height="14.05" fill="#d3e6f0"/>
<rect x="607.14" y="919.45" width="11.94" height="14.05" fill="#347bb8"/>
<rect x="619.88" y="919.45" width="11.94" height="14.05" fill="#f5ad8c"/>
<rect x="632.62" y="919.45" width="11.94" height="14.05" fill="#92c4de"/>
<rect x="84.80" y="934.30" width="11.94" height="14.05" fill="#1c4a87"/>
<rect x="97.54" y="934.30" width="11.94" height="14.05" fill="#1d5ba0"/>
<rect x="110.28" y="934.30" width="11.94" height="14.05" fill="#1d5ba0"/>
<rect x="123.02" y="934.30" width="11.94" height="14.05" fill="#1d5ba0"/>
<rect x="135.76" y="934.30" width="11.94" height="14.05" fill="#1d569a"/>
<rect x="148.50" y="934.30" width="11.94" height="14.05" fill="#1d5ba0"/>
<rect x="161.24" y="934.30" width="11.94" height="14.05" fill="#1c4076"/>
<rect x="173.98" y="934.30" width="11.94" height="14.05" fill="#1c3d73"/>
<rect x="186.72" y="934.30" width="11.94" height="14.05" fill="#1c4279"/>
<rect x="199.46" y="934.30" width="11.94" height="14.05" fill="#1c4076"/>
<rect x="212.20" y="934.30" width="11.94" height="14.05" fill="#1c3d73"/>
<rect x="224.94" y="934.30" width="11.94" height="14.05" fill="#1c3d73"/>
<rect x="237.68" y="934.30" width="11.94" height="14.05" fill="#1c4a87"/>
<rect x="250.42" y="934.30" width="11.94" height="14.05" fill="#1c3b6f"/>
<rect x="263.16" y="934.30" width="11.94" height="14.05" fill="#1c3b6f"/>
<rect x="275.90" y="934.30" width="11.94" height="14.05" fill="#1b3769"/>
<rect x="288.64" y="934.30" width="11.94" height="14.05" fill="#1d5ba0"/>
<rect x="301.38" y="934.30" width="11.94" height="14.05" fill="#1d569a"/>
<rect x="314.12" y="934.30" width="11.94" height="14.05" fill="#347bb8"/>
<rect x="326.86" y="934.30" width="11.94" height="14.05" fill="#3075b3"/>
<rect x="339.60" y="934.30" width="11.94" height="14.05" fill="#b4d5e8"/>
<rect x="352.34" y="934.30" width="11.94" height="14.05" fill="#a3cce3"/>
<rect x="365.08" y="934.30" width="11.94" height="14.05" fill="#f7f4f1"/>
<rect x="377.82" y="934.30" width="11.94" height="14.05" fill="#b4d5e8"/>
<rect x="390.56" y="934.30" width="11.94" height="14.05" fill="#f19e7c"/>
<rect x="403.30" y="934.30" width="11.94" height="14.05" fill="#ee9777"/>
<rect x="416.04" y="934.30" width="11.94" height="14.05" fill="#fac8af"/>
<rect x="428.78" y="934.30" width="11.94" height="14.05" fill="#f4a582"/>
<rect x="441.52" y="934.30" width="11.94" height="14.05" fill="#bf3338"/>
<rect x="454.26" y="934.30" width="11.94" height="14.05" fill="#a01228"/>
<rect x="467.00" y="934.30" width="11.94" height="14.05" fill="#da6954"/>
<rect x="479.74" y="934.30" width="11.94" height="14.05" fill="#d25749"/>
<rect x="492.48" y="934.30" width="11.94" height="14.05" fill="#fbe6da"/>
<rect x="505.22" y="934.30" width="11.94" height="14.05" fill="#f7b597"/>
<rect x="517.96" y="934.30" width="11.94" height="14.05" fill="#f4a582"/>
<rect x="530.70" y="934.30" width="11.94" height="14.05" fill="#e98c6f"/>
<rect x="543.44" y="934.30" width="11.94" height="14.05" fill="#fcdfce"/>
<rect x="556.18" y="934.30" width="11.94" height="14.05" fill="#fac8af"/>
<rect x="568.92" y="934.30" width="11.94" height="14.05" fill="#e98c6f"/>
<rect x="581.66" y="934.30" width="11.94" height="14.05" fill="#df745c"/>
<rect x="594.40" y="934.30" width="11.94" height="14.05" fill="#fac8af"/>
<rect x="607.14" y="934.30" width="11.94" height="14.05" fill="#fbd1ba"/>
<rect x="619.88" y="934.30" width="11.94" height="14.05" fill="#fae9df"/>
<rect x="632.62" y="934.30" width="11.94" height="14.05" fill="#5396c8"/>
<rect x="84.70" y="951.4" width="12.14" height="6.8" fill="#e9a8c8"/>
<rect x="84.70" y="959.5" width="12.14" height="6.8" fill="#7b4fa8"/>
<rect x="97.44" y="951.4" width="12.14" height="6.8" fill="#cbdaf2"/>
<rect x="97.44" y="959.5" width="12.14" height="6.8" fill="#7b4fa8"/>
<rect x="110.18" y="951.4" width="12.14" height="6.8" fill="#e9a8c8"/>
<rect x="110.18" y="959.5" width="12.14" height="6.8" fill="#d3b92a"/>
<rect x="122.92" y="951.4" width="12.14" height="6.8" fill="#cbdaf2"/>
<rect x="122.92" y="959.5" width="12.14" height="6.8" fill="#d3b92a"/>
<rect x="135.66" y="951.4" width="12.14" height="6.8" fill="#e9a8c8"/>
<rect x="135.66" y="959.5" width="12.14" height="6.8" fill="#7b4fa8"/>
<rect x="148.40" y="951.4" width="12.14" height="6.8" fill="#cbdaf2"/>
<rect x="148.40" y="959.5" width="12.14" height="6.8" fill="#7b4fa8"/>
<rect x="161.14" y="951.4" width="12.14" height="6.8" fill="#e9a8c8"/>
<rect x="161.14" y="959.5" width="12.14" height="6.8" fill="#d3b92a"/>
<rect x="173.88" y="951.4" width="12.14" height="6.8" fill="#cbdaf2"/>
<rect x="173.88" y="959.5" width="12.14" height="6.8" fill="#d3b92a"/>
<rect x="186.62" y="951.4" width="12.14" height="6.8" fill="#e9a8c8"/>
<rect x="186.62" y="959.5" width="12.14" height="6.8" fill="#7b4fa8"/>
<rect x="199.36" y="951.4" width="12.14" height="6.8" fill="#cbdaf2"/>
<rect x="199.36" y="959.5" width="12.14" height="6.8" fill="#7b4fa8"/>
<rect x="212.10" y="951.4" width="12.14" height="6.8" fill="#e9a8c8"/>
<rect x="212.10" y="959.5" width="12.14" height="6.8" fill="#d3b92a"/>
<rect x="224.84" y="951.4" width="12.14" height="6.8" fill="#cbdaf2"/>
<rect x="224.84" y="959.5" width="12.14" height="6.8" fill="#d3b92a"/>
<rect x="237.58" y="951.4" width="12.14" height="6.8" fill="#e9a8c8"/>
<rect x="237.58" y="959.5" width="12.14" height="6.8" fill="#d3b92a"/>
<rect x="250.32" y="951.4" width="12.14" height="6.8" fill="#cbdaf2"/>
<rect x="250.32" y="959.5" width="12.14" height="6.8" fill="#d3b92a"/>
<rect x="263.06" y="951.4" width="12.14" height="6.8" fill="#e9a8c8"/>
<rect x="263.06" y="959.5" width="12.14" height="6.8" fill="#d3b92a"/>
<rect x="275.80" y="951.4" width="12.14" height="6.8" fill="#cbdaf2"/>
<rect x="275.80" y="959.5" width="12.14" height="6.8" fill="#d3b92a"/>
<rect x="288.54" y="951.4" width="12.14" height="6.8" fill="#e9a8c8"/>
<rect x="288.54" y="959.5" width="12.14" height="6.8" fill="#d3b92a"/>
<rect x="301.28" y="951.4" width="12.14" height="6.8" fill="#cbdaf2"/>
<rect x="301.28" y="959.5" width="12.14" height="6.8" fill="#d3b92a"/>
<rect x="314.02" y="951.4" width="12.14" height="6.8" fill="#e9a8c8"/>
<rect x="314.02" y="959.5" width="12.14" height="6.8" fill="#7b4fa8"/>
<rect x="326.76" y="951.4" width="12.14" height="6.8" fill="#cbdaf2"/>
<rect x="326.76" y="959.5" width="12.14" height="6.8" fill="#7b4fa8"/>
<rect x="339.50" y="951.4" width="12.14" height="6.8" fill="#e9a8c8"/>
<rect x="339.50" y="959.5" width="12.14" height="6.8" fill="#d3b92a"/>
<rect x="352.24" y="951.4" width="12.14" height="6.8" fill="#cbdaf2"/>
<rect x="352.24" y="959.5" width="12.14" height="6.8" fill="#d3b92a"/>
<rect x="364.98" y="951.4" width="12.14" height="6.8" fill="#e9a8c8"/>
<rect x="364.98" y="959.5" width="12.14" height="6.8" fill="#7b4fa8"/>
<rect x="377.72" y="951.4" width="12.14" height="6.8" fill="#cbdaf2"/>
<rect x="377.72" y="959.5" width="12.14" height="6.8" fill="#7b4fa8"/>
<rect x="390.46" y="951.4" width="12.14" height="6.8" fill="#e9a8c8"/>
<rect x="390.46" y="959.5" width="12.14" height="6.8" fill="#7b4fa8"/>
<rect x="403.20" y="951.4" width="12.14" height="6.8" fill="#cbdaf2"/>
<rect x="403.20" y="959.5" width="12.14" height="6.8" fill="#7b4fa8"/>
<rect x="415.94" y="951.4" width="12.14" height="6.8" fill="#e9a8c8"/>
<rect x="415.94" y="959.5" width="12.14" height="6.8" fill="#d3b92a"/>
<rect x="428.68" y="951.4" width="12.14" height="6.8" fill="#cbdaf2"/>
<rect x="428.68" y="959.5" width="12.14" height="6.8" fill="#d3b92a"/>
<rect x="441.42" y="951.4" width="12.14" height="6.8" fill="#e9a8c8"/>
<rect x="441.42" y="959.5" width="12.14" height="6.8" fill="#7b4fa8"/>
<rect x="454.16" y="951.4" width="12.14" height="6.8" fill="#cbdaf2"/>
<rect x="454.16" y="959.5" width="12.14" height="6.8" fill="#7b4fa8"/>
<rect x="466.90" y="951.4" width="12.14" height="6.8" fill="#e9a8c8"/>
<rect x="466.90" y="959.5" width="12.14" height="6.8" fill="#7b4fa8"/>
<rect x="479.64" y="951.4" width="12.14" height="6.8" fill="#cbdaf2"/>
<rect x="479.64" y="959.5" width="12.14" height="6.8" fill="#7b4fa8"/>
<rect x="492.38" y="951.4" width="12.14" height="6.8" fill="#e9a8c8"/>
<rect x="492.38" y="959.5" width="12.14" height="6.8" fill="#d3b92a"/>
<rect x="505.12" y="951.4" width="12.14" height="6.8" fill="#cbdaf2"/>
<rect x="505.12" y="959.5" width="12.14" height="6.8" fill="#d3b92a"/>
<rect x="517.86" y="951.4" width="12.14" height="6.8" fill="#e9a8c8"/>
<rect x="517.86" y="959.5" width="12.14" height="6.8" fill="#7b4fa8"/>
<rect x="530.60" y="951.4" width="12.14" height="6.8" fill="#cbdaf2"/>
<rect x="530.60" y="959.5" width="12.14" height="6.8" fill="#7b4fa8"/>
<rect x="543.34" y="951.4" width="12.14" height="6.8" fill="#e9a8c8"/>
<rect x="543.34" y="959.5" width="12.14" height="6.8" fill="#d3b92a"/>
<rect x="556.08" y="951.4" width="12.14" height="6.8" fill="#cbdaf2"/>
<rect x="556.08" y="959.5" width="12.14" height="6.8" fill="#d3b92a"/>
<rect x="568.82" y="951.4" width="12.14" height="6.8" fill="#e9a8c8"/>
<rect x="568.82" y="959.5" width="12.14" height="6.8" fill="#7b4fa8"/>
<rect x="581.56" y="951.4" width="12.14" height="6.8" fill="#cbdaf2"/>
<rect x="581.56" y="959.5" width="12.14" height="6.8" fill="#7b4fa8"/>
<rect x="594.30" y="951.4" width="12.14" height="6.8" fill="#e9a8c8"/>
<rect x="594.30" y="959.5" width="12.14" height="6.8" fill="#d3b92a"/>
<rect x="607.04" y="951.4" width="12.14" height="6.8" fill="#cbdaf2"/>
<rect x="607.04" y="959.5" width="12.14" height="6.8" fill="#d3b92a"/>
<rect x="619.78" y="951.4" width="12.14" height="6.8" fill="#e9a8c8"/>
<rect x="619.78" y="959.5" width="12.14" height="6.8" fill="#d3b92a"/>
<rect x="632.52" y="951.4" width="12.14" height="6.8" fill="#cbdaf2"/>
<rect x="632.52" y="959.5" width="12.14" height="6.8" fill="#d3b92a"/>
<path d="M135.4 951V1008.3" stroke="#222" stroke-width="0.9"/>
<path d="M186.3 951V1008.3" stroke="#222" stroke-width="0.9"/>
<path d="M237.3 951V1008.3" stroke="#222" stroke-width="0.9"/>
<path d="M262.8 951V1008.3" stroke="#222" stroke-width="0.9"/>
<path d="M288.2 951V1008.3" stroke="#222" stroke-width="0.9"/>
<path d="M313.7 951V1008.3" stroke="#222" stroke-width="0.9"/>
<path d="M364.7 951V1008.3" stroke="#222" stroke-width="0.9"/>
<path d="M390.2 951V1008.3" stroke="#222" stroke-width="0.9"/>
<path d="M441.1 951V1008.3" stroke="#222" stroke-width="0.9"/>
<path d="M466.6 951V1008.3" stroke="#222" stroke-width="0.9"/>
<path d="M492.1 951V1008.3" stroke="#222" stroke-width="0.9"/>
<path d="M517.6 951V1008.3" stroke="#222" stroke-width="0.9"/>
<path d="M568.5 951V1008.3" stroke="#222" stroke-width="0.9"/>
<path d="M619.5 951V1008.3" stroke="#222" stroke-width="0.9"/>
<path d="M83.9 749.5H312.5M320 749.5H645.0" stroke="#222" stroke-width="1.1"/>
<path d="M645.0 763.1h2" stroke="#222" stroke-width="0.8"/>
<text x="650.7" y="767.0" font-size="14.4" font-style="italic" textLength="34.4" lengthAdjust="spacingAndGlyphs">SOX2</text>
<path d="M645.0 778.0h2" stroke="#222" stroke-width="0.8"/>
<text x="650.7" y="782.0" font-size="14.4" font-style="italic" textLength="42.6" lengthAdjust="spacingAndGlyphs">SOX10</text>
<path d="M645.0 792.8h2" stroke="#222" stroke-width="0.8"/>
<text x="650.7" y="797.0" font-size="14.4" font-style="italic" textLength="33.5" lengthAdjust="spacingAndGlyphs">ZEB2</text>
<path d="M645.0 807.7h2" stroke="#222" stroke-width="0.8"/>
<text x="650.7" y="811.9" font-size="14.4" font-style="italic" textLength="43.9" lengthAdjust="spacingAndGlyphs">GFRA1</text>
<path d="M645.0 822.5h2" stroke="#222" stroke-width="0.8"/>
<text x="650.7" y="826.9" font-size="14.4" font-style="italic" textLength="46.9" lengthAdjust="spacingAndGlyphs">EDNRB</text>
<path d="M645.0 837.4h2" stroke="#222" stroke-width="0.8"/>
<text x="650.7" y="841.9" font-size="14.4" font-style="italic" textLength="23.9" lengthAdjust="spacingAndGlyphs">RET</text>
<path d="M645.0 852.2h2" stroke="#222" stroke-width="0.8"/>
<text x="650.7" y="856.9" font-size="14.4" font-style="italic" textLength="44.1" lengthAdjust="spacingAndGlyphs">BACE2</text>
<path d="M645.0 867.1h2" stroke="#222" stroke-width="0.8"/>
<text x="650.7" y="871.8" font-size="14.4" font-style="italic" textLength="36.6" lengthAdjust="spacingAndGlyphs">NRG1</text>
<path d="M645.0 881.9h2" stroke="#222" stroke-width="0.8"/>
<text x="650.7" y="886.8" font-size="14.4" font-style="italic" textLength="33.5" lengthAdjust="spacingAndGlyphs">ECE1</text>
<path d="M645.0 896.8h2" stroke="#222" stroke-width="0.8"/>
<text x="650.7" y="901.8" font-size="14.4" font-style="italic" textLength="47.2" lengthAdjust="spacingAndGlyphs">KIF1BP</text>
<path d="M645.0 911.6h2" stroke="#222" stroke-width="0.8"/>
<text x="650.7" y="916.8" font-size="14.4" font-style="italic" textLength="33.5" lengthAdjust="spacingAndGlyphs">TCF4</text>
<path d="M645.0 926.5h2" stroke="#222" stroke-width="0.8"/>
<text x="650.7" y="931.7" font-size="14.4" font-style="italic" textLength="54.6" lengthAdjust="spacingAndGlyphs">PHOX2B</text>
<path d="M645.0 941.3h2" stroke="#222" stroke-width="0.8"/>
<text x="650.7" y="946.7" font-size="14.4" font-style="italic" textLength="55.6" lengthAdjust="spacingAndGlyphs">MAPK10</text>
<path d="M76.6 763.1H83.6M76.6 778.0H83.6M76.6 763.1V778.0M74.6 770.5H76.6M76.3 807.7H83.6M76.3 822.5H83.6M76.3 807.7V822.5M75.2 815.1H76.3M75.2 792.8H83.6M75.2 792.8V815.1M74.6 770.5V804.0M69.0 787.3H74.6M81.0 881.9H83.6M81.0 896.8H83.6M81.0 881.9V896.8M80.2 867.1H83.6M80.2 867.1V889.4M79.5 852.2H83.6M79.5 852.2V878.2M74.0 865.2H79.5M74.0 837.4H83.6M74.0 837.4V865.2M69.0 851.3H74.0M69.0 787.3V851.3M62.6 819.3H69.0M73.2 926.5H83.6M73.2 941.3H83.6M73.2 926.5V941.3M65.8 933.9H73.2M65.8 911.6H83.6M65.8 911.6V933.9M62.6 922.8H65.8M62.6 819.3V922.8" fill="none" stroke="#333" stroke-width="1.1" stroke-linecap="square"/>
<text x="177.5" y="743.5" font-size="13.4" textLength="64" lengthAdjust="spacingAndGlyphs">ENCC/glia</text>
<text x="441.5" y="743.5" font-size="13.4" textLength="95.5" lengthAdjust="spacingAndGlyphs">Enteric neurons</text>
<text x="4.3" y="748.2" font-size="23.5" font-weight="bold" class="bd" textLength="14.6" lengthAdjust="spacingAndGlyphs">e</text>
<defs><linearGradient id="cb" x1="0" y1="1" x2="0" y2="0"><stop offset="0.0" stop-color="#1b315f"/><stop offset="0.1" stop-color="#1d5aa0"/><stop offset="0.2" stop-color="#3b85bf"/><stop offset="0.3" stop-color="#8fc2dd"/><stop offset="0.4" stop-color="#d1e5f0"/><stop offset="0.5" stop-color="#f7f6f5"/><stop offset="0.6" stop-color="#fddbc7"/><stop offset="0.7" stop-color="#f4a582"/><stop offset="0.8" stop-color="#d6604d"/><stop offset="0.9" stop-color="#b2182b"/><stop offset="1.0" stop-color="#67001f"/></linearGradient></defs>
<rect x="22.8" y="910.8" width="10.7" height="81" fill="url(#cb)"/>
<path d="M33.5 930h2.3" stroke="#222" stroke-width="0.8"/>
<text x="38.4" y="935.2" font-size="15" textLength="20" lengthAdjust="spacingAndGlyphs">1.5</text>
<path d="M33.5 950.3h2.3" stroke="#222" stroke-width="0.8"/>
<text x="38.4" y="955.5" font-size="15" textLength="20" lengthAdjust="spacingAndGlyphs">1.0</text>
<path d="M33.5 971h2.3" stroke="#222" stroke-width="0.8"/>
<text x="38.4" y="976.2" font-size="15" textLength="20" lengthAdjust="spacingAndGlyphs">0.5</text>
<path d="M33.5 991.4h2.3" stroke="#222" stroke-width="0.8"/>
<text x="38.4" y="996.6" font-size="15" textLength="7.6" lengthAdjust="spacingAndGlyphs">0</text>
<text transform="translate(16,1003.5) rotate(-90)" font-size="13.4" textLength="104.5" lengthAdjust="spacingAndGlyphs">Mean expression</text>
<rect x="6.4" y="1012.2" width="13.6" height="10" fill="#e9a8c8"/><rect x="6.4" y="1025.7" width="13.6" height="10" fill="#cbdaf2"/>
<rect x="6.4" y="1053.4" width="13.6" height="10" fill="#7b4fa8"/><rect x="6.4" y="1067.1" width="13.6" height="10" fill="#d3b92a"/>
<text x="23.3" y="1021.2" font-size="13.4" textLength="57.2" lengthAdjust="spacingAndGlyphs">Small Int.</text>
<text x="23.3" y="1034.4" font-size="13.4" textLength="57.8" lengthAdjust="spacingAndGlyphs">Large Int.</text>
<text x="24.4" y="1063" font-size="13.4" textLength="65.2" lengthAdjust="spacingAndGlyphs">6–11 PCW</text>
<text x="23.7" y="1077" font-size="13.4" textLength="72" lengthAdjust="spacingAndGlyphs">12–17 PCW</text>
<text transform="translate(103.1,1037.5) rotate(-90)" font-size="13.4" textLength="63.6" lengthAdjust="spacingAndGlyphs">ENCC/glia</text>
<text transform="translate(120.8,1037.5) rotate(-90)" font-size="13.4" textLength="61.2" lengthAdjust="spacingAndGlyphs">progenitor</text>
<text transform="translate(157.5,1066.3) rotate(-90)" font-size="13.4" textLength="97.5" lengthAdjust="spacingAndGlyphs">Cycling ENCC/</text>
<text transform="translate(172.8,993.6) rotate(-90)" font-size="13.4" textLength="20.4" lengthAdjust="spacingAndGlyphs">glia</text>
<text transform="translate(214.6,1008.3) rotate(-90)" font-size="13.4" textLength="34.6" lengthAdjust="spacingAndGlyphs">Glia 1</text>
<text transform="translate(253.5,1084.2) rotate(-90)" font-size="13.4" textLength="111.6" lengthAdjust="spacingAndGlyphs">Differentiating glia</text>
<text transform="translate(278.8,1008.3) rotate(-90)" font-size="13.4" textLength="34.6" lengthAdjust="spacingAndGlyphs">Glia 2</text>
<text transform="translate(306.8,1008.3) rotate(-90)" font-size="13.4" textLength="34.6" lengthAdjust="spacingAndGlyphs">Glia 3</text>
<text transform="translate(344.0,1040.2) rotate(-90)" font-size="13.4" textLength="66.3" lengthAdjust="spacingAndGlyphs">Neuroblast</text>
<text transform="translate(381.4,1087.5) rotate(-90)" font-size="13.4" textLength="114.3" lengthAdjust="spacingAndGlyphs">Cycling neuroblast</text>
<text transform="translate(419.4,1037.6) rotate(-90)" font-size="13.4" textLength="63.7" lengthAdjust="spacingAndGlyphs">Branch A1</text>
<text transform="translate(458.5,1037.6) rotate(-90)" font-size="13.4" textLength="63.7" lengthAdjust="spacingAndGlyphs">Branch A2</text>
<text transform="translate(484.0,1037.6) rotate(-90)" font-size="13.4" textLength="63.7" lengthAdjust="spacingAndGlyphs">Branch A3</text>
<text transform="translate(509.2,1037.6) rotate(-90)" font-size="13.4" textLength="63.7" lengthAdjust="spacingAndGlyphs">Branch A4</text>
<text transform="translate(547.3,1037.6) rotate(-90)" font-size="13.4" textLength="63.7" lengthAdjust="spacingAndGlyphs">Branch B1</text>
<text transform="translate(598.6,1037.6) rotate(-90)" font-size="13.4" textLength="63.7" lengthAdjust="spacingAndGlyphs">Branch B2</text>
<text transform="translate(637.1,1037.6) rotate(-90)" font-size="13.4" textLength="63.7" lengthAdjust="spacingAndGlyphs">Branch B3</text>
</svg>
</body></html>
